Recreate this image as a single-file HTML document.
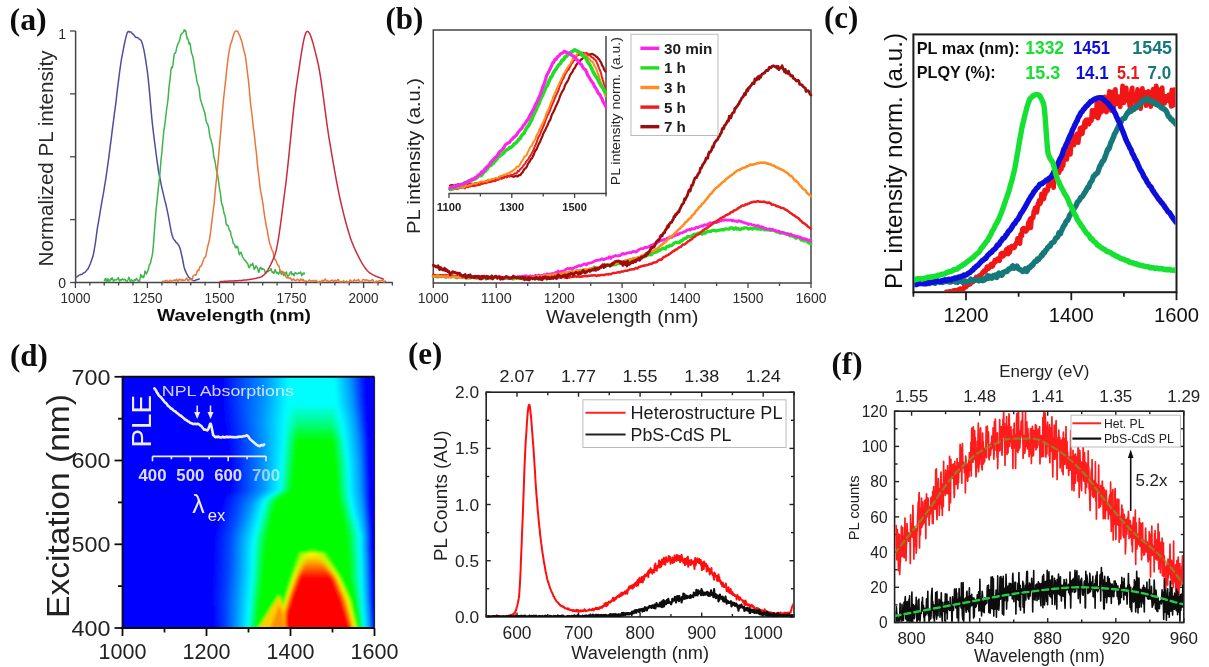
<!DOCTYPE html><html><head><meta charset="utf-8"><style>html,body{margin:0;padding:0;background:#fff;overflow:hidden}svg{display:block}</style></head><body><svg width="1209" height="667" viewBox="0 0 1209 667"><defs><clipPath id="clipc"><rect x="914.4" y="35.4" width="261.1" height="255.8"/></clipPath><clipPath id="clipd"><rect x="122.5" y="376.8" width="252" height="251.2"/></clipPath><filter id="blurd" x="-5%" y="-5%" width="110%" height="110%"><feGaussianBlur stdDeviation="1.6"/></filter><linearGradient id="gd0" gradientUnits="objectBoundingBox" x1="0" y1="0" x2="1" y2="0"><stop offset="0.3996" stop-color="#0000ff"/><stop offset="0.4678" stop-color="#0046ff"/><stop offset="0.5663" stop-color="#0096ff"/><stop offset="0.6572" stop-color="#00ffff"/><stop offset="0.6648" stop-color="#00ffff"/><stop offset="0.7405" stop-color="#00ffff"/><stop offset="0.7405" stop-color="#00ffff"/><stop offset="0.7405" stop-color="#00ffff"/><stop offset="0.7405" stop-color="#00ffff"/><stop offset="0.7405" stop-color="#00ffff"/><stop offset="0.7405" stop-color="#00ffff"/><stop offset="0.7405" stop-color="#00ffff"/><stop offset="0.7405" stop-color="#00ffff"/><stop offset="0.8125" stop-color="#00ffff"/><stop offset="0.8239" stop-color="#00ffff"/><stop offset="0.8845" stop-color="#0096ff"/><stop offset="0.9148" stop-color="#0046ff"/><stop offset="0.9413" stop-color="#0000ff"/></linearGradient><linearGradient id="gd1" gradientUnits="objectBoundingBox" x1="0" y1="0" x2="1" y2="0"><stop offset="0.3996" stop-color="#0000ff"/><stop offset="0.4678" stop-color="#0046ff"/><stop offset="0.5663" stop-color="#0096ff"/><stop offset="0.6572" stop-color="#00ffff"/><stop offset="0.6648" stop-color="#00ffff"/><stop offset="0.7405" stop-color="#00ffff"/><stop offset="0.7405" stop-color="#00ffff"/><stop offset="0.7405" stop-color="#00ffff"/><stop offset="0.7405" stop-color="#00ffff"/><stop offset="0.7405" stop-color="#00ffff"/><stop offset="0.7405" stop-color="#00ffff"/><stop offset="0.7405" stop-color="#00ffff"/><stop offset="0.7405" stop-color="#00ffff"/><stop offset="0.8125" stop-color="#00ffff"/><stop offset="0.8239" stop-color="#00ffff"/><stop offset="0.8845" stop-color="#0096ff"/><stop offset="0.9148" stop-color="#0046ff"/><stop offset="0.9413" stop-color="#0000ff"/></linearGradient><linearGradient id="gd2" gradientUnits="objectBoundingBox" x1="0" y1="0" x2="1" y2="0"><stop offset="0.3996" stop-color="#0000ff"/><stop offset="0.4678" stop-color="#0046ff"/><stop offset="0.5657" stop-color="#0096ff"/><stop offset="0.6563" stop-color="#00ffff"/><stop offset="0.6648" stop-color="#00ffff"/><stop offset="0.7408" stop-color="#00ffff"/><stop offset="0.7408" stop-color="#00ffff"/><stop offset="0.7408" stop-color="#00ffff"/><stop offset="0.7408" stop-color="#00ffff"/><stop offset="0.7408" stop-color="#00ffff"/><stop offset="0.7408" stop-color="#00ffff"/><stop offset="0.7408" stop-color="#00ffff"/><stop offset="0.7408" stop-color="#00ffff"/><stop offset="0.8134" stop-color="#00ffff"/><stop offset="0.8248" stop-color="#00ffff"/><stop offset="0.8854" stop-color="#0096ff"/><stop offset="0.9154" stop-color="#0046ff"/><stop offset="0.9416" stop-color="#0000ff"/></linearGradient><linearGradient id="gd3" gradientUnits="objectBoundingBox" x1="0" y1="0" x2="1" y2="0"><stop offset="0.3996" stop-color="#0000ff"/><stop offset="0.4678" stop-color="#0046ff"/><stop offset="0.5650" stop-color="#0096ff"/><stop offset="0.6552" stop-color="#00ffff"/><stop offset="0.6648" stop-color="#00ffff"/><stop offset="0.7412" stop-color="#00ffff"/><stop offset="0.7412" stop-color="#00ffff"/><stop offset="0.7412" stop-color="#00ffff"/><stop offset="0.7412" stop-color="#00ffff"/><stop offset="0.7412" stop-color="#00ffff"/><stop offset="0.7412" stop-color="#00ffff"/><stop offset="0.7412" stop-color="#00ffff"/><stop offset="0.7412" stop-color="#00ffff"/><stop offset="0.8145" stop-color="#00ffff"/><stop offset="0.8258" stop-color="#00ffff"/><stop offset="0.8865" stop-color="#0096ff"/><stop offset="0.9161" stop-color="#0046ff"/><stop offset="0.9419" stop-color="#0000ff"/></linearGradient><linearGradient id="gd4" gradientUnits="objectBoundingBox" x1="0" y1="0" x2="1" y2="0"><stop offset="0.3996" stop-color="#0000ff"/><stop offset="0.4678" stop-color="#0046ff"/><stop offset="0.5643" stop-color="#0096ff"/><stop offset="0.6542" stop-color="#00ffff"/><stop offset="0.6648" stop-color="#00ffff"/><stop offset="0.7415" stop-color="#00ffff"/><stop offset="0.7415" stop-color="#00ffff"/><stop offset="0.7415" stop-color="#00ffff"/><stop offset="0.7415" stop-color="#00ffff"/><stop offset="0.7415" stop-color="#00ffff"/><stop offset="0.7415" stop-color="#00ffff"/><stop offset="0.7415" stop-color="#00ffff"/><stop offset="0.7415" stop-color="#00ffff"/><stop offset="0.8155" stop-color="#00ffff"/><stop offset="0.8269" stop-color="#00ffff"/><stop offset="0.8875" stop-color="#0096ff"/><stop offset="0.9168" stop-color="#0046ff"/><stop offset="0.9423" stop-color="#0000ff"/></linearGradient><linearGradient id="gd5" gradientUnits="objectBoundingBox" x1="0" y1="0" x2="1" y2="0"><stop offset="0.3996" stop-color="#0000ff"/><stop offset="0.4678" stop-color="#0046ff"/><stop offset="0.5636" stop-color="#0096ff"/><stop offset="0.6531" stop-color="#00ffff"/><stop offset="0.6648" stop-color="#00ffff"/><stop offset="0.7419" stop-color="#00ffff"/><stop offset="0.7419" stop-color="#00ffff"/><stop offset="0.7419" stop-color="#00ffff"/><stop offset="0.7419" stop-color="#00ffff"/><stop offset="0.7419" stop-color="#00ffff"/><stop offset="0.7419" stop-color="#00ffff"/><stop offset="0.7419" stop-color="#00ffff"/><stop offset="0.7419" stop-color="#00ffff"/><stop offset="0.8166" stop-color="#00ffff"/><stop offset="0.8279" stop-color="#00ffff"/><stop offset="0.8885" stop-color="#0096ff"/><stop offset="0.9175" stop-color="#0046ff"/><stop offset="0.9426" stop-color="#0000ff"/></linearGradient><linearGradient id="gd6" gradientUnits="objectBoundingBox" x1="0" y1="0" x2="1" y2="0"><stop offset="0.3996" stop-color="#0000ff"/><stop offset="0.4678" stop-color="#0046ff"/><stop offset="0.5629" stop-color="#0096ff"/><stop offset="0.6521" stop-color="#00ffff"/><stop offset="0.6648" stop-color="#00ffff"/><stop offset="0.7422" stop-color="#00ffff"/><stop offset="0.7422" stop-color="#00ffff"/><stop offset="0.7422" stop-color="#00ffff"/><stop offset="0.7422" stop-color="#00ffff"/><stop offset="0.7422" stop-color="#00ffff"/><stop offset="0.7422" stop-color="#00ffff"/><stop offset="0.7422" stop-color="#00ffff"/><stop offset="0.7422" stop-color="#00ffff"/><stop offset="0.8176" stop-color="#00ffff"/><stop offset="0.8290" stop-color="#00ffff"/><stop offset="0.8896" stop-color="#0096ff"/><stop offset="0.9182" stop-color="#0046ff"/><stop offset="0.9430" stop-color="#0000ff"/></linearGradient><linearGradient id="gd7" gradientUnits="objectBoundingBox" x1="0" y1="0" x2="1" y2="0"><stop offset="0.3996" stop-color="#0000ff"/><stop offset="0.4678" stop-color="#0046ff"/><stop offset="0.5622" stop-color="#0096ff"/><stop offset="0.6510" stop-color="#00ffff"/><stop offset="0.6648" stop-color="#00ffff"/><stop offset="0.7426" stop-color="#00ffff"/><stop offset="0.7426" stop-color="#00ffff"/><stop offset="0.7426" stop-color="#00ffff"/><stop offset="0.7426" stop-color="#00ffff"/><stop offset="0.7426" stop-color="#00ffff"/><stop offset="0.7426" stop-color="#00ffff"/><stop offset="0.7426" stop-color="#00ffff"/><stop offset="0.7426" stop-color="#00ffff"/><stop offset="0.8187" stop-color="#00ffff"/><stop offset="0.8300" stop-color="#00ffff"/><stop offset="0.8906" stop-color="#0096ff"/><stop offset="0.9189" stop-color="#0046ff"/><stop offset="0.9433" stop-color="#0000ff"/></linearGradient><linearGradient id="gd8" gradientUnits="objectBoundingBox" x1="0" y1="0" x2="1" y2="0"><stop offset="0.3996" stop-color="#0000ff"/><stop offset="0.4678" stop-color="#0046ff"/><stop offset="0.5615" stop-color="#0096ff"/><stop offset="0.6500" stop-color="#00ffff"/><stop offset="0.6648" stop-color="#00ffff"/><stop offset="0.7429" stop-color="#00ffff"/><stop offset="0.7429" stop-color="#00ffff"/><stop offset="0.7429" stop-color="#00ffff"/><stop offset="0.7429" stop-color="#00ffff"/><stop offset="0.7429" stop-color="#00ffff"/><stop offset="0.7429" stop-color="#00ffff"/><stop offset="0.7429" stop-color="#00ffff"/><stop offset="0.7429" stop-color="#00ffff"/><stop offset="0.8197" stop-color="#00ffff"/><stop offset="0.8311" stop-color="#00ffff"/><stop offset="0.8917" stop-color="#0096ff"/><stop offset="0.9196" stop-color="#0046ff"/><stop offset="0.9437" stop-color="#0000ff"/></linearGradient><linearGradient id="gd9" gradientUnits="objectBoundingBox" x1="0" y1="0" x2="1" y2="0"><stop offset="0.3996" stop-color="#0000ff"/><stop offset="0.4678" stop-color="#0046ff"/><stop offset="0.5608" stop-color="#0096ff"/><stop offset="0.6489" stop-color="#00ffff"/><stop offset="0.6648" stop-color="#00ffff"/><stop offset="0.7433" stop-color="#00ffff"/><stop offset="0.7433" stop-color="#00ffff"/><stop offset="0.7433" stop-color="#00ffff"/><stop offset="0.7433" stop-color="#00ffff"/><stop offset="0.7433" stop-color="#00ffff"/><stop offset="0.7433" stop-color="#00ffff"/><stop offset="0.7433" stop-color="#00ffff"/><stop offset="0.7433" stop-color="#00ffff"/><stop offset="0.8208" stop-color="#00ffff"/><stop offset="0.8321" stop-color="#00ffff"/><stop offset="0.8927" stop-color="#0096ff"/><stop offset="0.9203" stop-color="#0046ff"/><stop offset="0.9440" stop-color="#0000ff"/></linearGradient><linearGradient id="gd10" gradientUnits="objectBoundingBox" x1="0" y1="0" x2="1" y2="0"><stop offset="0.3996" stop-color="#0000ff"/><stop offset="0.4678" stop-color="#0046ff"/><stop offset="0.5601" stop-color="#0096ff"/><stop offset="0.6479" stop-color="#00ffff"/><stop offset="0.6648" stop-color="#00ffff"/><stop offset="0.7436" stop-color="#00ffff"/><stop offset="0.7436" stop-color="#00ffff"/><stop offset="0.7436" stop-color="#00ffff"/><stop offset="0.7436" stop-color="#00ffff"/><stop offset="0.7436" stop-color="#00ffff"/><stop offset="0.7436" stop-color="#00ffff"/><stop offset="0.7436" stop-color="#00ffff"/><stop offset="0.7436" stop-color="#00ffff"/><stop offset="0.8218" stop-color="#00ffff"/><stop offset="0.8332" stop-color="#00ffff"/><stop offset="0.8938" stop-color="#0096ff"/><stop offset="0.9210" stop-color="#0046ff"/><stop offset="0.9444" stop-color="#0000ff"/></linearGradient><linearGradient id="gd11" gradientUnits="objectBoundingBox" x1="0" y1="0" x2="1" y2="0"><stop offset="0.3996" stop-color="#0000ff"/><stop offset="0.4678" stop-color="#0046ff"/><stop offset="0.5594" stop-color="#0096ff"/><stop offset="0.6469" stop-color="#00ffff"/><stop offset="0.6648" stop-color="#00ffff"/><stop offset="0.7440" stop-color="#00ffff"/><stop offset="0.7440" stop-color="#00ffff"/><stop offset="0.7440" stop-color="#00ffff"/><stop offset="0.7440" stop-color="#00ffff"/><stop offset="0.7440" stop-color="#00ffff"/><stop offset="0.7440" stop-color="#00ffff"/><stop offset="0.7440" stop-color="#00ffff"/><stop offset="0.7440" stop-color="#00ffff"/><stop offset="0.8228" stop-color="#00ffff"/><stop offset="0.8342" stop-color="#00ffff"/><stop offset="0.8948" stop-color="#0096ff"/><stop offset="0.9217" stop-color="#0046ff"/><stop offset="0.9447" stop-color="#0000ff"/></linearGradient><linearGradient id="gd12" gradientUnits="objectBoundingBox" x1="0" y1="0" x2="1" y2="0"><stop offset="0.3996" stop-color="#0000ff"/><stop offset="0.4678" stop-color="#0046ff"/><stop offset="0.5587" stop-color="#0096ff"/><stop offset="0.6458" stop-color="#00ffff"/><stop offset="0.6648" stop-color="#00ffff"/><stop offset="0.7443" stop-color="#00ffff"/><stop offset="0.7443" stop-color="#00ffff"/><stop offset="0.7443" stop-color="#00ffff"/><stop offset="0.7443" stop-color="#00ffff"/><stop offset="0.7443" stop-color="#00ffff"/><stop offset="0.7443" stop-color="#00ffff"/><stop offset="0.7443" stop-color="#00ffff"/><stop offset="0.7443" stop-color="#00ffff"/><stop offset="0.8238" stop-color="#00ffff"/><stop offset="0.8353" stop-color="#00ffff"/><stop offset="0.8959" stop-color="#0096ff"/><stop offset="0.9224" stop-color="#0046ff"/><stop offset="0.9451" stop-color="#0000ff"/></linearGradient><linearGradient id="gd13" gradientUnits="objectBoundingBox" x1="0" y1="0" x2="1" y2="0"><stop offset="0.4007" stop-color="#0000ff"/><stop offset="0.4689" stop-color="#0046ff"/><stop offset="0.5576" stop-color="#0096ff"/><stop offset="0.6448" stop-color="#00ffff"/><stop offset="0.6680" stop-color="#00ffef"/><stop offset="0.7443" stop-color="#00ffef"/><stop offset="0.7443" stop-color="#00ffef"/><stop offset="0.7443" stop-color="#00ffef"/><stop offset="0.7443" stop-color="#00ffef"/><stop offset="0.7443" stop-color="#00ffef"/><stop offset="0.7443" stop-color="#00ffef"/><stop offset="0.7443" stop-color="#00ffef"/><stop offset="0.7443" stop-color="#00ffef"/><stop offset="0.8223" stop-color="#00ffef"/><stop offset="0.8379" stop-color="#00ffff"/><stop offset="0.8974" stop-color="#0096ff"/><stop offset="0.9234" stop-color="#0046ff"/><stop offset="0.9456" stop-color="#0000ff"/></linearGradient><linearGradient id="gd14" gradientUnits="objectBoundingBox" x1="0" y1="0" x2="1" y2="0"><stop offset="0.4017" stop-color="#0000ff"/><stop offset="0.4699" stop-color="#0046ff"/><stop offset="0.5566" stop-color="#0096ff"/><stop offset="0.6437" stop-color="#00ffff"/><stop offset="0.6711" stop-color="#00ffdf"/><stop offset="0.7443" stop-color="#00ffdf"/><stop offset="0.7443" stop-color="#00ffdf"/><stop offset="0.7443" stop-color="#00ffdf"/><stop offset="0.7443" stop-color="#00ffdf"/><stop offset="0.7443" stop-color="#00ffdf"/><stop offset="0.7443" stop-color="#00ffdf"/><stop offset="0.7443" stop-color="#00ffdf"/><stop offset="0.7443" stop-color="#00ffdf"/><stop offset="0.8207" stop-color="#00ffdf"/><stop offset="0.8405" stop-color="#00ffff"/><stop offset="0.8990" stop-color="#0096ff"/><stop offset="0.9245" stop-color="#0046ff"/><stop offset="0.9461" stop-color="#0000ff"/></linearGradient><linearGradient id="gd15" gradientUnits="objectBoundingBox" x1="0" y1="0" x2="1" y2="0"><stop offset="0.4028" stop-color="#0000ff"/><stop offset="0.4710" stop-color="#0046ff"/><stop offset="0.5555" stop-color="#0096ff"/><stop offset="0.6427" stop-color="#00ffff"/><stop offset="0.6743" stop-color="#00ffcf"/><stop offset="0.7443" stop-color="#00ffcf"/><stop offset="0.7443" stop-color="#00ffcf"/><stop offset="0.7443" stop-color="#00ffcf"/><stop offset="0.7443" stop-color="#00ffcf"/><stop offset="0.7443" stop-color="#00ffcf"/><stop offset="0.7443" stop-color="#00ffcf"/><stop offset="0.7443" stop-color="#00ffcf"/><stop offset="0.7443" stop-color="#00ffcf"/><stop offset="0.8191" stop-color="#00ffcf"/><stop offset="0.8432" stop-color="#00ffff"/><stop offset="0.9006" stop-color="#0096ff"/><stop offset="0.9255" stop-color="#0046ff"/><stop offset="0.9467" stop-color="#0000ff"/></linearGradient><linearGradient id="gd16" gradientUnits="objectBoundingBox" x1="0" y1="0" x2="1" y2="0"><stop offset="0.4039" stop-color="#0000ff"/><stop offset="0.4720" stop-color="#0046ff"/><stop offset="0.5545" stop-color="#0096ff"/><stop offset="0.6416" stop-color="#00ffff"/><stop offset="0.6775" stop-color="#00ffbf"/><stop offset="0.7443" stop-color="#00ffbf"/><stop offset="0.7443" stop-color="#00ffbf"/><stop offset="0.7443" stop-color="#00ffbf"/><stop offset="0.7443" stop-color="#00ffbf"/><stop offset="0.7443" stop-color="#00ffbf"/><stop offset="0.7443" stop-color="#00ffbf"/><stop offset="0.7443" stop-color="#00ffbf"/><stop offset="0.7443" stop-color="#00ffbf"/><stop offset="0.8175" stop-color="#00ffbf"/><stop offset="0.8458" stop-color="#00ffff"/><stop offset="0.9022" stop-color="#0096ff"/><stop offset="0.9266" stop-color="#0046ff"/><stop offset="0.9472" stop-color="#0000ff"/></linearGradient><linearGradient id="gd17" gradientUnits="objectBoundingBox" x1="0" y1="0" x2="1" y2="0"><stop offset="0.4049" stop-color="#0000ff"/><stop offset="0.4731" stop-color="#0046ff"/><stop offset="0.5534" stop-color="#0096ff"/><stop offset="0.6406" stop-color="#00ffff"/><stop offset="0.6806" stop-color="#00ffaf"/><stop offset="0.7443" stop-color="#00ffaf"/><stop offset="0.7443" stop-color="#00ffaf"/><stop offset="0.7443" stop-color="#00ffaf"/><stop offset="0.7443" stop-color="#00ffaf"/><stop offset="0.7443" stop-color="#00ffaf"/><stop offset="0.7443" stop-color="#00ffaf"/><stop offset="0.7443" stop-color="#00ffaf"/><stop offset="0.7443" stop-color="#00ffaf"/><stop offset="0.8159" stop-color="#00ffaf"/><stop offset="0.8484" stop-color="#00ffff"/><stop offset="0.9038" stop-color="#0096ff"/><stop offset="0.9276" stop-color="#0046ff"/><stop offset="0.9477" stop-color="#0000ff"/></linearGradient><linearGradient id="gd18" gradientUnits="objectBoundingBox" x1="0" y1="0" x2="1" y2="0"><stop offset="0.4060" stop-color="#0000ff"/><stop offset="0.4741" stop-color="#0046ff"/><stop offset="0.5524" stop-color="#0096ff"/><stop offset="0.6395" stop-color="#00ffff"/><stop offset="0.6838" stop-color="#00ff9f"/><stop offset="0.7443" stop-color="#00ff9f"/><stop offset="0.7443" stop-color="#00ff9f"/><stop offset="0.7443" stop-color="#00ff9f"/><stop offset="0.7443" stop-color="#00ff9f"/><stop offset="0.7443" stop-color="#00ff9f"/><stop offset="0.7443" stop-color="#00ff9f"/><stop offset="0.7443" stop-color="#00ff9f"/><stop offset="0.7443" stop-color="#00ff9f"/><stop offset="0.8144" stop-color="#00ff9f"/><stop offset="0.8511" stop-color="#00ffff"/><stop offset="0.9053" stop-color="#0096ff"/><stop offset="0.9287" stop-color="#0046ff"/><stop offset="0.9482" stop-color="#0000ff"/></linearGradient><linearGradient id="gd19" gradientUnits="objectBoundingBox" x1="0" y1="0" x2="1" y2="0"><stop offset="0.4070" stop-color="#0000ff"/><stop offset="0.4752" stop-color="#0046ff"/><stop offset="0.5513" stop-color="#0096ff"/><stop offset="0.6384" stop-color="#00ffff"/><stop offset="0.6869" stop-color="#00ff8f"/><stop offset="0.7443" stop-color="#00ff8f"/><stop offset="0.7443" stop-color="#00ff8f"/><stop offset="0.7443" stop-color="#00ff8f"/><stop offset="0.7443" stop-color="#00ff8f"/><stop offset="0.7443" stop-color="#00ff8f"/><stop offset="0.7443" stop-color="#00ff8f"/><stop offset="0.7443" stop-color="#00ff8f"/><stop offset="0.7443" stop-color="#00ff8f"/><stop offset="0.8128" stop-color="#00ff8f"/><stop offset="0.8537" stop-color="#00ffff"/><stop offset="0.9069" stop-color="#0096ff"/><stop offset="0.9297" stop-color="#0046ff"/><stop offset="0.9488" stop-color="#0000ff"/></linearGradient><linearGradient id="gd20" gradientUnits="objectBoundingBox" x1="0" y1="0" x2="1" y2="0"><stop offset="0.4085" stop-color="#0000ff"/><stop offset="0.4767" stop-color="#0046ff"/><stop offset="0.5520" stop-color="#0096ff"/><stop offset="0.6378" stop-color="#00ffff"/><stop offset="0.6871" stop-color="#00ff7c"/><stop offset="0.7443" stop-color="#00ff7c"/><stop offset="0.7443" stop-color="#00ff7c"/><stop offset="0.7443" stop-color="#00ff7c"/><stop offset="0.7443" stop-color="#00ff7c"/><stop offset="0.7443" stop-color="#00ff7c"/><stop offset="0.7443" stop-color="#00ff7c"/><stop offset="0.7443" stop-color="#00ff7c"/><stop offset="0.7443" stop-color="#00ff7c"/><stop offset="0.8134" stop-color="#00ff7c"/><stop offset="0.8555" stop-color="#00ffff"/><stop offset="0.9081" stop-color="#0096ff"/><stop offset="0.9308" stop-color="#0046ff"/><stop offset="0.9493" stop-color="#0000ff"/></linearGradient><linearGradient id="gd21" gradientUnits="objectBoundingBox" x1="0" y1="0" x2="1" y2="0"><stop offset="0.4101" stop-color="#0000ff"/><stop offset="0.4783" stop-color="#0046ff"/><stop offset="0.5531" stop-color="#0096ff"/><stop offset="0.6373" stop-color="#00ffff"/><stop offset="0.6865" stop-color="#00ff69"/><stop offset="0.7443" stop-color="#00ff69"/><stop offset="0.7443" stop-color="#00ff69"/><stop offset="0.7443" stop-color="#00ff69"/><stop offset="0.7443" stop-color="#00ff69"/><stop offset="0.7443" stop-color="#00ff69"/><stop offset="0.7443" stop-color="#00ff69"/><stop offset="0.7443" stop-color="#00ff69"/><stop offset="0.7443" stop-color="#00ff69"/><stop offset="0.8144" stop-color="#00ff69"/><stop offset="0.8570" stop-color="#00ffff"/><stop offset="0.9091" stop-color="#0096ff"/><stop offset="0.9318" stop-color="#0046ff"/><stop offset="0.9498" stop-color="#0000ff"/></linearGradient><linearGradient id="gd22" gradientUnits="objectBoundingBox" x1="0" y1="0" x2="1" y2="0"><stop offset="0.4116" stop-color="#0000ff"/><stop offset="0.4798" stop-color="#0046ff"/><stop offset="0.5541" stop-color="#0096ff"/><stop offset="0.6368" stop-color="#00ffff"/><stop offset="0.6860" stop-color="#00ff55"/><stop offset="0.7443" stop-color="#00ff55"/><stop offset="0.7443" stop-color="#00ff55"/><stop offset="0.7443" stop-color="#00ff55"/><stop offset="0.7443" stop-color="#00ff55"/><stop offset="0.7443" stop-color="#00ff55"/><stop offset="0.7443" stop-color="#00ff55"/><stop offset="0.7443" stop-color="#00ff55"/><stop offset="0.7443" stop-color="#00ff55"/><stop offset="0.8155" stop-color="#00ff55"/><stop offset="0.8586" stop-color="#00ffff"/><stop offset="0.9102" stop-color="#0096ff"/><stop offset="0.9329" stop-color="#0046ff"/><stop offset="0.9503" stop-color="#0000ff"/></linearGradient><linearGradient id="gd23" gradientUnits="objectBoundingBox" x1="0" y1="0" x2="1" y2="0"><stop offset="0.4132" stop-color="#0000ff"/><stop offset="0.4814" stop-color="#0046ff"/><stop offset="0.5552" stop-color="#0096ff"/><stop offset="0.6362" stop-color="#00ffff"/><stop offset="0.6855" stop-color="#00ff42"/><stop offset="0.7443" stop-color="#00ff42"/><stop offset="0.7443" stop-color="#00ff42"/><stop offset="0.7443" stop-color="#00ff42"/><stop offset="0.7443" stop-color="#00ff42"/><stop offset="0.7443" stop-color="#00ff42"/><stop offset="0.7443" stop-color="#00ff42"/><stop offset="0.7443" stop-color="#00ff42"/><stop offset="0.7443" stop-color="#00ff42"/><stop offset="0.8165" stop-color="#00ff42"/><stop offset="0.8602" stop-color="#00ffff"/><stop offset="0.9112" stop-color="#0096ff"/><stop offset="0.9339" stop-color="#0046ff"/><stop offset="0.9509" stop-color="#0000ff"/></linearGradient><linearGradient id="gd24" gradientUnits="objectBoundingBox" x1="0" y1="0" x2="1" y2="0"><stop offset="0.4148" stop-color="#0000ff"/><stop offset="0.4830" stop-color="#0046ff"/><stop offset="0.5562" stop-color="#0096ff"/><stop offset="0.6357" stop-color="#00ffff"/><stop offset="0.6850" stop-color="#00ff2e"/><stop offset="0.7443" stop-color="#00ff2e"/><stop offset="0.7443" stop-color="#00ff2e"/><stop offset="0.7443" stop-color="#00ff2e"/><stop offset="0.7443" stop-color="#00ff2e"/><stop offset="0.7443" stop-color="#00ff2e"/><stop offset="0.7443" stop-color="#00ff2e"/><stop offset="0.7443" stop-color="#00ff2e"/><stop offset="0.7443" stop-color="#00ff2e"/><stop offset="0.8176" stop-color="#00ff2e"/><stop offset="0.8618" stop-color="#00ffff"/><stop offset="0.9123" stop-color="#0096ff"/><stop offset="0.9350" stop-color="#0046ff"/><stop offset="0.9514" stop-color="#0000ff"/></linearGradient><linearGradient id="gd25" gradientUnits="objectBoundingBox" x1="0" y1="0" x2="1" y2="0"><stop offset="0.4164" stop-color="#0000ff"/><stop offset="0.4846" stop-color="#0046ff"/><stop offset="0.5573" stop-color="#0096ff"/><stop offset="0.6352" stop-color="#00ffff"/><stop offset="0.6844" stop-color="#00ff1b"/><stop offset="0.7443" stop-color="#00ff1b"/><stop offset="0.7443" stop-color="#00ff1b"/><stop offset="0.7443" stop-color="#00ff1b"/><stop offset="0.7443" stop-color="#00ff1b"/><stop offset="0.7443" stop-color="#00ff1b"/><stop offset="0.7443" stop-color="#00ff1b"/><stop offset="0.7443" stop-color="#00ff1b"/><stop offset="0.7443" stop-color="#00ff1b"/><stop offset="0.8186" stop-color="#00ff1b"/><stop offset="0.8634" stop-color="#00ffff"/><stop offset="0.9133" stop-color="#0096ff"/><stop offset="0.9360" stop-color="#0046ff"/><stop offset="0.9519" stop-color="#0000ff"/></linearGradient><linearGradient id="gd26" gradientUnits="objectBoundingBox" x1="0" y1="0" x2="1" y2="0"><stop offset="0.4180" stop-color="#0000ff"/><stop offset="0.4861" stop-color="#0046ff"/><stop offset="0.5583" stop-color="#0096ff"/><stop offset="0.6347" stop-color="#00ffff"/><stop offset="0.6839" stop-color="#00ff07"/><stop offset="0.7443" stop-color="#00ff07"/><stop offset="0.7443" stop-color="#00ff07"/><stop offset="0.7443" stop-color="#00ff07"/><stop offset="0.7443" stop-color="#00ff07"/><stop offset="0.7443" stop-color="#00ff07"/><stop offset="0.7443" stop-color="#00ff07"/><stop offset="0.7443" stop-color="#00ff07"/><stop offset="0.7443" stop-color="#00ff07"/><stop offset="0.8197" stop-color="#00ff07"/><stop offset="0.8649" stop-color="#00ffff"/><stop offset="0.9144" stop-color="#0096ff"/><stop offset="0.9371" stop-color="#0046ff"/><stop offset="0.9525" stop-color="#0000ff"/></linearGradient><linearGradient id="gd27" gradientUnits="objectBoundingBox" x1="0" y1="0" x2="1" y2="0"><stop offset="0.4195" stop-color="#0000ff"/><stop offset="0.4870" stop-color="#0046ff"/><stop offset="0.5587" stop-color="#0096ff"/><stop offset="0.6340" stop-color="#00ffff"/><stop offset="0.6830" stop-color="#00ff00"/><stop offset="0.7441" stop-color="#00ff00"/><stop offset="0.7441" stop-color="#00ff00"/><stop offset="0.7441" stop-color="#00ff00"/><stop offset="0.7441" stop-color="#00ff00"/><stop offset="0.7441" stop-color="#00ff00"/><stop offset="0.7441" stop-color="#00ff00"/><stop offset="0.7441" stop-color="#00ff00"/><stop offset="0.7441" stop-color="#00ff00"/><stop offset="0.8208" stop-color="#00ff00"/><stop offset="0.8663" stop-color="#00ffff"/><stop offset="0.9153" stop-color="#0096ff"/><stop offset="0.9377" stop-color="#0046ff"/><stop offset="0.9527" stop-color="#0000ff"/></linearGradient><linearGradient id="gd28" gradientUnits="objectBoundingBox" x1="0" y1="0" x2="1" y2="0"><stop offset="0.4211" stop-color="#0000ff"/><stop offset="0.4874" stop-color="#0046ff"/><stop offset="0.5587" stop-color="#0096ff"/><stop offset="0.6332" stop-color="#00ffff"/><stop offset="0.6818" stop-color="#00ff00"/><stop offset="0.7437" stop-color="#00ff00"/><stop offset="0.7437" stop-color="#00ff00"/><stop offset="0.7437" stop-color="#00ff00"/><stop offset="0.7437" stop-color="#00ff00"/><stop offset="0.7437" stop-color="#00ff00"/><stop offset="0.7437" stop-color="#00ff00"/><stop offset="0.7437" stop-color="#00ff00"/><stop offset="0.7437" stop-color="#00ff00"/><stop offset="0.8220" stop-color="#00ff00"/><stop offset="0.8674" stop-color="#00ffff"/><stop offset="0.9161" stop-color="#0096ff"/><stop offset="0.9381" stop-color="#0046ff"/><stop offset="0.9527" stop-color="#0000ff"/></linearGradient><linearGradient id="gd29" gradientUnits="objectBoundingBox" x1="0" y1="0" x2="1" y2="0"><stop offset="0.4227" stop-color="#0000ff"/><stop offset="0.4878" stop-color="#0046ff"/><stop offset="0.5587" stop-color="#0096ff"/><stop offset="0.6324" stop-color="#00ffff"/><stop offset="0.6806" stop-color="#00ff00"/><stop offset="0.7433" stop-color="#00ff00"/><stop offset="0.7433" stop-color="#00ff00"/><stop offset="0.7433" stop-color="#00ff00"/><stop offset="0.7433" stop-color="#00ff00"/><stop offset="0.7433" stop-color="#00ff00"/><stop offset="0.7433" stop-color="#00ff00"/><stop offset="0.7433" stop-color="#00ff00"/><stop offset="0.7433" stop-color="#00ff00"/><stop offset="0.8232" stop-color="#00ff00"/><stop offset="0.8686" stop-color="#00ffff"/><stop offset="0.9168" stop-color="#0096ff"/><stop offset="0.9385" stop-color="#0046ff"/><stop offset="0.9527" stop-color="#0000ff"/></linearGradient><linearGradient id="gd30" gradientUnits="objectBoundingBox" x1="0" y1="0" x2="1" y2="0"><stop offset="0.4243" stop-color="#0000ff"/><stop offset="0.4882" stop-color="#0046ff"/><stop offset="0.5587" stop-color="#0096ff"/><stop offset="0.6316" stop-color="#00ffff"/><stop offset="0.6794" stop-color="#00ff00"/><stop offset="0.7429" stop-color="#00ff00"/><stop offset="0.7429" stop-color="#00ff00"/><stop offset="0.7429" stop-color="#00ff00"/><stop offset="0.7429" stop-color="#00ff00"/><stop offset="0.7429" stop-color="#00ff00"/><stop offset="0.7429" stop-color="#00ff00"/><stop offset="0.7429" stop-color="#00ff00"/><stop offset="0.7429" stop-color="#00ff00"/><stop offset="0.8244" stop-color="#00ff00"/><stop offset="0.8698" stop-color="#00ffff"/><stop offset="0.9176" stop-color="#0096ff"/><stop offset="0.9389" stop-color="#0046ff"/><stop offset="0.9527" stop-color="#0000ff"/></linearGradient><linearGradient id="gd31" gradientUnits="objectBoundingBox" x1="0" y1="0" x2="1" y2="0"><stop offset="0.4259" stop-color="#0000ff"/><stop offset="0.4886" stop-color="#0046ff"/><stop offset="0.5587" stop-color="#0096ff"/><stop offset="0.6308" stop-color="#00ffff"/><stop offset="0.6782" stop-color="#00ff00"/><stop offset="0.7425" stop-color="#00ff00"/><stop offset="0.7425" stop-color="#00ff00"/><stop offset="0.7425" stop-color="#00ff00"/><stop offset="0.7425" stop-color="#00ff00"/><stop offset="0.7425" stop-color="#00ff00"/><stop offset="0.7425" stop-color="#00ff00"/><stop offset="0.7425" stop-color="#00ff00"/><stop offset="0.7425" stop-color="#00ff00"/><stop offset="0.8255" stop-color="#00ff00"/><stop offset="0.8710" stop-color="#00ffff"/><stop offset="0.9184" stop-color="#0096ff"/><stop offset="0.9393" stop-color="#0046ff"/><stop offset="0.9527" stop-color="#0000ff"/></linearGradient><linearGradient id="gd32" gradientUnits="objectBoundingBox" x1="0" y1="0" x2="1" y2="0"><stop offset="0.4274" stop-color="#0000ff"/><stop offset="0.4890" stop-color="#0046ff"/><stop offset="0.5587" stop-color="#0096ff"/><stop offset="0.6300" stop-color="#00ffff"/><stop offset="0.6771" stop-color="#00ff00"/><stop offset="0.7421" stop-color="#00ff00"/><stop offset="0.7421" stop-color="#00ff00"/><stop offset="0.7421" stop-color="#00ff00"/><stop offset="0.7421" stop-color="#00ff00"/><stop offset="0.7421" stop-color="#00ff00"/><stop offset="0.7421" stop-color="#00ff00"/><stop offset="0.7421" stop-color="#00ff00"/><stop offset="0.7421" stop-color="#00ff00"/><stop offset="0.8267" stop-color="#00ff00"/><stop offset="0.8722" stop-color="#00ffff"/><stop offset="0.9192" stop-color="#0096ff"/><stop offset="0.9397" stop-color="#0046ff"/><stop offset="0.9527" stop-color="#0000ff"/></linearGradient><linearGradient id="gd33" gradientUnits="objectBoundingBox" x1="0" y1="0" x2="1" y2="0"><stop offset="0.4290" stop-color="#0000ff"/><stop offset="0.4894" stop-color="#0046ff"/><stop offset="0.5587" stop-color="#0096ff"/><stop offset="0.6292" stop-color="#00ffff"/><stop offset="0.6759" stop-color="#00ff00"/><stop offset="0.7417" stop-color="#00ff00"/><stop offset="0.7417" stop-color="#00ff00"/><stop offset="0.7417" stop-color="#00ff00"/><stop offset="0.7417" stop-color="#00ff00"/><stop offset="0.7417" stop-color="#00ff00"/><stop offset="0.7417" stop-color="#00ff00"/><stop offset="0.7417" stop-color="#00ff00"/><stop offset="0.7417" stop-color="#00ff00"/><stop offset="0.8279" stop-color="#00ff00"/><stop offset="0.8734" stop-color="#00ffff"/><stop offset="0.9200" stop-color="#0096ff"/><stop offset="0.9401" stop-color="#0046ff"/><stop offset="0.9527" stop-color="#0000ff"/></linearGradient><linearGradient id="gd34" gradientUnits="objectBoundingBox" x1="0" y1="0" x2="1" y2="0"><stop offset="0.4306" stop-color="#0000ff"/><stop offset="0.4897" stop-color="#0046ff"/><stop offset="0.5587" stop-color="#0096ff"/><stop offset="0.6285" stop-color="#00ffff"/><stop offset="0.6747" stop-color="#00ff00"/><stop offset="0.7413" stop-color="#00ff00"/><stop offset="0.7413" stop-color="#00ff00"/><stop offset="0.7413" stop-color="#00ff00"/><stop offset="0.7413" stop-color="#00ff00"/><stop offset="0.7413" stop-color="#00ff00"/><stop offset="0.7413" stop-color="#00ff00"/><stop offset="0.7413" stop-color="#00ff00"/><stop offset="0.7413" stop-color="#00ff00"/><stop offset="0.8291" stop-color="#00ff00"/><stop offset="0.8746" stop-color="#00ffff"/><stop offset="0.9208" stop-color="#0096ff"/><stop offset="0.9405" stop-color="#0046ff"/><stop offset="0.9527" stop-color="#0000ff"/></linearGradient><linearGradient id="gd35" gradientUnits="objectBoundingBox" x1="0" y1="0" x2="1" y2="0"><stop offset="0.4322" stop-color="#0000ff"/><stop offset="0.4901" stop-color="#0046ff"/><stop offset="0.5587" stop-color="#0096ff"/><stop offset="0.6277" stop-color="#00ffff"/><stop offset="0.6735" stop-color="#00ff00"/><stop offset="0.7409" stop-color="#00ff00"/><stop offset="0.7409" stop-color="#00ff00"/><stop offset="0.7409" stop-color="#00ff00"/><stop offset="0.7409" stop-color="#00ff00"/><stop offset="0.7409" stop-color="#00ff00"/><stop offset="0.7409" stop-color="#00ff00"/><stop offset="0.7409" stop-color="#00ff00"/><stop offset="0.7409" stop-color="#00ff00"/><stop offset="0.8303" stop-color="#00ff00"/><stop offset="0.8757" stop-color="#00ffff"/><stop offset="0.9216" stop-color="#0096ff"/><stop offset="0.9409" stop-color="#0046ff"/><stop offset="0.9527" stop-color="#0000ff"/></linearGradient><linearGradient id="gd36" gradientUnits="objectBoundingBox" x1="0" y1="0" x2="1" y2="0"><stop offset="0.4337" stop-color="#0000ff"/><stop offset="0.4905" stop-color="#0046ff"/><stop offset="0.5587" stop-color="#0096ff"/><stop offset="0.6269" stop-color="#00ffff"/><stop offset="0.6723" stop-color="#00ff00"/><stop offset="0.7405" stop-color="#00ff00"/><stop offset="0.7405" stop-color="#00ff00"/><stop offset="0.7405" stop-color="#00ff00"/><stop offset="0.7405" stop-color="#00ff00"/><stop offset="0.7405" stop-color="#00ff00"/><stop offset="0.7405" stop-color="#00ff00"/><stop offset="0.7405" stop-color="#00ff00"/><stop offset="0.7405" stop-color="#00ff00"/><stop offset="0.8315" stop-color="#00ff00"/><stop offset="0.8769" stop-color="#00ffff"/><stop offset="0.9224" stop-color="#0096ff"/><stop offset="0.9413" stop-color="#0046ff"/><stop offset="0.9527" stop-color="#0000ff"/></linearGradient><linearGradient id="gd37" gradientUnits="objectBoundingBox" x1="0" y1="0" x2="1" y2="0"><stop offset="0.4333" stop-color="#0000ff"/><stop offset="0.4905" stop-color="#0046ff"/><stop offset="0.5583" stop-color="#0096ff"/><stop offset="0.6262" stop-color="#00ffff"/><stop offset="0.6712" stop-color="#00ff00"/><stop offset="0.7405" stop-color="#00ff00"/><stop offset="0.7405" stop-color="#00ff00"/><stop offset="0.7405" stop-color="#00ff00"/><stop offset="0.7405" stop-color="#00ff00"/><stop offset="0.7405" stop-color="#00ff00"/><stop offset="0.7405" stop-color="#00ff00"/><stop offset="0.7405" stop-color="#00ff00"/><stop offset="0.7405" stop-color="#00ff00"/><stop offset="0.8322" stop-color="#00ff00"/><stop offset="0.8773" stop-color="#00ffff"/><stop offset="0.9227" stop-color="#0096ff"/><stop offset="0.9417" stop-color="#0046ff"/><stop offset="0.9530" stop-color="#0000ff"/></linearGradient><linearGradient id="gd38" gradientUnits="objectBoundingBox" x1="0" y1="0" x2="1" y2="0"><stop offset="0.4330" stop-color="#0000ff"/><stop offset="0.4905" stop-color="#0046ff"/><stop offset="0.5580" stop-color="#0096ff"/><stop offset="0.6254" stop-color="#00ffff"/><stop offset="0.6701" stop-color="#00ff00"/><stop offset="0.7405" stop-color="#00ff00"/><stop offset="0.7405" stop-color="#00ff00"/><stop offset="0.7405" stop-color="#00ff00"/><stop offset="0.7405" stop-color="#00ff00"/><stop offset="0.7405" stop-color="#00ff00"/><stop offset="0.7405" stop-color="#00ff00"/><stop offset="0.7405" stop-color="#00ff00"/><stop offset="0.7405" stop-color="#00ff00"/><stop offset="0.8329" stop-color="#00ff00"/><stop offset="0.8776" stop-color="#00ffff"/><stop offset="0.9231" stop-color="#0096ff"/><stop offset="0.9420" stop-color="#0046ff"/><stop offset="0.9534" stop-color="#0000ff"/></linearGradient><linearGradient id="gd39" gradientUnits="objectBoundingBox" x1="0" y1="0" x2="1" y2="0"><stop offset="0.4326" stop-color="#0000ff"/><stop offset="0.4905" stop-color="#0046ff"/><stop offset="0.5576" stop-color="#0096ff"/><stop offset="0.6247" stop-color="#00ffff"/><stop offset="0.6690" stop-color="#00ff00"/><stop offset="0.7405" stop-color="#00ff00"/><stop offset="0.7405" stop-color="#00ff00"/><stop offset="0.7405" stop-color="#00ff00"/><stop offset="0.7405" stop-color="#00ff00"/><stop offset="0.7405" stop-color="#00ff00"/><stop offset="0.7405" stop-color="#00ff00"/><stop offset="0.7405" stop-color="#00ff00"/><stop offset="0.7405" stop-color="#00ff00"/><stop offset="0.8336" stop-color="#00ff00"/><stop offset="0.8780" stop-color="#00ffff"/><stop offset="0.9234" stop-color="#0096ff"/><stop offset="0.9424" stop-color="#0046ff"/><stop offset="0.9538" stop-color="#0000ff"/></linearGradient><linearGradient id="gd40" gradientUnits="objectBoundingBox" x1="0" y1="0" x2="1" y2="0"><stop offset="0.4322" stop-color="#0000ff"/><stop offset="0.4905" stop-color="#0046ff"/><stop offset="0.5572" stop-color="#0096ff"/><stop offset="0.6240" stop-color="#00ffff"/><stop offset="0.6680" stop-color="#00ff00"/><stop offset="0.7405" stop-color="#00ff00"/><stop offset="0.7405" stop-color="#00ff00"/><stop offset="0.7405" stop-color="#00ff00"/><stop offset="0.7405" stop-color="#00ff00"/><stop offset="0.7405" stop-color="#00ff00"/><stop offset="0.7405" stop-color="#00ff00"/><stop offset="0.7405" stop-color="#00ff00"/><stop offset="0.7405" stop-color="#00ff00"/><stop offset="0.8344" stop-color="#00ff00"/><stop offset="0.8784" stop-color="#00ffff"/><stop offset="0.9238" stop-color="#0096ff"/><stop offset="0.9428" stop-color="#0046ff"/><stop offset="0.9541" stop-color="#0000ff"/></linearGradient><linearGradient id="gd41" gradientUnits="objectBoundingBox" x1="0" y1="0" x2="1" y2="0"><stop offset="0.4319" stop-color="#0000ff"/><stop offset="0.4905" stop-color="#0046ff"/><stop offset="0.5569" stop-color="#0096ff"/><stop offset="0.6232" stop-color="#00ffff"/><stop offset="0.6669" stop-color="#00ff00"/><stop offset="0.7405" stop-color="#00ff00"/><stop offset="0.7405" stop-color="#00ff00"/><stop offset="0.7405" stop-color="#00ff00"/><stop offset="0.7405" stop-color="#00ff00"/><stop offset="0.7405" stop-color="#00ff00"/><stop offset="0.7405" stop-color="#00ff00"/><stop offset="0.7405" stop-color="#00ff00"/><stop offset="0.7405" stop-color="#00ff00"/><stop offset="0.8351" stop-color="#00ff00"/><stop offset="0.8787" stop-color="#00ffff"/><stop offset="0.9242" stop-color="#0096ff"/><stop offset="0.9431" stop-color="#0046ff"/><stop offset="0.9545" stop-color="#0000ff"/></linearGradient><linearGradient id="gd42" gradientUnits="objectBoundingBox" x1="0" y1="0" x2="1" y2="0"><stop offset="0.4315" stop-color="#0000ff"/><stop offset="0.4905" stop-color="#0046ff"/><stop offset="0.5565" stop-color="#0096ff"/><stop offset="0.6225" stop-color="#00ffff"/><stop offset="0.6658" stop-color="#00ff00"/><stop offset="0.7405" stop-color="#00ff00"/><stop offset="0.7405" stop-color="#00ff00"/><stop offset="0.7405" stop-color="#00ff00"/><stop offset="0.7405" stop-color="#00ff00"/><stop offset="0.7405" stop-color="#00ff00"/><stop offset="0.7405" stop-color="#00ff00"/><stop offset="0.7405" stop-color="#00ff00"/><stop offset="0.7405" stop-color="#00ff00"/><stop offset="0.8358" stop-color="#00ff00"/><stop offset="0.8791" stop-color="#00ffff"/><stop offset="0.9245" stop-color="#0096ff"/><stop offset="0.9435" stop-color="#0046ff"/><stop offset="0.9548" stop-color="#0000ff"/></linearGradient><linearGradient id="gd43" gradientUnits="objectBoundingBox" x1="0" y1="0" x2="1" y2="0"><stop offset="0.4312" stop-color="#0000ff"/><stop offset="0.4905" stop-color="#0046ff"/><stop offset="0.5562" stop-color="#0096ff"/><stop offset="0.6218" stop-color="#00ffff"/><stop offset="0.6647" stop-color="#00ff00"/><stop offset="0.7405" stop-color="#00ff00"/><stop offset="0.7405" stop-color="#00ff00"/><stop offset="0.7405" stop-color="#00ff00"/><stop offset="0.7405" stop-color="#00ff00"/><stop offset="0.7405" stop-color="#00ff00"/><stop offset="0.7405" stop-color="#00ff00"/><stop offset="0.7405" stop-color="#00ff00"/><stop offset="0.7405" stop-color="#00ff00"/><stop offset="0.8366" stop-color="#00ff00"/><stop offset="0.8795" stop-color="#00ffff"/><stop offset="0.9249" stop-color="#0096ff"/><stop offset="0.9438" stop-color="#0046ff"/><stop offset="0.9552" stop-color="#0000ff"/></linearGradient><linearGradient id="gd44" gradientUnits="objectBoundingBox" x1="0" y1="0" x2="1" y2="0"><stop offset="0.4308" stop-color="#0000ff"/><stop offset="0.4905" stop-color="#0046ff"/><stop offset="0.5558" stop-color="#0096ff"/><stop offset="0.6211" stop-color="#00ffff"/><stop offset="0.6636" stop-color="#00ff00"/><stop offset="0.7405" stop-color="#00ff00"/><stop offset="0.7405" stop-color="#00ff00"/><stop offset="0.7405" stop-color="#00ff00"/><stop offset="0.7405" stop-color="#00ff00"/><stop offset="0.7405" stop-color="#00ff00"/><stop offset="0.7405" stop-color="#00ff00"/><stop offset="0.7405" stop-color="#00ff00"/><stop offset="0.7405" stop-color="#00ff00"/><stop offset="0.8373" stop-color="#00ff00"/><stop offset="0.8798" stop-color="#00ffff"/><stop offset="0.9253" stop-color="#0096ff"/><stop offset="0.9442" stop-color="#0046ff"/><stop offset="0.9556" stop-color="#0000ff"/></linearGradient><linearGradient id="gd45" gradientUnits="objectBoundingBox" x1="0" y1="0" x2="1" y2="0"><stop offset="0.4304" stop-color="#0000ff"/><stop offset="0.4905" stop-color="#0046ff"/><stop offset="0.5554" stop-color="#0096ff"/><stop offset="0.6203" stop-color="#00ffff"/><stop offset="0.6625" stop-color="#00ff00"/><stop offset="0.7405" stop-color="#00ff00"/><stop offset="0.7405" stop-color="#00ff00"/><stop offset="0.7405" stop-color="#00ff00"/><stop offset="0.7405" stop-color="#00ff00"/><stop offset="0.7405" stop-color="#00ff00"/><stop offset="0.7405" stop-color="#00ff00"/><stop offset="0.7405" stop-color="#00ff00"/><stop offset="0.7405" stop-color="#00ff00"/><stop offset="0.8380" stop-color="#00ff00"/><stop offset="0.8802" stop-color="#00ffff"/><stop offset="0.9256" stop-color="#0096ff"/><stop offset="0.9446" stop-color="#0046ff"/><stop offset="0.9559" stop-color="#0000ff"/></linearGradient><linearGradient id="gd46" gradientUnits="objectBoundingBox" x1="0" y1="0" x2="1" y2="0"><stop offset="0.4301" stop-color="#0000ff"/><stop offset="0.4905" stop-color="#0046ff"/><stop offset="0.5551" stop-color="#0096ff"/><stop offset="0.6196" stop-color="#00ffff"/><stop offset="0.6614" stop-color="#00ff00"/><stop offset="0.7405" stop-color="#00ff00"/><stop offset="0.7405" stop-color="#00ff00"/><stop offset="0.7405" stop-color="#00ff00"/><stop offset="0.7405" stop-color="#00ff00"/><stop offset="0.7405" stop-color="#00ff00"/><stop offset="0.7405" stop-color="#00ff00"/><stop offset="0.7405" stop-color="#00ff00"/><stop offset="0.7405" stop-color="#00ff00"/><stop offset="0.8387" stop-color="#00ff00"/><stop offset="0.8805" stop-color="#00ffff"/><stop offset="0.9260" stop-color="#0096ff"/><stop offset="0.9449" stop-color="#0046ff"/><stop offset="0.9563" stop-color="#0000ff"/></linearGradient><linearGradient id="gd47" gradientUnits="objectBoundingBox" x1="0" y1="0" x2="1" y2="0"><stop offset="0.4253" stop-color="#0000ff"/><stop offset="0.4859" stop-color="#0046ff"/><stop offset="0.5495" stop-color="#0096ff"/><stop offset="0.6100" stop-color="#00ffff"/><stop offset="0.6517" stop-color="#00ff00"/><stop offset="0.7405" stop-color="#00ff00"/><stop offset="0.7405" stop-color="#00ff00"/><stop offset="0.7405" stop-color="#00ff00"/><stop offset="0.7405" stop-color="#00ff00"/><stop offset="0.7405" stop-color="#00ff00"/><stop offset="0.7405" stop-color="#00ff00"/><stop offset="0.7405" stop-color="#00ff00"/><stop offset="0.7405" stop-color="#00ff00"/><stop offset="0.8398" stop-color="#00ff00"/><stop offset="0.8815" stop-color="#00ffff"/><stop offset="0.9269" stop-color="#0096ff"/><stop offset="0.9451" stop-color="#0046ff"/><stop offset="0.9564" stop-color="#0000ff"/></linearGradient><linearGradient id="gd48" gradientUnits="objectBoundingBox" x1="0" y1="0" x2="1" y2="0"><stop offset="0.4178" stop-color="#0000ff"/><stop offset="0.4784" stop-color="#0046ff"/><stop offset="0.5408" stop-color="#0096ff"/><stop offset="0.5951" stop-color="#00ffff"/><stop offset="0.6368" stop-color="#00ff00"/><stop offset="0.7405" stop-color="#00ff00"/><stop offset="0.7405" stop-color="#00ff00"/><stop offset="0.7405" stop-color="#00ff00"/><stop offset="0.7405" stop-color="#00ff00"/><stop offset="0.7405" stop-color="#00ff00"/><stop offset="0.7405" stop-color="#00ff00"/><stop offset="0.7405" stop-color="#00ff00"/><stop offset="0.7405" stop-color="#00ff00"/><stop offset="0.8410" stop-color="#00ff00"/><stop offset="0.8827" stop-color="#00ffff"/><stop offset="0.9282" stop-color="#0096ff"/><stop offset="0.9451" stop-color="#0046ff"/><stop offset="0.9564" stop-color="#0000ff"/></linearGradient><linearGradient id="gd49" gradientUnits="objectBoundingBox" x1="0" y1="0" x2="1" y2="0"><stop offset="0.4103" stop-color="#0000ff"/><stop offset="0.4709" stop-color="#0046ff"/><stop offset="0.5321" stop-color="#0096ff"/><stop offset="0.5801" stop-color="#00ffff"/><stop offset="0.6218" stop-color="#00ff00"/><stop offset="0.7405" stop-color="#00ff00"/><stop offset="0.7405" stop-color="#00ff00"/><stop offset="0.7405" stop-color="#00ff00"/><stop offset="0.7405" stop-color="#00ff00"/><stop offset="0.7405" stop-color="#00ff00"/><stop offset="0.7405" stop-color="#00ff00"/><stop offset="0.7405" stop-color="#00ff00"/><stop offset="0.7405" stop-color="#00ff00"/><stop offset="0.8423" stop-color="#00ff00"/><stop offset="0.8839" stop-color="#00ffff"/><stop offset="0.9294" stop-color="#0096ff"/><stop offset="0.9451" stop-color="#0046ff"/><stop offset="0.9564" stop-color="#0000ff"/></linearGradient><linearGradient id="gd50" gradientUnits="objectBoundingBox" x1="0" y1="0" x2="1" y2="0"><stop offset="0.4052" stop-color="#0000ff"/><stop offset="0.4658" stop-color="#0046ff"/><stop offset="0.5243" stop-color="#0096ff"/><stop offset="0.5698" stop-color="#00ffff"/><stop offset="0.6115" stop-color="#00ff00"/><stop offset="0.7405" stop-color="#00ff00"/><stop offset="0.7405" stop-color="#00ff00"/><stop offset="0.7405" stop-color="#00ff00"/><stop offset="0.7405" stop-color="#00ff00"/><stop offset="0.7405" stop-color="#00ff00"/><stop offset="0.7405" stop-color="#00ff00"/><stop offset="0.7405" stop-color="#00ff00"/><stop offset="0.7405" stop-color="#00ff00"/><stop offset="0.8438" stop-color="#00ff00"/><stop offset="0.8855" stop-color="#00ffff"/><stop offset="0.9304" stop-color="#0096ff"/><stop offset="0.9456" stop-color="#0046ff"/><stop offset="0.9569" stop-color="#0000ff"/></linearGradient><linearGradient id="gd51" gradientUnits="objectBoundingBox" x1="0" y1="0" x2="1" y2="0"><stop offset="0.4017" stop-color="#0000ff"/><stop offset="0.4623" stop-color="#0046ff"/><stop offset="0.5173" stop-color="#0096ff"/><stop offset="0.5628" stop-color="#00ffff"/><stop offset="0.6044" stop-color="#00ff00"/><stop offset="0.7405" stop-color="#00ff00"/><stop offset="0.7405" stop-color="#00ff00"/><stop offset="0.7405" stop-color="#00ff00"/><stop offset="0.7405" stop-color="#00ff00"/><stop offset="0.7405" stop-color="#00ff00"/><stop offset="0.7405" stop-color="#00ff00"/><stop offset="0.7405" stop-color="#00ff00"/><stop offset="0.7405" stop-color="#00ff00"/><stop offset="0.8456" stop-color="#00ff00"/><stop offset="0.8872" stop-color="#00ffff"/><stop offset="0.9313" stop-color="#0096ff"/><stop offset="0.9465" stop-color="#0046ff"/><stop offset="0.9578" stop-color="#0000ff"/></linearGradient><linearGradient id="gd52" gradientUnits="objectBoundingBox" x1="0" y1="0" x2="1" y2="0"><stop offset="0.3987" stop-color="#0000ff"/><stop offset="0.4593" stop-color="#0046ff"/><stop offset="0.5119" stop-color="#0096ff"/><stop offset="0.5576" stop-color="#00ffff"/><stop offset="0.5994" stop-color="#00ff00"/><stop offset="0.7405" stop-color="#00ff00"/><stop offset="0.7405" stop-color="#00ff00"/><stop offset="0.7405" stop-color="#00ff00"/><stop offset="0.7405" stop-color="#00ff00"/><stop offset="0.7405" stop-color="#00ff00"/><stop offset="0.7405" stop-color="#00ff00"/><stop offset="0.7405" stop-color="#00ff00"/><stop offset="0.7405" stop-color="#00ff00"/><stop offset="0.8474" stop-color="#00ff00"/><stop offset="0.8893" stop-color="#00ffff"/><stop offset="0.9322" stop-color="#0096ff"/><stop offset="0.9473" stop-color="#0046ff"/><stop offset="0.9585" stop-color="#0000ff"/></linearGradient><linearGradient id="gd53" gradientUnits="objectBoundingBox" x1="0" y1="0" x2="1" y2="0"><stop offset="0.3964" stop-color="#0000ff"/><stop offset="0.4570" stop-color="#0046ff"/><stop offset="0.5088" stop-color="#0096ff"/><stop offset="0.5550" stop-color="#00ffff"/><stop offset="0.5971" stop-color="#00ff00"/><stop offset="0.7405" stop-color="#00ff00"/><stop offset="0.7405" stop-color="#00ff00"/><stop offset="0.7405" stop-color="#00ff00"/><stop offset="0.7405" stop-color="#00ff00"/><stop offset="0.7405" stop-color="#00ff00"/><stop offset="0.7405" stop-color="#00ff00"/><stop offset="0.7405" stop-color="#00ff00"/><stop offset="0.7405" stop-color="#00ff00"/><stop offset="0.8494" stop-color="#00ff00"/><stop offset="0.8919" stop-color="#00ffff"/><stop offset="0.9332" stop-color="#0096ff"/><stop offset="0.9480" stop-color="#0046ff"/><stop offset="0.9589" stop-color="#0000ff"/></linearGradient><linearGradient id="gd54" gradientUnits="objectBoundingBox" x1="0" y1="0" x2="1" y2="0"><stop offset="0.3941" stop-color="#0000ff"/><stop offset="0.4547" stop-color="#0046ff"/><stop offset="0.5056" stop-color="#0096ff"/><stop offset="0.5525" stop-color="#00ffff"/><stop offset="0.5948" stop-color="#00ff00"/><stop offset="0.7405" stop-color="#00ff00"/><stop offset="0.7405" stop-color="#00ff00"/><stop offset="0.7405" stop-color="#00ff00"/><stop offset="0.7405" stop-color="#00ff00"/><stop offset="0.7405" stop-color="#00ff00"/><stop offset="0.7405" stop-color="#00ff00"/><stop offset="0.7405" stop-color="#00ff00"/><stop offset="0.7405" stop-color="#00ff00"/><stop offset="0.8515" stop-color="#00ff00"/><stop offset="0.8945" stop-color="#00ffff"/><stop offset="0.9342" stop-color="#0096ff"/><stop offset="0.9487" stop-color="#0046ff"/><stop offset="0.9594" stop-color="#0000ff"/></linearGradient><linearGradient id="gd55" gradientUnits="objectBoundingBox" x1="0" y1="0" x2="1" y2="0"><stop offset="0.3918" stop-color="#0000ff"/><stop offset="0.4524" stop-color="#0046ff"/><stop offset="0.5025" stop-color="#0096ff"/><stop offset="0.5499" stop-color="#00ffff"/><stop offset="0.5925" stop-color="#00ff00"/><stop offset="0.7405" stop-color="#00ff00"/><stop offset="0.7405" stop-color="#00ff00"/><stop offset="0.7405" stop-color="#00ff00"/><stop offset="0.7405" stop-color="#00ff00"/><stop offset="0.7405" stop-color="#00ff00"/><stop offset="0.7405" stop-color="#00ff00"/><stop offset="0.7405" stop-color="#00ff00"/><stop offset="0.7405" stop-color="#00ff00"/><stop offset="0.8535" stop-color="#00ff00"/><stop offset="0.8971" stop-color="#00ffff"/><stop offset="0.9353" stop-color="#0096ff"/><stop offset="0.9494" stop-color="#0046ff"/><stop offset="0.9598" stop-color="#0000ff"/></linearGradient><linearGradient id="gd56" gradientUnits="objectBoundingBox" x1="0" y1="0" x2="1" y2="0"><stop offset="0.3895" stop-color="#0000ff"/><stop offset="0.4501" stop-color="#0046ff"/><stop offset="0.4993" stop-color="#0096ff"/><stop offset="0.5473" stop-color="#00ffff"/><stop offset="0.5902" stop-color="#00ff00"/><stop offset="0.7405" stop-color="#00ff00"/><stop offset="0.7405" stop-color="#00ff00"/><stop offset="0.7405" stop-color="#00ff00"/><stop offset="0.7405" stop-color="#00ff00"/><stop offset="0.7405" stop-color="#00ff00"/><stop offset="0.7405" stop-color="#00ff00"/><stop offset="0.7405" stop-color="#00ff00"/><stop offset="0.7405" stop-color="#00ff00"/><stop offset="0.8555" stop-color="#00ff00"/><stop offset="0.8997" stop-color="#00ffff"/><stop offset="0.9363" stop-color="#0096ff"/><stop offset="0.9501" stop-color="#0046ff"/><stop offset="0.9602" stop-color="#0000ff"/></linearGradient><linearGradient id="gd57" gradientUnits="objectBoundingBox" x1="0" y1="0" x2="1" y2="0"><stop offset="0.3872" stop-color="#0000ff"/><stop offset="0.4478" stop-color="#0046ff"/><stop offset="0.4961" stop-color="#0096ff"/><stop offset="0.5447" stop-color="#00ffff"/><stop offset="0.5879" stop-color="#00ff00"/><stop offset="0.7405" stop-color="#00ff00"/><stop offset="0.7405" stop-color="#00ff00"/><stop offset="0.7405" stop-color="#00ff00"/><stop offset="0.7405" stop-color="#00ff00"/><stop offset="0.7405" stop-color="#00ff00"/><stop offset="0.7405" stop-color="#00ff00"/><stop offset="0.7405" stop-color="#00ff00"/><stop offset="0.7405" stop-color="#00ff00"/><stop offset="0.8575" stop-color="#00ff00"/><stop offset="0.9023" stop-color="#00ffff"/><stop offset="0.9373" stop-color="#0096ff"/><stop offset="0.9509" stop-color="#0046ff"/><stop offset="0.9607" stop-color="#0000ff"/></linearGradient><linearGradient id="gd58" gradientUnits="objectBoundingBox" x1="0" y1="0" x2="1" y2="0"><stop offset="0.3849" stop-color="#0000ff"/><stop offset="0.4455" stop-color="#0046ff"/><stop offset="0.4930" stop-color="#0096ff"/><stop offset="0.5421" stop-color="#00ffff"/><stop offset="0.5856" stop-color="#00ff00"/><stop offset="0.7405" stop-color="#00ff00"/><stop offset="0.7405" stop-color="#00ff00"/><stop offset="0.7405" stop-color="#00ff00"/><stop offset="0.7405" stop-color="#00ff00"/><stop offset="0.7405" stop-color="#00ff00"/><stop offset="0.7405" stop-color="#00ff00"/><stop offset="0.7405" stop-color="#00ff00"/><stop offset="0.7405" stop-color="#00ff00"/><stop offset="0.8595" stop-color="#00ff00"/><stop offset="0.9048" stop-color="#00ffff"/><stop offset="0.9383" stop-color="#0096ff"/><stop offset="0.9516" stop-color="#0046ff"/><stop offset="0.9611" stop-color="#0000ff"/></linearGradient><linearGradient id="gd59" gradientUnits="objectBoundingBox" x1="0" y1="0" x2="1" y2="0"><stop offset="0.3826" stop-color="#0000ff"/><stop offset="0.4432" stop-color="#0046ff"/><stop offset="0.4898" stop-color="#0096ff"/><stop offset="0.5395" stop-color="#00ffff"/><stop offset="0.5833" stop-color="#00ff00"/><stop offset="0.7405" stop-color="#00ff00"/><stop offset="0.7405" stop-color="#00ff00"/><stop offset="0.7405" stop-color="#00ff00"/><stop offset="0.7405" stop-color="#00ff00"/><stop offset="0.7405" stop-color="#00ff00"/><stop offset="0.7405" stop-color="#00ff00"/><stop offset="0.7405" stop-color="#00ff00"/><stop offset="0.7405" stop-color="#00ff00"/><stop offset="0.8615" stop-color="#00ff00"/><stop offset="0.9074" stop-color="#00ffff"/><stop offset="0.9393" stop-color="#0096ff"/><stop offset="0.9523" stop-color="#0046ff"/><stop offset="0.9615" stop-color="#0000ff"/></linearGradient><linearGradient id="gd60" gradientUnits="objectBoundingBox" x1="0" y1="0" x2="1" y2="0"><stop offset="0.3803" stop-color="#0000ff"/><stop offset="0.4409" stop-color="#0046ff"/><stop offset="0.4867" stop-color="#0096ff"/><stop offset="0.5370" stop-color="#00ffff"/><stop offset="0.5810" stop-color="#00ff00"/><stop offset="0.7405" stop-color="#00ff00"/><stop offset="0.7405" stop-color="#00ff00"/><stop offset="0.7405" stop-color="#00ff00"/><stop offset="0.7405" stop-color="#00ff00"/><stop offset="0.7405" stop-color="#00ff00"/><stop offset="0.7405" stop-color="#00ff00"/><stop offset="0.7405" stop-color="#00ff00"/><stop offset="0.7405" stop-color="#00ff00"/><stop offset="0.8635" stop-color="#00ff00"/><stop offset="0.9100" stop-color="#00ffff"/><stop offset="0.9403" stop-color="#0096ff"/><stop offset="0.9530" stop-color="#0046ff"/><stop offset="0.9620" stop-color="#0000ff"/></linearGradient><linearGradient id="gd61" gradientUnits="objectBoundingBox" x1="0" y1="0" x2="1" y2="0"><stop offset="0.3780" stop-color="#0000ff"/><stop offset="0.4386" stop-color="#0046ff"/><stop offset="0.4835" stop-color="#0096ff"/><stop offset="0.5344" stop-color="#00ffff"/><stop offset="0.5788" stop-color="#00ff00"/><stop offset="0.7405" stop-color="#00ff00"/><stop offset="0.7405" stop-color="#00ff00"/><stop offset="0.7405" stop-color="#00ff00"/><stop offset="0.7405" stop-color="#00ff00"/><stop offset="0.7405" stop-color="#00ff00"/><stop offset="0.7405" stop-color="#00ff00"/><stop offset="0.7405" stop-color="#00ff00"/><stop offset="0.7405" stop-color="#00ff00"/><stop offset="0.8655" stop-color="#00ff00"/><stop offset="0.9126" stop-color="#00ffff"/><stop offset="0.9413" stop-color="#0096ff"/><stop offset="0.9537" stop-color="#0046ff"/><stop offset="0.9624" stop-color="#0000ff"/></linearGradient><linearGradient id="gd62" gradientUnits="objectBoundingBox" x1="0" y1="0" x2="1" y2="0"><stop offset="0.3757" stop-color="#0000ff"/><stop offset="0.4363" stop-color="#0046ff"/><stop offset="0.4804" stop-color="#0096ff"/><stop offset="0.5318" stop-color="#00ffff"/><stop offset="0.5765" stop-color="#00ff00"/><stop offset="0.7405" stop-color="#00ff00"/><stop offset="0.7405" stop-color="#00ff00"/><stop offset="0.7405" stop-color="#00ff00"/><stop offset="0.7405" stop-color="#00ff00"/><stop offset="0.7405" stop-color="#00ff00"/><stop offset="0.7405" stop-color="#00ff00"/><stop offset="0.7405" stop-color="#00ff00"/><stop offset="0.7405" stop-color="#00ff00"/><stop offset="0.8675" stop-color="#00ff00"/><stop offset="0.9152" stop-color="#00ffff"/><stop offset="0.9423" stop-color="#0096ff"/><stop offset="0.9544" stop-color="#0046ff"/><stop offset="0.9628" stop-color="#0000ff"/></linearGradient><linearGradient id="gd63" gradientUnits="objectBoundingBox" x1="0" y1="0" x2="1" y2="0"><stop offset="0.3734" stop-color="#0000ff"/><stop offset="0.4340" stop-color="#0046ff"/><stop offset="0.4772" stop-color="#0096ff"/><stop offset="0.5292" stop-color="#00ffff"/><stop offset="0.5742" stop-color="#00ff00"/><stop offset="0.7405" stop-color="#00ff00"/><stop offset="0.7405" stop-color="#00ff00"/><stop offset="0.7405" stop-color="#00ff00"/><stop offset="0.7405" stop-color="#00ff00"/><stop offset="0.7405" stop-color="#00ff00"/><stop offset="0.7405" stop-color="#00ff00"/><stop offset="0.7405" stop-color="#00ff00"/><stop offset="0.7405" stop-color="#00ff00"/><stop offset="0.8695" stop-color="#00ff00"/><stop offset="0.9178" stop-color="#00ffff"/><stop offset="0.9433" stop-color="#0096ff"/><stop offset="0.9552" stop-color="#0046ff"/><stop offset="0.9632" stop-color="#0000ff"/></linearGradient><linearGradient id="gd64" gradientUnits="objectBoundingBox" x1="0" y1="0" x2="1" y2="0"><stop offset="0.3711" stop-color="#0000ff"/><stop offset="0.4317" stop-color="#0046ff"/><stop offset="0.4741" stop-color="#0096ff"/><stop offset="0.5266" stop-color="#00ffff"/><stop offset="0.5719" stop-color="#00ff00"/><stop offset="0.7405" stop-color="#00ff00"/><stop offset="0.7405" stop-color="#00ff00"/><stop offset="0.7405" stop-color="#00ff00"/><stop offset="0.7405" stop-color="#00ff00"/><stop offset="0.7405" stop-color="#00ff00"/><stop offset="0.7405" stop-color="#00ff00"/><stop offset="0.7405" stop-color="#00ff00"/><stop offset="0.7405" stop-color="#00ff00"/><stop offset="0.8715" stop-color="#00ff00"/><stop offset="0.9203" stop-color="#00ffff"/><stop offset="0.9443" stop-color="#0096ff"/><stop offset="0.9559" stop-color="#0046ff"/><stop offset="0.9637" stop-color="#0000ff"/></linearGradient><linearGradient id="gd65" gradientUnits="objectBoundingBox" x1="0" y1="0" x2="1" y2="0"><stop offset="0.3692" stop-color="#0000ff"/><stop offset="0.4298" stop-color="#0046ff"/><stop offset="0.4714" stop-color="#0096ff"/><stop offset="0.5243" stop-color="#00ffff"/><stop offset="0.5698" stop-color="#00ff00"/><stop offset="0.7405" stop-color="#00ff00"/><stop offset="0.7405" stop-color="#00ff00"/><stop offset="0.7405" stop-color="#00ff00"/><stop offset="0.7405" stop-color="#00ff00"/><stop offset="0.7405" stop-color="#00ff00"/><stop offset="0.7405" stop-color="#00ff00"/><stop offset="0.7405" stop-color="#00ff00"/><stop offset="0.7405" stop-color="#00ff00"/><stop offset="0.8733" stop-color="#00ff00"/><stop offset="0.9223" stop-color="#00ffff"/><stop offset="0.9451" stop-color="#0096ff"/><stop offset="0.9564" stop-color="#0046ff"/><stop offset="0.9640" stop-color="#0000ff"/></linearGradient><linearGradient id="gd66" gradientUnits="objectBoundingBox" x1="0" y1="0" x2="1" y2="0"><stop offset="0.3685" stop-color="#0000ff"/><stop offset="0.4291" stop-color="#0046ff"/><stop offset="0.4708" stop-color="#0096ff"/><stop offset="0.5230" stop-color="#00ffff"/><stop offset="0.5684" stop-color="#00ff00"/><stop offset="0.7405" stop-color="#00ff00"/><stop offset="0.7405" stop-color="#00ff00"/><stop offset="0.7405" stop-color="#00ff00"/><stop offset="0.7405" stop-color="#00ff00"/><stop offset="0.7405" stop-color="#00ff00"/><stop offset="0.7405" stop-color="#00ff00"/><stop offset="0.7405" stop-color="#00ff00"/><stop offset="0.7405" stop-color="#00ff00"/><stop offset="0.8739" stop-color="#00ff00"/><stop offset="0.9223" stop-color="#00ffff"/><stop offset="0.9451" stop-color="#0096ff"/><stop offset="0.9564" stop-color="#0046ff"/><stop offset="0.9640" stop-color="#0000ff"/></linearGradient><linearGradient id="gd67" gradientUnits="objectBoundingBox" x1="0" y1="0" x2="1" y2="0"><stop offset="0.3678" stop-color="#0000ff"/><stop offset="0.4284" stop-color="#0046ff"/><stop offset="0.4701" stop-color="#0096ff"/><stop offset="0.5216" stop-color="#00ffff"/><stop offset="0.5671" stop-color="#00ff00"/><stop offset="0.7405" stop-color="#00ff00"/><stop offset="0.7405" stop-color="#00ff00"/><stop offset="0.7405" stop-color="#00ff00"/><stop offset="0.7405" stop-color="#00ff00"/><stop offset="0.7405" stop-color="#00ff00"/><stop offset="0.7405" stop-color="#00ff00"/><stop offset="0.7405" stop-color="#00ff00"/><stop offset="0.7405" stop-color="#00ff00"/><stop offset="0.8746" stop-color="#00ff00"/><stop offset="0.9223" stop-color="#00ffff"/><stop offset="0.9451" stop-color="#0096ff"/><stop offset="0.9564" stop-color="#0046ff"/><stop offset="0.9640" stop-color="#0000ff"/></linearGradient><linearGradient id="gd68" gradientUnits="objectBoundingBox" x1="0" y1="0" x2="1" y2="0"><stop offset="0.3671" stop-color="#0000ff"/><stop offset="0.4277" stop-color="#0046ff"/><stop offset="0.4694" stop-color="#0096ff"/><stop offset="0.5203" stop-color="#00ffff"/><stop offset="0.5657" stop-color="#00ff00"/><stop offset="0.7405" stop-color="#00ff00"/><stop offset="0.7405" stop-color="#00ff00"/><stop offset="0.7405" stop-color="#00ff00"/><stop offset="0.7405" stop-color="#00ff00"/><stop offset="0.7405" stop-color="#00ff00"/><stop offset="0.7405" stop-color="#00ff00"/><stop offset="0.7405" stop-color="#00ff00"/><stop offset="0.7405" stop-color="#00ff00"/><stop offset="0.8753" stop-color="#00ff00"/><stop offset="0.9223" stop-color="#00ffff"/><stop offset="0.9451" stop-color="#0096ff"/><stop offset="0.9564" stop-color="#0046ff"/><stop offset="0.9640" stop-color="#0000ff"/></linearGradient><linearGradient id="gd69" gradientUnits="objectBoundingBox" x1="0" y1="0" x2="1" y2="0"><stop offset="0.3665" stop-color="#0000ff"/><stop offset="0.4271" stop-color="#0046ff"/><stop offset="0.4687" stop-color="#0096ff"/><stop offset="0.5189" stop-color="#00ffff"/><stop offset="0.5644" stop-color="#00ff00"/><stop offset="0.7405" stop-color="#00ff00"/><stop offset="0.7405" stop-color="#00ff00"/><stop offset="0.7405" stop-color="#00ff00"/><stop offset="0.7405" stop-color="#00ff00"/><stop offset="0.7405" stop-color="#00ff00"/><stop offset="0.7405" stop-color="#00ff00"/><stop offset="0.7405" stop-color="#00ff00"/><stop offset="0.7405" stop-color="#00ff00"/><stop offset="0.8760" stop-color="#00ff00"/><stop offset="0.9223" stop-color="#00ffff"/><stop offset="0.9451" stop-color="#0096ff"/><stop offset="0.9564" stop-color="#0046ff"/><stop offset="0.9640" stop-color="#0000ff"/></linearGradient><linearGradient id="gd70" gradientUnits="objectBoundingBox" x1="0" y1="0" x2="1" y2="0"><stop offset="0.3658" stop-color="#0000ff"/><stop offset="0.4264" stop-color="#0046ff"/><stop offset="0.4681" stop-color="#0096ff"/><stop offset="0.5176" stop-color="#00ffff"/><stop offset="0.5630" stop-color="#00ff00"/><stop offset="0.7405" stop-color="#00ff00"/><stop offset="0.7405" stop-color="#00ff00"/><stop offset="0.7405" stop-color="#00ff00"/><stop offset="0.7405" stop-color="#00ff00"/><stop offset="0.7405" stop-color="#00ff00"/><stop offset="0.7405" stop-color="#00ff00"/><stop offset="0.7405" stop-color="#00ff00"/><stop offset="0.7405" stop-color="#00ff00"/><stop offset="0.8766" stop-color="#00ff00"/><stop offset="0.9223" stop-color="#00ffff"/><stop offset="0.9451" stop-color="#0096ff"/><stop offset="0.9564" stop-color="#0046ff"/><stop offset="0.9640" stop-color="#0000ff"/></linearGradient><linearGradient id="gd71" gradientUnits="objectBoundingBox" x1="0" y1="0" x2="1" y2="0"><stop offset="0.3655" stop-color="#0000ff"/><stop offset="0.4261" stop-color="#0046ff"/><stop offset="0.4678" stop-color="#0096ff"/><stop offset="0.5170" stop-color="#00ffff"/><stop offset="0.5618" stop-color="#00ff00"/><stop offset="0.7200" stop-color="#00ff00"/><stop offset="0.7259" stop-color="#46ff00"/><stop offset="0.7332" stop-color="#55ff00"/><stop offset="0.7391" stop-color="#63ff00"/><stop offset="0.7420" stop-color="#63ff00"/><stop offset="0.7493" stop-color="#55ff00"/><stop offset="0.7567" stop-color="#46ff00"/><stop offset="0.7625" stop-color="#00ff00"/><stop offset="0.8784" stop-color="#00ff00"/><stop offset="0.9231" stop-color="#00ffff"/><stop offset="0.9458" stop-color="#0096ff"/><stop offset="0.9572" stop-color="#0046ff"/><stop offset="0.9640" stop-color="#0000ff"/></linearGradient><linearGradient id="gd72" gradientUnits="objectBoundingBox" x1="0" y1="0" x2="1" y2="0"><stop offset="0.3655" stop-color="#0000ff"/><stop offset="0.4261" stop-color="#0046ff"/><stop offset="0.4678" stop-color="#0096ff"/><stop offset="0.5170" stop-color="#00ffff"/><stop offset="0.5606" stop-color="#00ff00"/><stop offset="0.6874" stop-color="#00ff00"/><stop offset="0.7026" stop-color="#b4ff00"/><stop offset="0.7215" stop-color="#dcff00"/><stop offset="0.7367" stop-color="#fffe00"/><stop offset="0.7445" stop-color="#fffe00"/><stop offset="0.7634" stop-color="#dcff00"/><stop offset="0.7823" stop-color="#b4ff00"/><stop offset="0.7975" stop-color="#00ff00"/><stop offset="0.8807" stop-color="#00ff00"/><stop offset="0.9242" stop-color="#00ffff"/><stop offset="0.9470" stop-color="#0096ff"/><stop offset="0.9583" stop-color="#0046ff"/><stop offset="0.9640" stop-color="#0000ff"/></linearGradient><linearGradient id="gd73" gradientUnits="objectBoundingBox" x1="0" y1="0" x2="1" y2="0"><stop offset="0.3651" stop-color="#0000ff"/><stop offset="0.4257" stop-color="#0046ff"/><stop offset="0.4674" stop-color="#0096ff"/><stop offset="0.5166" stop-color="#00ffff"/><stop offset="0.5596" stop-color="#00ff00"/><stop offset="0.6843" stop-color="#00ff00"/><stop offset="0.6994" stop-color="#bcff00"/><stop offset="0.7176" stop-color="#e0f300"/><stop offset="0.7323" stop-color="#ffe400"/><stop offset="0.7516" stop-color="#ffe400"/><stop offset="0.7701" stop-color="#e0f300"/><stop offset="0.7882" stop-color="#bcff00"/><stop offset="0.8034" stop-color="#00ff00"/><stop offset="0.8811" stop-color="#00ff00"/><stop offset="0.9244" stop-color="#00ffff"/><stop offset="0.9472" stop-color="#0096ff"/><stop offset="0.9585" stop-color="#0046ff"/><stop offset="0.9644" stop-color="#0000ff"/></linearGradient><linearGradient id="gd74" gradientUnits="objectBoundingBox" x1="0" y1="0" x2="1" y2="0"><stop offset="0.3647" stop-color="#0000ff"/><stop offset="0.4253" stop-color="#0046ff"/><stop offset="0.4670" stop-color="#0096ff"/><stop offset="0.5162" stop-color="#00ffff"/><stop offset="0.5586" stop-color="#00ff00"/><stop offset="0.6811" stop-color="#00ff00"/><stop offset="0.6963" stop-color="#c4ff00"/><stop offset="0.7136" stop-color="#e3e700"/><stop offset="0.7280" stop-color="#ffc900"/><stop offset="0.7587" stop-color="#ffc900"/><stop offset="0.7768" stop-color="#e3e700"/><stop offset="0.7942" stop-color="#c4ff00"/><stop offset="0.8093" stop-color="#00ff00"/><stop offset="0.8815" stop-color="#00ff00"/><stop offset="0.9246" stop-color="#00ffff"/><stop offset="0.9474" stop-color="#0096ff"/><stop offset="0.9587" stop-color="#0046ff"/><stop offset="0.9648" stop-color="#0000ff"/></linearGradient><linearGradient id="gd75" gradientUnits="objectBoundingBox" x1="0" y1="0" x2="1" y2="0"><stop offset="0.3643" stop-color="#0000ff"/><stop offset="0.4249" stop-color="#0046ff"/><stop offset="0.4666" stop-color="#0096ff"/><stop offset="0.5159" stop-color="#00ffff"/><stop offset="0.5576" stop-color="#00ff00"/><stop offset="0.6780" stop-color="#00ff00"/><stop offset="0.6931" stop-color="#ccff00"/><stop offset="0.7097" stop-color="#e7db00"/><stop offset="0.7236" stop-color="#ffaf00"/><stop offset="0.7658" stop-color="#ffaf00"/><stop offset="0.7835" stop-color="#e7db00"/><stop offset="0.8001" stop-color="#ccff00"/><stop offset="0.8152" stop-color="#00ff00"/><stop offset="0.8819" stop-color="#00ff00"/><stop offset="0.9248" stop-color="#00ffff"/><stop offset="0.9476" stop-color="#0096ff"/><stop offset="0.9589" stop-color="#0046ff"/><stop offset="0.9652" stop-color="#0000ff"/></linearGradient><linearGradient id="gd76" gradientUnits="objectBoundingBox" x1="0" y1="0" x2="1" y2="0"><stop offset="0.3639" stop-color="#0000ff"/><stop offset="0.4246" stop-color="#0046ff"/><stop offset="0.4662" stop-color="#0096ff"/><stop offset="0.5155" stop-color="#00ffff"/><stop offset="0.5566" stop-color="#00ff00"/><stop offset="0.6748" stop-color="#00ff00"/><stop offset="0.6900" stop-color="#d3ff00"/><stop offset="0.7057" stop-color="#ebcf00"/><stop offset="0.7193" stop-color="#ff9400"/><stop offset="0.7729" stop-color="#ff9400"/><stop offset="0.7902" stop-color="#ebcf00"/><stop offset="0.8060" stop-color="#d3ff00"/><stop offset="0.8211" stop-color="#00ff00"/><stop offset="0.8823" stop-color="#00ff00"/><stop offset="0.9250" stop-color="#00ffff"/><stop offset="0.9478" stop-color="#0096ff"/><stop offset="0.9591" stop-color="#0046ff"/><stop offset="0.9656" stop-color="#0000ff"/></linearGradient><linearGradient id="gd77" gradientUnits="objectBoundingBox" x1="0" y1="0" x2="1" y2="0"><stop offset="0.3635" stop-color="#0000ff"/><stop offset="0.4242" stop-color="#0046ff"/><stop offset="0.4658" stop-color="#0096ff"/><stop offset="0.5151" stop-color="#00ffff"/><stop offset="0.5557" stop-color="#00ff00"/><stop offset="0.6717" stop-color="#00ff00"/><stop offset="0.6868" stop-color="#dbff00"/><stop offset="0.7018" stop-color="#eec300"/><stop offset="0.7150" stop-color="#ff7a00"/><stop offset="0.7800" stop-color="#ff7a00"/><stop offset="0.7969" stop-color="#eec300"/><stop offset="0.8119" stop-color="#dbff00"/><stop offset="0.8271" stop-color="#00ff00"/><stop offset="0.8827" stop-color="#00ff00"/><stop offset="0.9252" stop-color="#00ffff"/><stop offset="0.9480" stop-color="#0096ff"/><stop offset="0.9593" stop-color="#0046ff"/><stop offset="0.9660" stop-color="#0000ff"/></linearGradient><linearGradient id="gd78" gradientUnits="objectBoundingBox" x1="0" y1="0" x2="1" y2="0"><stop offset="0.3632" stop-color="#0000ff"/><stop offset="0.4238" stop-color="#0046ff"/><stop offset="0.4654" stop-color="#0096ff"/><stop offset="0.5147" stop-color="#00ffff"/><stop offset="0.5547" stop-color="#00ff00"/><stop offset="0.6685" stop-color="#00ff00"/><stop offset="0.6836" stop-color="#e3ff00"/><stop offset="0.6978" stop-color="#f2b700"/><stop offset="0.7106" stop-color="#ff5f00"/><stop offset="0.7871" stop-color="#ff5f00"/><stop offset="0.8036" stop-color="#f2b700"/><stop offset="0.8178" stop-color="#e3ff00"/><stop offset="0.8330" stop-color="#00ff00"/><stop offset="0.8831" stop-color="#00ff00"/><stop offset="0.9254" stop-color="#00ffff"/><stop offset="0.9482" stop-color="#0096ff"/><stop offset="0.9595" stop-color="#0046ff"/><stop offset="0.9664" stop-color="#0000ff"/></linearGradient><linearGradient id="gd79" gradientUnits="objectBoundingBox" x1="0" y1="0" x2="1" y2="0"><stop offset="0.3628" stop-color="#0000ff"/><stop offset="0.4234" stop-color="#0046ff"/><stop offset="0.4650" stop-color="#0096ff"/><stop offset="0.5143" stop-color="#00ffff"/><stop offset="0.5537" stop-color="#00ff00"/><stop offset="0.6653" stop-color="#00ff00"/><stop offset="0.6805" stop-color="#ebff00"/><stop offset="0.6939" stop-color="#f6ab00"/><stop offset="0.7063" stop-color="#ff4500"/><stop offset="0.7942" stop-color="#ff4500"/><stop offset="0.8103" stop-color="#f6ab00"/><stop offset="0.8237" stop-color="#ebff00"/><stop offset="0.8389" stop-color="#00ff00"/><stop offset="0.8835" stop-color="#00ff00"/><stop offset="0.9256" stop-color="#00ffff"/><stop offset="0.9484" stop-color="#0096ff"/><stop offset="0.9597" stop-color="#0046ff"/><stop offset="0.9668" stop-color="#0000ff"/></linearGradient><linearGradient id="gd80" gradientUnits="objectBoundingBox" x1="0" y1="0" x2="1" y2="0"><stop offset="0.3624" stop-color="#0000ff"/><stop offset="0.4230" stop-color="#0046ff"/><stop offset="0.4646" stop-color="#0096ff"/><stop offset="0.5139" stop-color="#00ffff"/><stop offset="0.5527" stop-color="#00ff00"/><stop offset="0.6622" stop-color="#00ff00"/><stop offset="0.6773" stop-color="#f3ff00"/><stop offset="0.6899" stop-color="#f99f00"/><stop offset="0.7019" stop-color="#ff2a00"/><stop offset="0.8013" stop-color="#ff2a00"/><stop offset="0.8171" stop-color="#f99f00"/><stop offset="0.8297" stop-color="#f3ff00"/><stop offset="0.8448" stop-color="#00ff00"/><stop offset="0.8838" stop-color="#00ff00"/><stop offset="0.9258" stop-color="#00ffff"/><stop offset="0.9486" stop-color="#0096ff"/><stop offset="0.9599" stop-color="#0046ff"/><stop offset="0.9672" stop-color="#0000ff"/></linearGradient><linearGradient id="gd81" gradientUnits="objectBoundingBox" x1="0" y1="0" x2="1" y2="0"><stop offset="0.3620" stop-color="#0000ff"/><stop offset="0.4226" stop-color="#0046ff"/><stop offset="0.4642" stop-color="#0096ff"/><stop offset="0.5135" stop-color="#00ffff"/><stop offset="0.5517" stop-color="#00ff00"/><stop offset="0.6590" stop-color="#00ff00"/><stop offset="0.6742" stop-color="#faff00"/><stop offset="0.6860" stop-color="#fd9300"/><stop offset="0.6976" stop-color="#ff0f00"/><stop offset="0.8084" stop-color="#ff0f00"/><stop offset="0.8238" stop-color="#fd9300"/><stop offset="0.8356" stop-color="#faff00"/><stop offset="0.8507" stop-color="#00ff00"/><stop offset="0.8842" stop-color="#00ff00"/><stop offset="0.9260" stop-color="#00ffff"/><stop offset="0.9487" stop-color="#0096ff"/><stop offset="0.9601" stop-color="#0046ff"/><stop offset="0.9676" stop-color="#0000ff"/></linearGradient><linearGradient id="gd82" gradientUnits="objectBoundingBox" x1="0" y1="0" x2="1" y2="0"><stop offset="0.3617" stop-color="#0000ff"/><stop offset="0.4220" stop-color="#0046ff"/><stop offset="0.4637" stop-color="#0096ff"/><stop offset="0.5129" stop-color="#00ffff"/><stop offset="0.5506" stop-color="#00ff00"/><stop offset="0.6560" stop-color="#00ff00"/><stop offset="0.6710" stop-color="#ffff00"/><stop offset="0.6823" stop-color="#ff8c00"/><stop offset="0.6936" stop-color="#ff0000"/><stop offset="0.8141" stop-color="#ff0000"/><stop offset="0.8293" stop-color="#ff8c00"/><stop offset="0.8408" stop-color="#ffff00"/><stop offset="0.8560" stop-color="#00ff00"/><stop offset="0.8854" stop-color="#00ff00"/><stop offset="0.9263" stop-color="#00ffff"/><stop offset="0.9490" stop-color="#0096ff"/><stop offset="0.9603" stop-color="#0046ff"/><stop offset="0.9678" stop-color="#0000ff"/></linearGradient><linearGradient id="gd83" gradientUnits="objectBoundingBox" x1="0" y1="0" x2="1" y2="0"><stop offset="0.3617" stop-color="#0000ff"/><stop offset="0.4211" stop-color="#0046ff"/><stop offset="0.4628" stop-color="#0096ff"/><stop offset="0.5120" stop-color="#00ffff"/><stop offset="0.5493" stop-color="#00ff00"/><stop offset="0.6532" stop-color="#00ff00"/><stop offset="0.6678" stop-color="#ffff00"/><stop offset="0.6788" stop-color="#ff8c00"/><stop offset="0.6902" stop-color="#ff0000"/><stop offset="0.8180" stop-color="#ff0000"/><stop offset="0.8332" stop-color="#ff8c00"/><stop offset="0.8451" stop-color="#ffff00"/><stop offset="0.8603" stop-color="#00ff00"/><stop offset="0.8875" stop-color="#00ff00"/><stop offset="0.9267" stop-color="#00ffff"/><stop offset="0.9495" stop-color="#0096ff"/><stop offset="0.9605" stop-color="#0046ff"/><stop offset="0.9678" stop-color="#0000ff"/></linearGradient><linearGradient id="gd84" gradientUnits="objectBoundingBox" x1="0" y1="0" x2="1" y2="0"><stop offset="0.3617" stop-color="#0000ff"/><stop offset="0.4203" stop-color="#0046ff"/><stop offset="0.4619" stop-color="#0096ff"/><stop offset="0.5112" stop-color="#00ffff"/><stop offset="0.5480" stop-color="#00ff00"/><stop offset="0.6504" stop-color="#00ff00"/><stop offset="0.6645" stop-color="#ffff00"/><stop offset="0.6754" stop-color="#ff8c00"/><stop offset="0.6867" stop-color="#ff0000"/><stop offset="0.8219" stop-color="#ff0000"/><stop offset="0.8370" stop-color="#ff8c00"/><stop offset="0.8494" stop-color="#ffff00"/><stop offset="0.8646" stop-color="#00ff00"/><stop offset="0.8897" stop-color="#00ff00"/><stop offset="0.9272" stop-color="#00ffff"/><stop offset="0.9499" stop-color="#0096ff"/><stop offset="0.9607" stop-color="#0046ff"/><stop offset="0.9678" stop-color="#0000ff"/></linearGradient><linearGradient id="gd85" gradientUnits="objectBoundingBox" x1="0" y1="0" x2="1" y2="0"><stop offset="0.3617" stop-color="#0000ff"/><stop offset="0.4194" stop-color="#0046ff"/><stop offset="0.4611" stop-color="#0096ff"/><stop offset="0.5103" stop-color="#00ffff"/><stop offset="0.5467" stop-color="#00ff00"/><stop offset="0.6476" stop-color="#00ff00"/><stop offset="0.6613" stop-color="#ffff00"/><stop offset="0.6719" stop-color="#ff8c00"/><stop offset="0.6833" stop-color="#ff0000"/><stop offset="0.8257" stop-color="#ff0000"/><stop offset="0.8409" stop-color="#ff8c00"/><stop offset="0.8537" stop-color="#ffff00"/><stop offset="0.8689" stop-color="#00ff00"/><stop offset="0.8918" stop-color="#00ff00"/><stop offset="0.9276" stop-color="#00ffff"/><stop offset="0.9503" stop-color="#0096ff"/><stop offset="0.9610" stop-color="#0046ff"/><stop offset="0.9678" stop-color="#0000ff"/></linearGradient><linearGradient id="gd86" gradientUnits="objectBoundingBox" x1="0" y1="0" x2="1" y2="0"><stop offset="0.3617" stop-color="#0000ff"/><stop offset="0.4185" stop-color="#0046ff"/><stop offset="0.4602" stop-color="#0096ff"/><stop offset="0.5095" stop-color="#00ffff"/><stop offset="0.5454" stop-color="#00ff00"/><stop offset="0.6448" stop-color="#00ff00"/><stop offset="0.6581" stop-color="#ffff00"/><stop offset="0.6685" stop-color="#ff8c00"/><stop offset="0.6799" stop-color="#ff0000"/><stop offset="0.8296" stop-color="#ff0000"/><stop offset="0.8448" stop-color="#ff8c00"/><stop offset="0.8580" stop-color="#ffff00"/><stop offset="0.8732" stop-color="#00ff00"/><stop offset="0.8940" stop-color="#00ff00"/><stop offset="0.9280" stop-color="#00ffff"/><stop offset="0.9508" stop-color="#0096ff"/><stop offset="0.9612" stop-color="#0046ff"/><stop offset="0.9678" stop-color="#0000ff"/></linearGradient><linearGradient id="gd87" gradientUnits="objectBoundingBox" x1="0" y1="0" x2="1" y2="0"><stop offset="0.3617" stop-color="#0000ff"/><stop offset="0.4177" stop-color="#0046ff"/><stop offset="0.4593" stop-color="#0096ff"/><stop offset="0.5086" stop-color="#00ffff"/><stop offset="0.5441" stop-color="#00ff00"/><stop offset="0.6420" stop-color="#00ff00"/><stop offset="0.6549" stop-color="#ffff00"/><stop offset="0.6650" stop-color="#ff8c00"/><stop offset="0.6764" stop-color="#ff0000"/><stop offset="0.8335" stop-color="#ff0000"/><stop offset="0.8486" stop-color="#ff8c00"/><stop offset="0.8623" stop-color="#ffff00"/><stop offset="0.8775" stop-color="#00ff00"/><stop offset="0.8961" stop-color="#00ff00"/><stop offset="0.9285" stop-color="#00ffff"/><stop offset="0.9512" stop-color="#0096ff"/><stop offset="0.9614" stop-color="#0046ff"/><stop offset="0.9678" stop-color="#0000ff"/></linearGradient><linearGradient id="gd88" gradientUnits="objectBoundingBox" x1="0" y1="0" x2="1" y2="0"><stop offset="0.3617" stop-color="#0000ff"/><stop offset="0.4168" stop-color="#0046ff"/><stop offset="0.4585" stop-color="#0096ff"/><stop offset="0.5077" stop-color="#00ffff"/><stop offset="0.5428" stop-color="#00ff00"/><stop offset="0.6392" stop-color="#00ff00"/><stop offset="0.6516" stop-color="#ffff00"/><stop offset="0.6616" stop-color="#ff8c00"/><stop offset="0.6730" stop-color="#ff0000"/><stop offset="0.8374" stop-color="#ff0000"/><stop offset="0.8525" stop-color="#ff8c00"/><stop offset="0.8666" stop-color="#ffff00"/><stop offset="0.8818" stop-color="#00ff00"/><stop offset="0.8983" stop-color="#00ff00"/><stop offset="0.9289" stop-color="#00ffff"/><stop offset="0.9516" stop-color="#0096ff"/><stop offset="0.9616" stop-color="#0046ff"/><stop offset="0.9678" stop-color="#0000ff"/></linearGradient><linearGradient id="gd89" gradientUnits="objectBoundingBox" x1="0" y1="0" x2="1" y2="0"><stop offset="0.3617" stop-color="#0000ff"/><stop offset="0.4160" stop-color="#0046ff"/><stop offset="0.4576" stop-color="#0096ff"/><stop offset="0.5069" stop-color="#00ffff"/><stop offset="0.5416" stop-color="#00ff00"/><stop offset="0.6364" stop-color="#00ff00"/><stop offset="0.6484" stop-color="#ffff00"/><stop offset="0.6582" stop-color="#ff8c00"/><stop offset="0.6695" stop-color="#ff0000"/><stop offset="0.8412" stop-color="#ff0000"/><stop offset="0.8564" stop-color="#ff8c00"/><stop offset="0.8710" stop-color="#ffff00"/><stop offset="0.8861" stop-color="#00ff00"/><stop offset="0.9004" stop-color="#00ff00"/><stop offset="0.9293" stop-color="#00ffff"/><stop offset="0.9521" stop-color="#0096ff"/><stop offset="0.9618" stop-color="#0046ff"/><stop offset="0.9678" stop-color="#0000ff"/></linearGradient><linearGradient id="gd90" gradientUnits="objectBoundingBox" x1="0" y1="0" x2="1" y2="0"><stop offset="0.3617" stop-color="#0000ff"/><stop offset="0.4151" stop-color="#0046ff"/><stop offset="0.4568" stop-color="#0096ff"/><stop offset="0.5060" stop-color="#00ffff"/><stop offset="0.5403" stop-color="#00ff00"/><stop offset="0.6336" stop-color="#00ff00"/><stop offset="0.6452" stop-color="#ffff00"/><stop offset="0.6547" stop-color="#ff8c00"/><stop offset="0.6661" stop-color="#ff0000"/><stop offset="0.8451" stop-color="#ff0000"/><stop offset="0.8603" stop-color="#ff8c00"/><stop offset="0.8753" stop-color="#ffff00"/><stop offset="0.8904" stop-color="#00ff00"/><stop offset="0.9026" stop-color="#00ff00"/><stop offset="0.9298" stop-color="#00ffff"/><stop offset="0.9525" stop-color="#0096ff"/><stop offset="0.9620" stop-color="#0046ff"/><stop offset="0.9678" stop-color="#0000ff"/></linearGradient><linearGradient id="gd91" gradientUnits="objectBoundingBox" x1="0" y1="0" x2="1" y2="0"><stop offset="0.3620" stop-color="#0000ff"/><stop offset="0.4148" stop-color="#0046ff"/><stop offset="0.4562" stop-color="#0096ff"/><stop offset="0.5053" stop-color="#00ffff"/><stop offset="0.5391" stop-color="#00ff00"/><stop offset="0.6310" stop-color="#00ff00"/><stop offset="0.6423" stop-color="#ffff00"/><stop offset="0.6516" stop-color="#ff8c00"/><stop offset="0.6629" stop-color="#ff0000"/><stop offset="0.8485" stop-color="#ff0000"/><stop offset="0.8634" stop-color="#ff8c00"/><stop offset="0.8784" stop-color="#ffff00"/><stop offset="0.8933" stop-color="#00ff00"/><stop offset="0.9045" stop-color="#00ff00"/><stop offset="0.9303" stop-color="#00ffff"/><stop offset="0.9531" stop-color="#0096ff"/><stop offset="0.9624" stop-color="#0046ff"/><stop offset="0.9680" stop-color="#0000ff"/></linearGradient><linearGradient id="gd92" gradientUnits="objectBoundingBox" x1="0" y1="0" x2="1" y2="0"><stop offset="0.3623" stop-color="#0000ff"/><stop offset="0.4148" stop-color="#0046ff"/><stop offset="0.4559" stop-color="#0096ff"/><stop offset="0.5046" stop-color="#00ffff"/><stop offset="0.5381" stop-color="#00ff00"/><stop offset="0.6285" stop-color="#00ff00"/><stop offset="0.6396" stop-color="#ffff00"/><stop offset="0.6488" stop-color="#ff8c00"/><stop offset="0.6598" stop-color="#ff0000"/><stop offset="0.8515" stop-color="#ff0000"/><stop offset="0.8661" stop-color="#ff8c00"/><stop offset="0.8807" stop-color="#ffff00"/><stop offset="0.8953" stop-color="#00ff00"/><stop offset="0.9061" stop-color="#00ff00"/><stop offset="0.9310" stop-color="#00ffff"/><stop offset="0.9537" stop-color="#0096ff"/><stop offset="0.9629" stop-color="#0046ff"/><stop offset="0.9684" stop-color="#0000ff"/></linearGradient><linearGradient id="gd93" gradientUnits="objectBoundingBox" x1="0" y1="0" x2="1" y2="0"><stop offset="0.3626" stop-color="#0000ff"/><stop offset="0.4148" stop-color="#0046ff"/><stop offset="0.4556" stop-color="#0096ff"/><stop offset="0.5039" stop-color="#00ffff"/><stop offset="0.5371" stop-color="#00ff00"/><stop offset="0.6259" stop-color="#00ff00"/><stop offset="0.6369" stop-color="#ffff00"/><stop offset="0.6459" stop-color="#ff8c00"/><stop offset="0.6568" stop-color="#ff0000"/><stop offset="0.8546" stop-color="#ff0000"/><stop offset="0.8688" stop-color="#ff8c00"/><stop offset="0.8831" stop-color="#ffff00"/><stop offset="0.8974" stop-color="#00ff00"/><stop offset="0.9078" stop-color="#00ff00"/><stop offset="0.9317" stop-color="#00ffff"/><stop offset="0.9544" stop-color="#0096ff"/><stop offset="0.9635" stop-color="#0046ff"/><stop offset="0.9687" stop-color="#0000ff"/></linearGradient><linearGradient id="gd94" gradientUnits="objectBoundingBox" x1="0" y1="0" x2="1" y2="0"><stop offset="0.3630" stop-color="#0000ff"/><stop offset="0.4148" stop-color="#0046ff"/><stop offset="0.4552" stop-color="#0096ff"/><stop offset="0.5032" stop-color="#00ffff"/><stop offset="0.5361" stop-color="#00ff00"/><stop offset="0.6234" stop-color="#00ff00"/><stop offset="0.6341" stop-color="#ffff00"/><stop offset="0.6430" stop-color="#ff8c00"/><stop offset="0.6538" stop-color="#ff0000"/><stop offset="0.8576" stop-color="#ff0000"/><stop offset="0.8715" stop-color="#ff8c00"/><stop offset="0.8855" stop-color="#ffff00"/><stop offset="0.8994" stop-color="#00ff00"/><stop offset="0.9095" stop-color="#00ff00"/><stop offset="0.9324" stop-color="#00ffff"/><stop offset="0.9551" stop-color="#0096ff"/><stop offset="0.9640" stop-color="#0046ff"/><stop offset="0.9690" stop-color="#0000ff"/></linearGradient><linearGradient id="gd95" gradientUnits="objectBoundingBox" x1="0" y1="0" x2="1" y2="0"><stop offset="0.3633" stop-color="#0000ff"/><stop offset="0.4148" stop-color="#0046ff"/><stop offset="0.4549" stop-color="#0096ff"/><stop offset="0.5026" stop-color="#00ffff"/><stop offset="0.5351" stop-color="#00ff00"/><stop offset="0.6209" stop-color="#00ff00"/><stop offset="0.6314" stop-color="#ffff00"/><stop offset="0.6401" stop-color="#ff8c00"/><stop offset="0.6507" stop-color="#ff0000"/><stop offset="0.8607" stop-color="#ff0000"/><stop offset="0.8742" stop-color="#ff8c00"/><stop offset="0.8878" stop-color="#ffff00"/><stop offset="0.9014" stop-color="#00ff00"/><stop offset="0.9112" stop-color="#00ff00"/><stop offset="0.9330" stop-color="#00ffff"/><stop offset="0.9558" stop-color="#0096ff"/><stop offset="0.9645" stop-color="#0046ff"/><stop offset="0.9694" stop-color="#0000ff"/></linearGradient><linearGradient id="gd96" gradientUnits="objectBoundingBox" x1="0" y1="0" x2="1" y2="0"><stop offset="0.3636" stop-color="#0000ff"/><stop offset="0.4148" stop-color="#0046ff"/><stop offset="0.4545" stop-color="#0096ff"/><stop offset="0.5019" stop-color="#00ffff"/><stop offset="0.5341" stop-color="#00ff00"/><stop offset="0.6183" stop-color="#00ff00"/><stop offset="0.6287" stop-color="#ffff00"/><stop offset="0.6373" stop-color="#ff8c00"/><stop offset="0.6477" stop-color="#ff0000"/><stop offset="0.8637" stop-color="#ff0000"/><stop offset="0.8769" stop-color="#ff8c00"/><stop offset="0.8902" stop-color="#ffff00"/><stop offset="0.9034" stop-color="#00ff00"/><stop offset="0.9129" stop-color="#00ff00"/><stop offset="0.9337" stop-color="#00ffff"/><stop offset="0.9565" stop-color="#0096ff"/><stop offset="0.9650" stop-color="#0046ff"/><stop offset="0.9697" stop-color="#0000ff"/></linearGradient><linearGradient id="gd97" gradientUnits="objectBoundingBox" x1="0" y1="0" x2="1" y2="0"><stop offset="0.3640" stop-color="#0000ff"/><stop offset="0.4148" stop-color="#0046ff"/><stop offset="0.4542" stop-color="#0096ff"/><stop offset="0.5012" stop-color="#00ffff"/><stop offset="0.5331" stop-color="#00ff00"/><stop offset="0.6158" stop-color="#00ff00"/><stop offset="0.6260" stop-color="#ffff00"/><stop offset="0.6344" stop-color="#ff8c00"/><stop offset="0.6446" stop-color="#ff0000"/><stop offset="0.8667" stop-color="#ff0000"/><stop offset="0.8797" stop-color="#ff8c00"/><stop offset="0.8926" stop-color="#ffff00"/><stop offset="0.9055" stop-color="#00ff00"/><stop offset="0.9146" stop-color="#00ff00"/><stop offset="0.9344" stop-color="#00ffff"/><stop offset="0.9571" stop-color="#0096ff"/><stop offset="0.9655" stop-color="#0046ff"/><stop offset="0.9700" stop-color="#0000ff"/></linearGradient><linearGradient id="gd98" gradientUnits="objectBoundingBox" x1="0" y1="0" x2="1" y2="0"><stop offset="0.3643" stop-color="#0000ff"/><stop offset="0.4148" stop-color="#0046ff"/><stop offset="0.4539" stop-color="#0096ff"/><stop offset="0.5005" stop-color="#00ffff"/><stop offset="0.5320" stop-color="#00ff00"/><stop offset="0.6132" stop-color="#00ff00"/><stop offset="0.6233" stop-color="#ffff00"/><stop offset="0.6315" stop-color="#ff8c00"/><stop offset="0.6416" stop-color="#ff0000"/><stop offset="0.8698" stop-color="#ff0000"/><stop offset="0.8824" stop-color="#ff8c00"/><stop offset="0.8949" stop-color="#ffff00"/><stop offset="0.9075" stop-color="#00ff00"/><stop offset="0.9163" stop-color="#00ff00"/><stop offset="0.9351" stop-color="#00ffff"/><stop offset="0.9578" stop-color="#0096ff"/><stop offset="0.9660" stop-color="#0046ff"/><stop offset="0.9704" stop-color="#0000ff"/></linearGradient><linearGradient id="gd99" gradientUnits="objectBoundingBox" x1="0" y1="0" x2="1" y2="0"><stop offset="0.3647" stop-color="#0000ff"/><stop offset="0.4148" stop-color="#0046ff"/><stop offset="0.4535" stop-color="#0096ff"/><stop offset="0.4999" stop-color="#00ffff"/><stop offset="0.5310" stop-color="#00ff00"/><stop offset="0.6107" stop-color="#00ff00"/><stop offset="0.6206" stop-color="#ffff00"/><stop offset="0.6286" stop-color="#ff8c00"/><stop offset="0.6385" stop-color="#ff0000"/><stop offset="0.8728" stop-color="#ff0000"/><stop offset="0.8851" stop-color="#ff8c00"/><stop offset="0.8973" stop-color="#ffff00"/><stop offset="0.9095" stop-color="#00ff00"/><stop offset="0.9180" stop-color="#00ff00"/><stop offset="0.9358" stop-color="#00ffff"/><stop offset="0.9585" stop-color="#0096ff"/><stop offset="0.9665" stop-color="#0046ff"/><stop offset="0.9707" stop-color="#0000ff"/></linearGradient><linearGradient id="gd100" gradientUnits="objectBoundingBox" x1="0" y1="0" x2="1" y2="0"><stop offset="0.3650" stop-color="#0000ff"/><stop offset="0.4148" stop-color="#0046ff"/><stop offset="0.4532" stop-color="#0096ff"/><stop offset="0.4992" stop-color="#00ffff"/><stop offset="0.5300" stop-color="#00ff00"/><stop offset="0.6082" stop-color="#00ff00"/><stop offset="0.6179" stop-color="#ffff00"/><stop offset="0.6258" stop-color="#ff8c00"/><stop offset="0.6355" stop-color="#ff0000"/><stop offset="0.8759" stop-color="#ff0000"/><stop offset="0.8878" stop-color="#ff8c00"/><stop offset="0.8997" stop-color="#ffff00"/><stop offset="0.9116" stop-color="#00ff00"/><stop offset="0.9197" stop-color="#00ff00"/><stop offset="0.9364" stop-color="#00ffff"/><stop offset="0.9592" stop-color="#0096ff"/><stop offset="0.9670" stop-color="#0046ff"/><stop offset="0.9711" stop-color="#0000ff"/></linearGradient><linearGradient id="gd101" gradientUnits="objectBoundingBox" x1="0" y1="0" x2="1" y2="0"><stop offset="0.3653" stop-color="#0000ff"/><stop offset="0.4148" stop-color="#0046ff"/><stop offset="0.4528" stop-color="#0096ff"/><stop offset="0.4985" stop-color="#00ffff"/><stop offset="0.5290" stop-color="#00ff00"/><stop offset="0.6056" stop-color="#00ff00"/><stop offset="0.6152" stop-color="#ffff00"/><stop offset="0.6229" stop-color="#ff8c00"/><stop offset="0.6324" stop-color="#ff0000"/><stop offset="0.8789" stop-color="#ff0000"/><stop offset="0.8905" stop-color="#ff8c00"/><stop offset="0.9020" stop-color="#ffff00"/><stop offset="0.9136" stop-color="#00ff00"/><stop offset="0.9214" stop-color="#00ff00"/><stop offset="0.9371" stop-color="#00ffff"/><stop offset="0.9598" stop-color="#0096ff"/><stop offset="0.9675" stop-color="#0046ff"/><stop offset="0.9714" stop-color="#0000ff"/></linearGradient><linearGradient id="gd102" gradientUnits="objectBoundingBox" x1="0" y1="0" x2="1" y2="0"><stop offset="0.3655" stop-color="#0000ff"/><stop offset="0.4148" stop-color="#0046ff"/><stop offset="0.4527" stop-color="#0096ff"/><stop offset="0.4981" stop-color="#00ffff"/><stop offset="0.5284" stop-color="#00ff00"/><stop offset="0.6042" stop-color="#00ff00"/><stop offset="0.6136" stop-color="#ffff00"/><stop offset="0.6212" stop-color="#ff8c00"/><stop offset="0.6307" stop-color="#ff0000"/><stop offset="0.8807" stop-color="#ff0000"/><stop offset="0.8920" stop-color="#ff8c00"/><stop offset="0.9034" stop-color="#ffff00"/><stop offset="0.9148" stop-color="#00ff00"/><stop offset="0.9223" stop-color="#00ff00"/><stop offset="0.9375" stop-color="#00ffff"/><stop offset="0.9602" stop-color="#0096ff"/><stop offset="0.9678" stop-color="#0046ff"/><stop offset="0.9716" stop-color="#0000ff"/></linearGradient><linearGradient id="gd103" gradientUnits="objectBoundingBox" x1="0" y1="0" x2="1" y2="0"><stop offset="0.3655" stop-color="#0000ff"/><stop offset="0.4148" stop-color="#0046ff"/><stop offset="0.4527" stop-color="#0096ff"/><stop offset="0.4981" stop-color="#00ffff"/><stop offset="0.5284" stop-color="#00ff00"/><stop offset="0.6042" stop-color="#00ff00"/><stop offset="0.6136" stop-color="#ffff00"/><stop offset="0.6212" stop-color="#ff8c00"/><stop offset="0.6307" stop-color="#ff0000"/><stop offset="0.8807" stop-color="#ff0000"/><stop offset="0.8920" stop-color="#ff8c00"/><stop offset="0.9034" stop-color="#ffff00"/><stop offset="0.9148" stop-color="#00ff00"/><stop offset="0.9223" stop-color="#00ff00"/><stop offset="0.9375" stop-color="#00ffff"/><stop offset="0.9602" stop-color="#0096ff"/><stop offset="0.9678" stop-color="#0046ff"/><stop offset="0.9716" stop-color="#0000ff"/></linearGradient><clipPath id="clipe"><rect x="487.2" y="393.2" width="305.8" height="223.7"/></clipPath><clipPath id="clipf"><rect x="895.4" y="412" width="287.6" height="209.7"/></clipPath><filter id="soft" x="0" y="0" width="100%" height="100%" filterUnits="userSpaceOnUse"><feGaussianBlur stdDeviation="0.45"/></filter></defs><g filter="url(#soft)"><rect x="0" y="0" width="1209" height="667" fill="#fff"/><g transform="translate(9.5 29.5) scale(1.03)">
<text x="0" y="0" font-size="31" text-anchor="start" font-weight="bold" fill="#111" font-family='"Liberation Serif", serif'>(a)</text>
</g>
<line x1="75.6" y1="31" x2="75.6" y2="283.2" stroke="#444" stroke-width="1.5"/>
<line x1="74.8" y1="282.5" x2="392.8" y2="282.5" stroke="#444" stroke-width="1.5"/>
<line x1="70.1" y1="282.5" x2="75.6" y2="282.5" stroke="#444" stroke-width="1.3"/>
<line x1="70.1" y1="219.6" x2="75.6" y2="219.6" stroke="#444" stroke-width="1.3"/>
<line x1="70.1" y1="156.8" x2="75.6" y2="156.8" stroke="#444" stroke-width="1.3"/>
<line x1="70.1" y1="93.9" x2="75.6" y2="93.9" stroke="#444" stroke-width="1.3"/>
<line x1="70.1" y1="31" x2="75.6" y2="31" stroke="#444" stroke-width="1.3"/>
<line x1="75.4" y1="282.5" x2="75.4" y2="288" stroke="#444" stroke-width="1.3"/>
<line x1="89.8" y1="282.5" x2="89.8" y2="285.5" stroke="#444" stroke-width="1.3"/>
<line x1="104.2" y1="282.5" x2="104.2" y2="285.5" stroke="#444" stroke-width="1.3"/>
<line x1="118.6" y1="282.5" x2="118.6" y2="285.5" stroke="#444" stroke-width="1.3"/>
<line x1="133" y1="282.5" x2="133" y2="285.5" stroke="#444" stroke-width="1.3"/>
<line x1="147.4" y1="282.5" x2="147.4" y2="288" stroke="#444" stroke-width="1.3"/>
<line x1="161.9" y1="282.5" x2="161.9" y2="285.5" stroke="#444" stroke-width="1.3"/>
<line x1="176.3" y1="282.5" x2="176.3" y2="285.5" stroke="#444" stroke-width="1.3"/>
<line x1="190.7" y1="282.5" x2="190.7" y2="285.5" stroke="#444" stroke-width="1.3"/>
<line x1="205.1" y1="282.5" x2="205.1" y2="285.5" stroke="#444" stroke-width="1.3"/>
<line x1="219.5" y1="282.5" x2="219.5" y2="288" stroke="#444" stroke-width="1.3"/>
<line x1="233.9" y1="282.5" x2="233.9" y2="285.5" stroke="#444" stroke-width="1.3"/>
<line x1="248.3" y1="282.5" x2="248.3" y2="285.5" stroke="#444" stroke-width="1.3"/>
<line x1="262.7" y1="282.5" x2="262.7" y2="285.5" stroke="#444" stroke-width="1.3"/>
<line x1="277.1" y1="282.5" x2="277.1" y2="285.5" stroke="#444" stroke-width="1.3"/>
<line x1="291.6" y1="282.5" x2="291.6" y2="288" stroke="#444" stroke-width="1.3"/>
<line x1="306" y1="282.5" x2="306" y2="285.5" stroke="#444" stroke-width="1.3"/>
<line x1="320.4" y1="282.5" x2="320.4" y2="285.5" stroke="#444" stroke-width="1.3"/>
<line x1="334.8" y1="282.5" x2="334.8" y2="285.5" stroke="#444" stroke-width="1.3"/>
<line x1="349.2" y1="282.5" x2="349.2" y2="285.5" stroke="#444" stroke-width="1.3"/>
<line x1="363.6" y1="282.5" x2="363.6" y2="288" stroke="#444" stroke-width="1.3"/>
<line x1="378" y1="282.5" x2="378" y2="285.5" stroke="#444" stroke-width="1.3"/>
<line x1="392.4" y1="282.5" x2="392.4" y2="285.5" stroke="#444" stroke-width="1.3"/>
<text x="75.4" y="302.5" font-size="14" text-anchor="middle" font-weight="normal" fill="#2a2a2a" font-family='"Liberation Sans", sans-serif' textLength="30" lengthAdjust="spacingAndGlyphs">1000</text>
<text x="147.4" y="302.5" font-size="14" text-anchor="middle" font-weight="normal" fill="#2a2a2a" font-family='"Liberation Sans", sans-serif' textLength="30" lengthAdjust="spacingAndGlyphs">1250</text>
<text x="219.5" y="302.5" font-size="14" text-anchor="middle" font-weight="normal" fill="#2a2a2a" font-family='"Liberation Sans", sans-serif' textLength="30" lengthAdjust="spacingAndGlyphs">1500</text>
<text x="291.6" y="302.5" font-size="14" text-anchor="middle" font-weight="normal" fill="#2a2a2a" font-family='"Liberation Sans", sans-serif' textLength="30" lengthAdjust="spacingAndGlyphs">1750</text>
<text x="363.6" y="302.5" font-size="14" text-anchor="middle" font-weight="normal" fill="#2a2a2a" font-family='"Liberation Sans", sans-serif' textLength="30" lengthAdjust="spacingAndGlyphs">2000</text>
<text x="66" y="39" font-size="14" text-anchor="end" font-weight="normal" fill="#2a2a2a" font-family='"Liberation Sans", sans-serif'>1</text>
<text x="66" y="288" font-size="14" text-anchor="end" font-weight="normal" fill="#2a2a2a" font-family='"Liberation Sans", sans-serif'>0</text>
<text x="157" y="320.5" font-size="17" text-anchor="start" font-weight="bold" fill="#111" font-family='"Liberation Sans", sans-serif' textLength="154" lengthAdjust="spacingAndGlyphs">Wavelength (nm)</text>
<text x="53" y="266.5" font-size="20" text-anchor="start" font-weight="normal" fill="#2a2a2a" font-family='"Liberation Sans", sans-serif' textLength="216" lengthAdjust="spacingAndGlyphs" transform="rotate(-90 53 266.5)">Normalized PL intensity</text>
<polyline points="76,277.2 76.8,276.8 77.6,276.3 78.4,275.6 79.2,275.2 80,274.8 80.8,274.5 81.6,274.6 82.4,274.1 83.2,273.1 84,272.8 84.8,272.4 85.6,271.7 86.4,270.6 87.2,269.6 88,268.9 88.8,267.2 89.6,265.4 90.4,263.5 91.2,261.3 92,259.1 92.8,256.8 93.6,253.3 94.4,248.9 95.2,244.2 96,238.6 96.8,232.3 97.6,226.8 98.4,222.4 99.2,217.8 100,212.8 100.8,208 101.6,203.5 102.4,198.8 103.2,194.7 104,189.9 104.8,184.7 105.6,180.1 106.4,174.7 107.2,169 108,163.4 108.8,157.5 109.6,151.1 110.4,144.8 111.2,139.1 112,132.4 112.8,125.9 113.6,120.1 114.4,113.6 115.2,107.9 116,101.9 116.8,94.5 117.6,87.7 118.4,81.6 119.2,75.1 120,69.1 120.8,63.5 121.6,58.4 122.4,54.4 123.2,50.2 124,46 124.8,42.2 125.6,38.7 126.4,35.4 127.2,32.8 128,31.6 128.8,31.5 129.6,32 130.4,31.9 131.2,32.1 132,33.4 132.8,34 133.6,34.5 134.4,35.7 135.2,36.8 136,37.4 136.8,37.5 137.6,37.6 138.4,38.1 139.2,39 140,39.6 140.8,40 141.6,41.5 142.4,43.9 143.2,46.9 144,50.4 144.8,54.8 145.6,59.7 146.4,65 147.2,70.4 148,76.5 148.8,84.3 149.6,92.9 150.4,102.2 151.2,111.4 152,120 152.8,127.5 153.6,134.2 154.4,140.7 155.2,146.5 156,152.9 156.8,159 157.6,164.6 158.4,170.5 159.2,174.9 160,178.5 160.8,182.7 161.6,186.7 162.4,190.2 163.2,193.4 164,196.9 164.8,200.4 165.6,203.3 166.4,206.6 167.2,210.4 168,214.1 168.8,218.4 169.6,222.8 170.4,227.3 171.2,231.5 172,234.8 172.8,237.3 173.6,239.1 174.4,240.1 175.2,240.8 176,242.3 176.8,242.8 177.6,243.8 178.4,244.9 179.2,246.2 180,248.3 180.8,251.2 181.6,255 182.4,258.3 183.2,262.5 184,266.9 184.8,269.6 185.6,271.4 186.4,273.1 187.2,274.5 188,276.2 188.8,277.4 189.6,277.9 190.4,278.5 191.2,279 192,279.4 192.8,280.3 193.6,280.7 194.4,280.7 195.2,280.6 196,280 196.8,279.7 197.6,279.4 198.4,279.2 199.2,279" fill="none" stroke="#4b4f9c" stroke-width="1.5" stroke-linejoin="round" stroke-linecap="round"/>
<polyline points="104.4,280.7 105.1,279.1 105.8,278.4 106.5,281.5 107.2,281.5 107.9,278.8 108.6,279.9 109.3,281.5 110,280.6 110.7,278.7 111.4,279.6 112.1,277.8 112.8,279.3 113.5,281.2 114.2,280.4 114.9,279.6 115.6,279.9 116.3,280.1 117,279.4 117.7,278.7 118.4,277.5 119.1,280.2 119.8,281 120.5,279.7 121.2,280.2 121.9,279.3 122.6,278.8 123.3,279.9 124,280.1 124.7,279.2 125.4,279.6 126.1,281 126.8,281.5 127.5,280.8 128.2,279.3 128.9,277.3 129.6,279 130.3,281.5 131,280.3 131.7,279.8 132.4,280.8 133.1,281 133.8,281.1 134.5,279.6 135.2,280.2 135.9,279.2 136.6,278.4 137.3,280.2 138,280.1 138.7,281.5 139.4,281.5 140.1,278.4 140.8,274.6 141.5,276.6 142.2,277.1 142.9,275.8 143.6,277.6 144.3,275.2 145,271.1 145.7,272.5 146.4,273.9 147.1,272.2 147.8,270.8 148.5,268.7 149.2,265.3 149.9,264.3 150.6,262.9 151.3,258.9 152,256.5 152.7,252.4 153.4,245 154.1,235.9 154.8,226 155.5,217.3 156.2,208.6 156.9,202.2 157.6,195.3 158.3,188.2 159,182.2 159.7,176.8 160.4,167.5 161.1,159 161.8,153.3 162.5,145.3 163.2,137 163.9,130 164.6,126.3 165.3,120.9 166,114.5 166.7,108.5 167.4,104 168.1,98.6 168.8,89.3 169.5,83.1 170.2,78.1 170.9,70.2 171.6,67.1 172.3,67.8 173,64.4 173.7,57.8 174.4,53.5 175.1,53.3 175.8,52.2 176.5,48.6 177.2,46 177.9,43.8 178.6,42.6 179.3,41.2 180,38.7 180.7,35.2 181.4,34 182.1,33.2 182.8,32.9 183.5,31.5 184.2,29.8 184.9,31.2 185.6,30.5 186.3,33.8 187,38.7 187.7,38.5 188.4,40.3 189.1,44 189.8,43 190.5,45.8 191.2,51.5 191.9,54 192.6,55.8 193.3,58.7 194,63.2 194.7,68.5 195.4,72.9 196.1,75.4 196.8,80.6 197.5,83.7 198.2,85.2 198.9,87.2 199.6,92.7 200.3,98.9 201,101.1 201.7,103.6 202.4,105.4 203.1,107.5 203.8,109.8 204.5,111.9 205.2,114.8 205.9,119.4 206.6,122.7 207.3,123.6 208,125.2 208.7,127.5 209.4,133.1 210.1,137.7 210.8,139.4 211.5,142.1 212.2,144.5 212.9,148.7 213.6,154.9 214.3,158.5 215,161.3 215.7,165.5 216.4,170 217.1,172.4 217.8,175.9 218.5,180.8 219.2,186.3 219.9,190.7 220.6,194.6 221.3,201.5 222,204.6 222.7,206 223.4,210 224.1,213.7 224.8,215 225.5,218.1 226.2,223.9 226.9,225.4 227.6,225.1 228.3,226.4 229,229 229.7,230.7 230.4,231 231.1,235.7 231.8,237.6 232.5,239.1 233.2,243.4 233.9,243.9 234.6,244.3 235.3,247.5 236,248 236.7,246.3 237.4,246.2 238.1,248.1 238.8,252.5 239.5,254.7 240.2,253.2 240.9,252.2 241.6,253.8 242.3,256.2 243,257.6 243.7,258.5 244.4,260 245.1,260.4 245.8,260.9 246.5,262.3 247.2,263 247.9,264.1 248.6,267 249.3,267.7 250,266.2 250.7,264.2 251.4,265 252.1,265 252.8,263.3 253.5,266.7 254.2,269.4 254.9,268.5 255.6,266 256.3,266 257,267.3 257.7,268.7 258.4,272.2 259.1,272 259.8,268.7 260.5,267.3 261.2,268.3 261.9,269.6 262.6,268.6 263.3,269.1 264,269.2 264.7,270.5 265.4,273.1 266.1,273.2 266.8,271.6 267.5,271.1 268.2,271.6 268.9,270.7 269.6,270.6 270.3,269.7 271,268.6 271.7,271.1 272.4,272.6 273.1,272 273.8,273.5 274.5,271.4 275.2,269.4 275.9,271.7 276.6,273.1 277.3,272.6 278,273.4 278.7,274.1 279.4,271.7 280.1,270.5 280.8,272.8 281.5,274.5 282.2,271.5 282.9,272.6 283.6,275.5 284.3,275.6 285,274.5 285.7,272.7 286.4,272 287.1,275.2 287.8,276.4 288.5,275.3 289.2,274.9 289.9,273.3 290.6,272.2 291.3,271.7 292,274.7 292.7,273.8 293.4,273.9 294.1,275.8 294.8,273.4 295.5,272.5 296.2,273.3 296.9,273.8 297.6,273.8 298.3,272.9 299,273.3 299.7,273.1 300.4,272 301.1,273.2 301.8,275.7 302.5,274.1 303.2,273.1 303.9,274.2 304.6,273.1" fill="none" stroke="#3db54a" stroke-width="1.5" stroke-linejoin="round" stroke-linecap="round"/>
<polyline points="162.3,281.5 163,281.2 163.7,281.6 164.4,281.5 165.1,280.7 165.8,281.1 166.5,280.4 167.2,280.9 167.9,281.3 168.6,281.3 169.3,281.4 170,280.3 170.7,280.2 171.4,281 172.1,281.6 172.8,281 173.5,280.4 174.2,279.9 174.9,280.3 175.6,280.7 176.3,279.2 177,279.8 177.7,281.6 178.4,280.7 179.1,279.2 179.8,279.7 180.5,279.6 181.2,280.3 181.9,280.4 182.6,279.6 183.3,280.4 184,280.3 184.7,280.2 185.4,279.9 186.1,278.8 186.8,278.1 187.5,280 188.2,280.8 188.9,279.7 189.6,279.7 190.3,279.5 191,279.3 191.7,280 192.4,278.8 193.1,276 193.8,275.3 194.5,274.7 195.2,274.9 195.9,275.3 196.6,273.2 197.3,270.8 198,270.1 198.7,270.8 199.4,268.1 200.1,266.4 200.8,266.3 201.5,265.3 202.2,263.9 202.9,261.6 203.6,259.7 204.3,257.5 205,257.4 205.7,256.5 206.4,253.1 207.1,249.6 207.8,246.1 208.5,243.5 209.2,241.1 209.9,237 210.6,232.1 211.3,226.1 212,220.3 212.7,214.8 213.4,209.2 214.1,203.9 214.8,196.3 215.5,188 216.2,181.5 216.9,174.8 217.6,167 218.3,159.6 219,151.4 219.7,143.6 220.4,135.8 221.1,127.3 221.8,119.1 222.5,110.6 223.2,102.6 223.9,95.9 224.6,89.7 225.3,83.4 226,77.2 226.7,69.9 227.4,63.9 228.1,58.3 228.8,53 229.5,49.7 230.2,45.7 230.9,43.2 231.6,42 232.3,39.3 233,36.7 233.7,34.6 234.4,32.6 235.1,31.5 235.8,31 236.5,31 237.2,30.9 237.9,31.7 238.6,33.6 239.3,34.8 240,36.2 240.7,38.6 241.4,40.1 242.1,42.4 242.8,46.2 243.5,48.8 244.2,51.6 244.9,54 245.6,57.4 246.3,63 247,68.9 247.7,74.6 248.4,79.9 249.1,86.9 249.8,95.5 250.5,102.8 251.2,109 251.9,114 252.6,120.6 253.3,127.6 254,131.5 254.7,138.2 255.4,145.2 256.1,150.5 256.8,157.3 257.5,165.2 258.2,171.3 258.9,176.5 259.6,183.3 260.3,189.3 261,193 261.7,196.5 262.4,200.5 263.1,204.8 263.8,210.3 264.5,215.4 265.2,219.5 265.9,224 266.6,227.4 267.3,230.5 268,235 268.7,238.7 269.4,242 270.1,244.8 270.8,246.4 271.5,248.7 272.2,250.6 272.9,251.5 273.6,254.6 274.3,257.7 275,259.4 275.7,260.2 276.4,261.5 277.1,263.9 277.8,265 278.5,265.4 279.2,266.9 279.9,270 280.6,271.4 281.3,271.2 282,271.6 282.7,273.2 283.4,272.1 284.1,272.2 284.8,274.9 285.5,275.9 286.2,277.2 286.9,278 287.6,277.6 288.3,277.5 289,278.2 289.7,278 290.4,277.8 291.1,279 291.8,280.5 292.5,280 293.2,278.9 293.9,279.3 294.6,280.3 295.3,280.3 296,280.5 296.7,280 297.4,279.1 298.1,279.7 298.8,280.4 299.5,281.3 300.2,280 300.9,278.8 301.6,280.1 302.3,280.3 303,279.2 303.7,280.4 304.4,281.7 305.1,281.4 305.8,280.9 306.5,281.3 307.2,281.4 307.9,281.5 308.6,281.1 309.3,279.9 310,280.6 310.7,280.7 311.4,281 312.1,281.6 312.8,280.6 313.5,280.5 314.2,280.8 314.9,281.4 315.6,281.2 316.3,280.3 317,281.5 317.7,282 318.4,282 319.1,282 319.8,281.2 320.5,282 321.2,281.9 321.9,280.3 322.6,280.5 323.3,281.4 324,280.8 324.7,279.4 325.4,279 326.1,280.5 326.8,280.9 327.5,280.4 328.2,281 328.9,281.5 329.6,281.2 330.3,281.1 331,280.8 331.7,280.2 332.4,280.1 333.1,281.1 333.8,281.7 334.5,280.5 335.2,280.3 335.9,280.6 336.6,281.3 337.3,280.4 338,279.3 338.7,280.1 339.4,282 340.1,282 340.8,281.5 341.5,281.4 342.2,282 342.9,282 343.6,280.6 344.3,281.5 345,282 345.7,281.7 346.4,281.1 347.1,281.9 347.8,282 348.5,282 349.2,281.8 349.9,280.1 350.6,280.1 351.3,281.3 352,281.2 352.7,281.7 353.4,281.2 354.1,279.7 354.8,280.2 355.5,280.8 356.2,280.3 356.9,280.4 357.6,280.4 358.3,279.3 359,280.3 359.7,281.9 360.4,281.9 361.1,282 361.8,282 362.5,279.9 363.2,279.3 363.9,279.7 364.6,279.9 365.3,280.7 366,279.8 366.7,279.9 367.4,280.3 368.1,280.2 368.8,281.1 369.5,280.7 370.2,280.8 370.9,280.6 371.6,280.3 372.3,279.5 373,279.9 373.7,282 374.4,282 375.1,282 375.8,282 376.5,281 377.2,281.5 377.9,281.9 378.6,280.9 379.3,280.8 380,280.9 380.7,280.8 381.4,280.7 382.1,280.3 382.8,280.1 383.5,282 384.2,282 384.9,280.8 385.6,281.2" fill="none" stroke="#e8773c" stroke-width="1.5" stroke-linejoin="round" stroke-linecap="round"/>
<polyline points="220.2,281.5 221,281.5 221.8,281.4 222.6,281.4 223.4,281.4 224.2,281.3 225,281.3 225.8,281.2 226.6,281.2 227.4,281.2 228.2,281.1 229,281.1 229.8,281.1 230.6,281 231.4,281 232.2,281 233,280.9 233.8,280.9 234.6,280.8 235.4,280.8 236.2,280.8 237,280.7 237.8,280.7 238.6,280.6 239.4,280.5 240.2,280.5 241,280.4 241.8,280.4 242.6,280.3 243.4,280.2 244.2,280.1 245,280.1 245.8,280 246.6,279.9 247.4,279.8 248.2,279.7 249,279.6 249.8,279.5 250.6,279.3 251.4,279.2 252.2,279.1 253,278.9 253.8,278.8 254.6,278.6 255.4,278.4 256.2,278.3 257,278.1 257.8,277.8 258.6,277.6 259.4,277.4 260.2,277.2 261,276.9 261.8,276.5 262.6,276 263.4,275.4 264.2,274.7 265,273.8 265.8,272.8 266.6,271.8 267.4,270.6 268.2,269.3 269,267.9 269.8,266.4 270.6,264.8 271.4,263.1 272.2,261.4 273,259.5 273.8,257.6 274.6,255.6 275.4,253.3 276.2,250.4 277,246.7 277.8,242.4 278.6,237.6 279.4,232.3 280.2,226.7 281,220.8 281.8,214.7 282.6,208.5 283.4,202.2 284.2,196 285,190 285.8,183.8 286.6,177 287.4,169.8 288.2,162.3 289,154.5 289.8,146.6 290.6,138.6 291.4,130.6 292.2,122.7 293,114.9 293.8,107.4 294.6,100.3 295.4,93.7 296.2,87.5 297,82 297.8,76.9 298.6,71.6 299.4,66.3 300.2,60.9 301,55.7 301.8,50.7 302.6,46.1 303.4,41.9 304.2,38.3 305,35.3 305.8,33.1 306.6,31.7 307.4,31.3 308.2,31.7 309,32.6 309.8,33.9 310.6,35.7 311.4,37.9 312.2,40.4 313,43.1 313.8,46.1 314.6,49.2 315.4,52.4 316.2,55.7 317,58.9 317.8,62.2 318.6,65.9 319.4,70.3 320.2,75 321,80.2 321.8,85.7 322.6,91.4 323.4,97.3 324.2,103.3 325,109.4 325.8,115.4 326.6,121.3 327.4,127.1 328.2,132.6 329,137.8 329.8,142.7 330.6,147.4 331.4,152.1 332.2,156.8 333,161.5 333.8,166.1 334.6,170.6 335.4,175.1 336.2,179.4 337,183.7 337.8,187.9 338.6,191.9 339.4,195.8 340.2,199.5 341,203 341.8,206.4 342.6,209.7 343.4,212.9 344.2,216.1 345,219.2 345.8,222.2 346.6,225.1 347.4,228 348.2,230.8 349,233.4 349.8,236 350.6,238.4 351.4,240.7 352.2,242.8 353,244.8 353.8,246.7 354.6,248.5 355.4,250.2 356.2,251.9 357,253.6 357.8,255.2 358.6,256.8 359.4,258.4 360.2,259.9 361,261.4 361.8,262.8 362.6,264.1 363.4,265.4 364.2,266.6 365,267.7 365.8,268.8 366.6,269.8 367.4,270.7 368.2,271.5 369,272.2 369.8,272.9 370.6,273.4 371.4,273.9 372.2,274.4 373,274.8 373.8,275.2 374.6,275.6 375.4,276 376.2,276.3 377,276.7 377.8,277 378.6,277.3 379.4,277.6 380.2,277.9 381,278.2 381.8,278.5 382.6,278.8 383.4,279.1" fill="none" stroke="#cc2a3c" stroke-width="1.5" stroke-linejoin="round" stroke-linecap="round"/>
<text x="385.5" y="29" font-size="31" text-anchor="start" font-weight="bold" fill="#111" font-family='"Liberation Serif", serif'>(b)</text>
<rect x="433.3" y="30" width="377.7" height="253" fill="none" stroke="#444" stroke-width="1.5"/>
<line x1="433.3" y1="283" x2="433.3" y2="288" stroke="#444" stroke-width="1.3"/>
<line x1="464.8" y1="283" x2="464.8" y2="286" stroke="#444" stroke-width="1.3"/>
<line x1="496.2" y1="283" x2="496.2" y2="288" stroke="#444" stroke-width="1.3"/>
<line x1="527.7" y1="283" x2="527.7" y2="286" stroke="#444" stroke-width="1.3"/>
<line x1="559.2" y1="283" x2="559.2" y2="288" stroke="#444" stroke-width="1.3"/>
<line x1="590.7" y1="283" x2="590.7" y2="286" stroke="#444" stroke-width="1.3"/>
<line x1="622.1" y1="283" x2="622.1" y2="288" stroke="#444" stroke-width="1.3"/>
<line x1="653.6" y1="283" x2="653.6" y2="286" stroke="#444" stroke-width="1.3"/>
<line x1="685.1" y1="283" x2="685.1" y2="288" stroke="#444" stroke-width="1.3"/>
<line x1="716.6" y1="283" x2="716.6" y2="286" stroke="#444" stroke-width="1.3"/>
<line x1="748" y1="283" x2="748" y2="288" stroke="#444" stroke-width="1.3"/>
<line x1="779.5" y1="283" x2="779.5" y2="286" stroke="#444" stroke-width="1.3"/>
<line x1="811" y1="283" x2="811" y2="288" stroke="#444" stroke-width="1.3"/>
<text x="433.3" y="302.7" font-size="14" text-anchor="middle" font-weight="normal" fill="#2a2a2a" font-family='"Liberation Sans", sans-serif' textLength="31" lengthAdjust="spacingAndGlyphs">1000</text>
<text x="496.2" y="302.7" font-size="14" text-anchor="middle" font-weight="normal" fill="#2a2a2a" font-family='"Liberation Sans", sans-serif' textLength="31" lengthAdjust="spacingAndGlyphs">1100</text>
<text x="559.2" y="302.7" font-size="14" text-anchor="middle" font-weight="normal" fill="#2a2a2a" font-family='"Liberation Sans", sans-serif' textLength="31" lengthAdjust="spacingAndGlyphs">1200</text>
<text x="622.1" y="302.7" font-size="14" text-anchor="middle" font-weight="normal" fill="#2a2a2a" font-family='"Liberation Sans", sans-serif' textLength="31" lengthAdjust="spacingAndGlyphs">1300</text>
<text x="685.1" y="302.7" font-size="14" text-anchor="middle" font-weight="normal" fill="#2a2a2a" font-family='"Liberation Sans", sans-serif' textLength="31" lengthAdjust="spacingAndGlyphs">1400</text>
<text x="748" y="302.7" font-size="14" text-anchor="middle" font-weight="normal" fill="#2a2a2a" font-family='"Liberation Sans", sans-serif' textLength="31" lengthAdjust="spacingAndGlyphs">1500</text>
<text x="811" y="302.7" font-size="14" text-anchor="middle" font-weight="normal" fill="#2a2a2a" font-family='"Liberation Sans", sans-serif' textLength="31" lengthAdjust="spacingAndGlyphs">1600</text>
<text x="546" y="322.5" font-size="17.5" text-anchor="start" font-weight="normal" fill="#222" font-family='"Liberation Sans", sans-serif' textLength="152.5" lengthAdjust="spacingAndGlyphs">Wavelength (nm)</text>
<text x="419.5" y="234" font-size="19" text-anchor="start" font-weight="normal" fill="#222" font-family='"Liberation Sans", sans-serif' textLength="156" lengthAdjust="spacingAndGlyphs" transform="rotate(-90 419.5 234)">PL intensity (a.u.)</text>
<polyline points="433.3,276.3 434.1,275.9 434.9,275.6 435.7,276.4 436.5,276.6 437.3,276.3 438.1,276.8 438.9,276.6 439.7,276.1 440.5,276.2 441.3,276.7 442.1,276.2 442.9,275.5 443.7,276.1 444.5,276.6 445.3,277 446.1,277.3 446.9,276.6 447.7,276.4 448.5,276.9 449.3,276.4 450.1,276.7 450.9,276.7 451.7,275.8 452.5,276 453.3,276.3 454.1,276.2 454.9,276.9 455.7,277.3 456.5,277.8 457.3,277.6 458.1,276.5 458.9,276.4 459.7,276.6 460.5,276.5 461.3,277 462.1,277.2 462.9,276.4 463.7,276.9 464.5,277.6 465.3,277.5 466.1,277.6 466.9,277.7 467.7,277.7 468.5,277.9 469.3,278.1 470.1,277.8 470.9,277.8 471.7,277.2 472.5,277 473.3,277.4 474.1,277.5 474.9,277.2 475.7,277.7 476.5,278.2 477.3,277.2 478.1,276.6 478.9,276.9 479.7,277.5 480.5,277.4 481.3,277.5 482.1,277.5 482.9,277.7 483.7,277.7 484.5,277.5 485.3,278.1 486.1,279 486.9,278.3 487.7,277.2 488.5,277.3 489.3,277.8 490.1,277.7 490.9,277.2 491.7,277.6 492.5,277.5 493.3,277.2 494.1,277.3 494.9,276.9 495.7,276.6 496.5,277.2 497.3,277.8 498.1,277.9 498.9,277.2 499.7,277.1 500.5,278 501.3,278.4 502.1,278.1 502.9,277.6 503.7,277.8 504.5,278 505.3,277.3 506.1,277.3 506.9,278.2 507.7,278.6 508.5,278.5 509.3,278.2 510.1,278.1 510.9,278.1 511.7,277.7 512.5,278.8 513.3,279.1 514.1,278.1 514.9,277.8 515.7,278.1 516.5,278.5 517.3,278.3 518.1,277.2 518.9,277.3 519.7,277.9 520.5,278 521.3,278.5 522.1,278.6 522.9,278.4 523.7,277.8 524.5,277.8 525.3,278.9 526.1,278.9 526.9,278.2 527.7,277.9 528.5,278.4 529.3,278 530.1,277.3 530.9,277.7 531.7,277.9 532.5,277.6 533.3,277.3 534.1,277.3 534.9,277.2 535.7,277.2 536.5,276.6 537.3,276.6 538.1,277.2 538.9,276.8 539.7,276.3 540.5,276.8 541.3,276.4 542.1,276.1 542.9,276.1 543.7,276.3 544.5,277.4 545.3,277.6 546.1,276.6 546.9,276 547.7,276.1 548.5,275.7 549.3,276.1 550.1,275.5 550.9,275.2 551.7,275.6 552.5,275.6 553.3,275.5 554.1,274.7 554.9,274.6 555.7,275 556.5,274.8 557.3,274.6 558.1,274.3 558.9,273.3 559.7,273.6 560.5,274.5 561.3,274.2 562.1,273.8 562.9,274 563.7,273.7 564.5,273 565.3,273 566.1,273.6 566.9,273 567.7,272.9 568.5,273.1 569.3,272.1 570.1,272.7 570.9,272.9 571.7,271.9 572.5,271.6 573.3,272.3 574.1,272.7 574.9,272.1 575.7,271.7 576.5,271.9 577.3,271.4 578.1,271.1 578.9,271.2 579.7,270.7 580.5,270.4 581.3,270.5 582.1,270.5 582.9,270.2 583.7,269.8 584.5,270.3 585.3,270.4 586.1,270.1 586.9,270.3 587.7,270 588.5,270.3 589.3,269.6 590.1,268.9 590.9,269 591.7,269.2 592.5,269.7 593.3,268.2 594.1,267.1 594.9,267.9 595.7,268.3 596.5,268.2 597.3,267.8 598.1,267.5 598.9,267.6 599.7,267.3 600.5,267.2 601.3,266.3 602.1,266 602.9,266.3 603.7,266.3 604.5,266.4 605.3,265.6 606.1,265.7 606.9,265.5 607.7,264.9 608.5,264.6 609.3,264.7 610.1,265.3 610.9,265.5 611.7,265.2 612.5,265 613.3,264.9 614.1,264.4 614.9,264.4 615.7,264.7 616.5,264.2 617.3,263.6 618.1,263.5 618.9,263.5 619.7,263.1 620.5,263.3 621.3,263.3 622.1,262.9 622.9,262.6 623.7,262.4 624.5,262.7 625.3,262.2 626.1,262.6 626.9,262.7 627.7,262.4 628.5,262.5 629.3,261.4 630.1,260.8 630.9,260.9 631.7,260.9 632.5,260.6 633.3,260.2 634.1,259.4 634.9,259.2 635.7,258.8 636.5,258.8 637.3,259.1 638.1,258.4 638.9,258.3 639.7,258.4 640.5,257.7 641.3,256.7 642.1,256.6 642.9,256.2 643.7,255.9 644.5,256.9 645.3,256.5 646.1,255.9 646.9,255.5 647.7,255 648.5,255 649.3,254.6 650.1,254.6 650.9,254.9 651.7,254.4 652.5,253.5 653.3,252.7 654.1,252.5 654.9,252.4 655.7,252.1 656.5,251.9 657.3,251.8 658.1,250.8 658.9,249.7 659.7,250.4 660.5,250 661.3,249.1 662.1,248.7 662.9,248.2 663.7,248 664.5,249 665.3,249 666.1,247.4 666.9,246.4 667.7,246.3 668.5,246.6 669.3,246.1 670.1,245.2 670.9,245.5 671.7,245.7 672.5,244.9 673.3,243.8 674.1,243.1 674.9,242.8 675.7,242.2 676.5,242.4 677.3,242.6 678.1,242.1 678.9,242.6 679.7,242.4 680.5,241 681.3,240.5 682.1,240.9 682.9,240 683.7,238.8 684.5,238.7 685.3,238.1 686.1,238.3 686.9,237.6 687.7,236.3 688.5,236.7 689.3,236.7 690.1,236.5 690.9,236.4 691.7,235.9 692.5,235.9 693.3,234.9 694.1,234.2 694.9,234.4 695.7,234.2 696.5,234.2 697.3,233.6 698.1,233.1 698.9,233.4 699.7,233.6 700.5,232.9 701.3,233.3 702.1,234.2 702.9,232.8 703.7,231.9 704.5,233.2 705.3,233.3 706.1,232.3 706.9,231.8 707.7,231.5 708.5,231.3 709.3,231.2 710.1,231.4 710.9,231.4 711.7,230.8 712.5,230.4 713.3,230.4 714.1,230.4 714.9,230.3 715.7,230.9 716.5,230.9 717.3,230.6 718.1,230.5 718.9,230.3 719.7,230 720.5,229.8 721.3,230 722.1,229.6 722.9,229.7 723.7,230 724.5,229.2 725.3,228.9 726.1,228.9 726.9,229 727.7,229 728.5,229.2 729.3,229.1 730.1,227.9 730.9,227.8 731.7,227.8 732.5,228 733.3,229.1 734.1,229.3 734.9,228.4 735.7,227.8 736.5,228.9 737.3,229.2 738.1,228.6 738.9,228.8 739.7,229.6 740.5,229.7 741.3,228.8 742.1,228.5 742.9,228.7 743.7,228.3 744.5,227.7 745.3,227.9 746.1,228 746.9,228 747.7,228.4 748.5,229.2 749.3,228.9 750.1,228.1 750.9,228.4 751.7,228.6 752.5,229.1 753.3,228.8 754.1,228.2 754.9,227.8 755.7,227.9 756.5,228.7 757.3,229.1 758.1,228.7 758.9,228.6 759.7,229 760.5,229.4 761.3,229.3 762.1,229.1 762.9,228.8 763.7,228.5 764.5,229.9 765.3,229.6 766.1,229 766.9,229.9 767.7,230 768.5,229.8 769.3,230 770.1,230.4 770.9,230.5 771.7,229.9 772.5,230 773.3,230.5 774.1,230.5 774.9,231 775.7,231.5 776.5,231.9 777.3,231.7 778.1,231.9 778.9,232.7 779.7,232.9 780.5,233.2 781.3,233 782.1,232.6 782.9,233.2 783.7,233 784.5,233 785.3,233.6 786.1,233.6 786.9,233.5 787.7,233.6 788.5,234.4 789.3,235.3 790.1,236 790.9,235.9 791.7,235.8 792.5,235.8 793.3,236.3 794.1,236.8 794.9,237.2 795.7,238.2 796.5,238.2 797.3,237.4 798.1,237.4 798.9,237.7 799.7,237.9 800.5,239.2 801.3,240 802.1,239.3 802.9,239.7 803.7,241 804.5,240.9 805.3,240.5 806.1,240.8 806.9,241.4 807.7,242 808.5,242.6 809.3,243.1 810.1,243.4 810.9,243.7" fill="none" stroke="#22dd22" stroke-width="3.2" stroke-linejoin="round" stroke-linecap="round"/>
<polyline points="433.3,275.7 434.1,275.3 434.9,275.1 435.7,275.7 436.5,275.6 437.3,275.8 438.1,275.9 438.9,275.4 439.7,275.9 440.5,276.4 441.3,276.1 442.1,276.2 442.9,276.5 443.7,276.4 444.5,275.4 445.3,275.2 446.1,275.8 446.9,275.7 447.7,275.9 448.5,276.6 449.3,276.4 450.1,275.8 450.9,276.5 451.7,276.8 452.5,275.9 453.3,276.1 454.1,276.6 454.9,276.4 455.7,276.5 456.5,276.6 457.3,276.2 458.1,276.4 458.9,276.9 459.7,276.7 460.5,276.6 461.3,276.8 462.1,277.5 462.9,277.4 463.7,277 464.5,277.2 465.3,276.8 466.1,277.1 466.9,277.4 467.7,277.6 468.5,277.4 469.3,276.9 470.1,276.7 470.9,277 471.7,277.3 472.5,277.6 473.3,277.6 474.1,277.5 474.9,277.8 475.7,277.6 476.5,276.8 477.3,276.4 478.1,276.5 478.9,277.3 479.7,277.4 480.5,277.4 481.3,277.8 482.1,277.9 482.9,278.1 483.7,277.6 484.5,277.2 485.3,277.3 486.1,277.4 486.9,277.3 487.7,277.2 488.5,277.8 489.3,277.4 490.1,277 490.9,277.3 491.7,277.2 492.5,277.7 493.3,277.7 494.1,277.7 494.9,277.2 495.7,277.3 496.5,277.6 497.3,277.5 498.1,277.7 498.9,276.8 499.7,276.6 500.5,277.3 501.3,278 502.1,278 502.9,277.6 503.7,277.2 504.5,277.5 505.3,278.4 506.1,278 506.9,277.4 507.7,276.9 508.5,277.2 509.3,278.4 510.1,278.3 510.9,277.9 511.7,277.8 512.5,277.2 513.3,277.4 514.1,277.3 514.9,276.8 515.7,277.2 516.5,277.5 517.3,277.5 518.1,277.3 518.9,276.9 519.7,276.4 520.5,276.6 521.3,276.7 522.1,276.3 522.9,276.1 523.7,276.3 524.5,276.1 525.3,275.8 526.1,275.8 526.9,276.2 527.7,276.7 528.5,277.2 529.3,276.6 530.1,275.8 530.9,276.4 531.7,276.5 532.5,276.1 533.3,276.6 534.1,276.5 534.9,275.6 535.7,275.3 536.5,275.6 537.3,276 538.1,275.5 538.9,275.1 539.7,275.5 540.5,275.9 541.3,275.5 542.1,275.5 542.9,275.7 543.7,274.9 544.5,274.6 545.3,275.1 546.1,274.9 546.9,274 547.7,273.9 548.5,274.6 549.3,274.9 550.1,273.9 550.9,274 551.7,274.1 552.5,273.4 553.3,273.9 554.1,273.7 554.9,273.1 555.7,272.3 556.5,272.2 557.3,272.1 558.1,271 558.9,271.8 559.7,272.5 560.5,272 561.3,271.3 562.1,271 562.9,271.5 563.7,271.3 564.5,270.6 565.3,269.6 566.1,269.4 566.9,268.9 567.7,268.2 568.5,268.7 569.3,268.6 570.1,268.3 570.9,268.4 571.7,268.7 572.5,268.9 573.3,268.1 574.1,267.9 574.9,267.4 575.7,266.8 576.5,267 577.3,266.5 578.1,265.9 578.9,265.7 579.7,265.5 580.5,266.1 581.3,265.7 582.1,265 582.9,264.7 583.7,264.1 584.5,263.8 585.3,264.3 586.1,265.1 586.9,264.5 587.7,263.4 588.5,263.3 589.3,263.1 590.1,262.9 590.9,262.9 591.7,262.5 592.5,262.3 593.3,261.9 594.1,261.4 594.9,260.8 595.7,260.6 596.5,260.4 597.3,260.3 598.1,260.2 598.9,260.1 599.7,260.2 600.5,259.6 601.3,259 602.1,258.9 602.9,259.2 603.7,259.7 604.5,259.5 605.3,258.8 606.1,258.7 606.9,258.2 607.7,258 608.5,258 609.3,256.6 610.1,257.4 610.9,258.4 611.7,257.2 612.5,256.6 613.3,256.6 614.1,256.4 614.9,255.8 615.7,255.4 616.5,255.8 617.3,255.8 618.1,255.8 618.9,255.6 619.7,255.7 620.5,255.3 621.3,254.5 622.1,254 622.9,253.4 623.7,254.1 624.5,254 625.3,253.6 626.1,253.7 626.9,253 627.7,252.8 628.5,252.7 629.3,252.5 630.1,252.7 630.9,252.8 631.7,252.2 632.5,251.5 633.3,251.6 634.1,251.6 634.9,251.5 635.7,252.1 636.5,251.8 637.3,250.8 638.1,250.2 638.9,249.7 639.7,249.2 640.5,248.9 641.3,248.7 642.1,248.6 642.9,248.6 643.7,248.3 644.5,247.7 645.3,247.2 646.1,247.4 646.9,247.5 647.7,247.2 648.5,247 649.3,246.5 650.1,245.9 650.9,245.3 651.7,245.8 652.5,244.9 653.3,244.2 654.1,244.6 654.9,244.1 655.7,243.5 656.5,243.4 657.3,242.6 658.1,242 658.9,241.6 659.7,240.9 660.5,240.7 661.3,240.5 662.1,240.4 662.9,240.2 663.7,239.4 664.5,239.5 665.3,239.9 666.1,239.3 666.9,238.5 667.7,238 668.5,237.9 669.3,237.8 670.1,236.8 670.9,236.6 671.7,237.6 672.5,236.6 673.3,235.7 674.1,236.1 674.9,235.4 675.7,235.4 676.5,234.8 677.3,234.1 678.1,234.6 678.9,234.2 679.7,233.3 680.5,233.1 681.3,232.8 682.1,232.9 682.9,232.5 683.7,232 684.5,231.6 685.3,231.2 686.1,231.3 686.9,230 687.7,229.8 688.5,229.9 689.3,229.5 690.1,230 690.9,229.5 691.7,228.5 692.5,228.9 693.3,229 694.1,228.8 694.9,228.6 695.7,227.6 696.5,227.2 697.3,227.6 698.1,227.6 698.9,227 699.7,226.5 700.5,226.3 701.3,225.9 702.1,226.2 702.9,226.2 703.7,225.1 704.5,224.7 705.3,225.1 706.1,225.2 706.9,224.7 707.7,224.1 708.5,223.9 709.3,223.4 710.1,222.7 710.9,223.2 711.7,223.2 712.5,222.9 713.3,223.2 714.1,223 714.9,222.5 715.7,222.7 716.5,222.7 717.3,221.8 718.1,221.6 718.9,221.6 719.7,221 720.5,220.8 721.3,220.8 722.1,220.1 722.9,220 723.7,220.4 724.5,220.2 725.3,219.8 726.1,219.8 726.9,220.2 727.7,220.3 728.5,220 729.3,220.2 730.1,220.2 730.9,220 731.7,220.8 732.5,220.8 733.3,220.3 734.1,220.9 734.9,221.1 735.7,220.8 736.5,221.1 737.3,221.7 738.1,221.1 738.9,220.7 739.7,221.2 740.5,221.3 741.3,221.6 742.1,221.8 742.9,222.3 743.7,222.5 744.5,222.7 745.3,223.2 746.1,223.2 746.9,223.3 747.7,224.2 748.5,224.5 749.3,224 750.1,224.1 750.9,224.2 751.7,224.5 752.5,225.2 753.3,225.1 754.1,225 754.9,225.7 755.7,225.8 756.5,225.7 757.3,225.7 758.1,225.6 758.9,226 759.7,227 760.5,227.2 761.3,226.7 762.1,226.8 762.9,227.1 763.7,227.7 764.5,228 765.3,228.6 766.1,228.8 766.9,228.9 767.7,229.1 768.5,229.1 769.3,228.8 770.1,228.8 770.9,229.4 771.7,229.6 772.5,229.2 773.3,229.8 774.1,230.5 774.9,230.4 775.7,230.6 776.5,230.9 777.3,231.3 778.1,231.2 778.9,231.1 779.7,231.7 780.5,232.3 781.3,232.3 782.1,232.3 782.9,232.4 783.7,232.8 784.5,233.6 785.3,233.5 786.1,233.8 786.9,234.6 787.7,234.3 788.5,234.5 789.3,234.4 790.1,234 790.9,234.2 791.7,234.8 792.5,235.4 793.3,235.6 794.1,235.9 794.9,235.7 795.7,236 796.5,236.5 797.3,236.4 798.1,236.9 798.9,237 799.7,237 800.5,237.2 801.3,237.9 802.1,238.6 802.9,239 803.7,238.7 804.5,238.6 805.3,238.8 806.1,239.4 806.9,239.4 807.7,239.8 808.5,240.5 809.3,240.1 810.1,240.6 810.9,241.4" fill="none" stroke="#ff22ee" stroke-width="2.8" stroke-linejoin="round" stroke-linecap="round"/>
<polyline points="433.3,274.9 434.1,275.2 434.9,275.2 435.7,275.3 436.5,275.6 437.3,275.3 438.1,275.4 438.9,275.6 439.7,275.3 440.5,275.2 441.3,275.2 442.1,275.6 442.9,275.4 443.7,275.5 444.5,275.9 445.3,275.9 446.1,275.4 446.9,275.4 447.7,276.1 448.5,276 449.3,276 450.1,275.7 450.9,275.9 451.7,276.3 452.5,276.4 453.3,276.2 454.1,276.3 454.9,276.7 455.7,276.7 456.5,276.7 457.3,276.4 458.1,277.1 458.9,277.2 459.7,276.6 460.5,276.7 461.3,276.7 462.1,277.1 462.9,277.7 463.7,277.3 464.5,276.6 465.3,277.1 466.1,277.7 466.9,277.6 467.7,277.7 468.5,277.3 469.3,277.1 470.1,277 470.9,276.7 471.7,277.2 472.5,277.4 473.3,277.7 474.1,277.8 474.9,277.2 475.7,277.4 476.5,277.9 477.3,277.9 478.1,277.2 478.9,277.2 479.7,277.8 480.5,277.6 481.3,277.1 482.1,277.5 482.9,277.7 483.7,277.2 484.5,277.1 485.3,277.2 486.1,277.4 486.9,277.6 487.7,277.7 488.5,277.9 489.3,277.3 490.1,277.2 490.9,277.8 491.7,277.8 492.5,277.8 493.3,277.6 494.1,277.2 494.9,277.5 495.7,277.5 496.5,276.9 497.3,277.3 498.1,277.6 498.9,277.3 499.7,277.2 500.5,277 501.3,277 502.1,277.3 502.9,277.6 503.7,277.2 504.5,277.3 505.3,277.5 506.1,277.1 506.9,277.5 507.7,277.7 508.5,277.3 509.3,277.7 510.1,277.8 510.9,277.5 511.7,277.7 512.5,278 513.3,277.8 514.1,277.8 514.9,277.7 515.7,277.7 516.5,277.7 517.3,277.4 518.1,278 518.9,278.1 519.7,277.8 520.5,278.2 521.3,278.2 522.1,277.6 522.9,277.7 523.7,277.6 524.5,277.7 525.3,278.2 526.1,277.8 526.9,277.4 527.7,277.6 528.5,277.7 529.3,277.5 530.1,277.6 530.9,277.4 531.7,277.2 532.5,277.5 533.3,277.6 534.1,277.7 534.9,277.5 535.7,277.6 536.5,277.8 537.3,277.5 538.1,277.3 538.9,277.2 539.7,277.5 540.5,277.6 541.3,277.5 542.1,277.9 542.9,278.1 543.7,278.2 544.5,278 545.3,277.4 546.1,277.7 546.9,278 547.7,278 548.5,277.9 549.3,277.9 550.1,278.1 550.9,277.9 551.7,277.9 552.5,277.8 553.3,277.7 554.1,277.6 554.9,277.8 555.7,277.6 556.5,277.7 557.3,277.8 558.1,277.6 558.9,277.6 559.7,277.3 560.5,277.7 561.3,277.7 562.1,277 562.9,276.8 563.7,277 564.5,277.6 565.3,277.7 566.1,277.4 566.9,277.1 567.7,276.9 568.5,277.2 569.3,277.5 570.1,277.2 570.9,276.9 571.7,277.1 572.5,276.7 573.3,276.6 574.1,276.7 574.9,276.2 575.7,276.3 576.5,276.9 577.3,276.6 578.1,276.1 578.9,276.5 579.7,276.8 580.5,276.6 581.3,276.8 582.1,276.5 582.9,276.3 583.7,276.3 584.5,276.1 585.3,276 586.1,276 586.9,276.2 587.7,276.2 588.5,275.8 589.3,275.7 590.1,275.8 590.9,275.6 591.7,275.3 592.5,275.4 593.3,275.4 594.1,275.3 594.9,275.2 595.7,275.6 596.5,276 597.3,275.6 598.1,275.2 598.9,275.5 599.7,275.6 600.5,275 601.3,274.9 602.1,275 602.9,275.1 603.7,275 604.5,275 605.3,274.7 606.1,274.4 606.9,274.2 607.7,274.4 608.5,274.4 609.3,273.9 610.1,274.1 610.9,274.2 611.7,273.7 612.5,273.2 613.3,273 614.1,273 614.9,273.1 615.7,272.9 616.5,272.6 617.3,272.4 618.1,272.3 618.9,272.3 619.7,272.6 620.5,272 621.3,271.4 622.1,271.6 622.9,271.6 623.7,271.3 624.5,270.9 625.3,270.7 626.1,270.7 626.9,270.8 627.7,270.4 628.5,270.3 629.3,270.1 630.1,269.5 630.9,269.4 631.7,269.6 632.5,269.2 633.3,269.2 634.1,269.3 634.9,268.6 635.7,267.9 636.5,268.3 637.3,268.5 638.1,267.8 638.9,267 639.7,266.8 640.5,266.7 641.3,266.3 642.1,266.1 642.9,266 643.7,265.5 644.5,265.7 645.3,265.5 646.1,265.1 646.9,265.1 647.7,265 648.5,264.6 649.3,264.1 650.1,263.8 650.9,263.9 651.7,263.9 652.5,263 653.3,262.6 654.1,262.7 654.9,262.4 655.7,262.3 656.5,262.2 657.3,261.3 658.1,260.6 658.9,260 659.7,259.7 660.5,259.6 661.3,259.7 662.1,259.2 662.9,257.7 663.7,257.1 664.5,257.1 665.3,256.5 666.1,255.8 666.9,255.5 667.7,255.2 668.5,254.8 669.3,254 670.1,253.7 670.9,253.2 671.7,252.4 672.5,251.7 673.3,251.1 674.1,251 674.9,250.2 675.7,249.5 676.5,249.5 677.3,248.9 678.1,248.2 678.9,247.5 679.7,247.2 680.5,247.1 681.3,246.3 682.1,245.2 682.9,244.4 683.7,244.4 684.5,244.5 685.3,243.8 686.1,243.2 686.9,242.5 687.7,241.6 688.5,241.2 689.3,240.8 690.1,239.9 690.9,239.5 691.7,239.5 692.5,238.5 693.3,237.4 694.1,237.1 694.9,236.7 695.7,235.5 696.5,235.2 697.3,235.1 698.1,234.3 698.9,234.1 699.7,233.6 700.5,232.4 701.3,231.8 702.1,231.1 702.9,230.3 703.7,230 704.5,229.5 705.3,228.7 706.1,228.6 706.9,228.3 707.7,227.5 708.5,226.8 709.3,226.2 710.1,225.8 710.9,225.1 711.7,224.7 712.5,223.9 713.3,222.9 714.1,222.3 714.9,221.8 715.7,221.6 716.5,221.5 717.3,220.8 718.1,220 718.9,219.6 719.7,218.9 720.5,218.3 721.3,218 722.1,217.5 722.9,217 723.7,216.9 724.5,216.3 725.3,215.6 726.1,214.9 726.9,215.1 727.7,214.6 728.5,214 729.3,214 730.1,213.1 730.9,212.2 731.7,212 732.5,212.1 733.3,211.2 734.1,210.3 734.9,210.3 735.7,209.9 736.5,209.6 737.3,209 738.1,208.2 738.9,207.6 739.7,207.5 740.5,207.2 741.3,205.9 742.1,205.6 742.9,205.6 743.7,205.7 744.5,205.3 745.3,204.5 746.1,204.4 746.9,204.4 747.7,203.9 748.5,203.5 749.3,203.4 750.1,202.8 750.9,202.5 751.7,202.4 752.5,201.9 753.3,202 754.1,201.8 754.9,201.6 755.7,202 756.5,201.7 757.3,201.3 758.1,201.2 758.9,201.5 759.7,201.7 760.5,201.7 761.3,201.8 762.1,201.7 762.9,201.7 763.7,201.6 764.5,201.8 765.3,202.3 766.1,202.3 766.9,202.7 767.7,203.1 768.5,202.5 769.3,202.6 770.1,203.1 770.9,203.6 771.7,204.7 772.5,204.7 773.3,204.4 774.1,204.8 774.9,205.1 775.7,205.6 776.5,206.2 777.3,206.1 778.1,206.5 778.9,206.8 779.7,206.9 780.5,207.7 781.3,208.1 782.1,208 782.9,208 783.7,208.4 784.5,208.9 785.3,209.7 786.1,209.8 786.9,210.2 787.7,211 788.5,211.5 789.3,212 790.1,212.8 790.9,213.3 791.7,213.8 792.5,214.4 793.3,215.2 794.1,215.2 794.9,215.8 795.7,216.7 796.5,217.1 797.3,217.6 798.1,217.9 798.9,218.7 799.7,219.6 800.5,220.4 801.3,221 802.1,221.8 802.9,222.9 803.7,223.2 804.5,223.6 805.3,224.2 806.1,224.8 806.9,225.5 807.7,226.4 808.5,227.1 809.3,227.4 810.1,228 810.9,228.7" fill="none" stroke="#ee1c1c" stroke-width="2.5" stroke-linejoin="round" stroke-linecap="round"/>
<polyline points="433.3,276 434.1,276.5 434.9,276.6 435.7,276.2 436.5,275.7 437.3,275.5 438.1,275.6 438.9,276 439.7,276.3 440.5,276.2 441.3,276.2 442.1,276.3 442.9,276.8 443.7,276.6 444.5,276.3 445.3,276.3 446.1,276.6 446.9,276.6 447.7,276.2 448.5,276.2 449.3,276.2 450.1,276.6 450.9,277.5 451.7,277.2 452.5,276.9 453.3,277.2 454.1,276.8 454.9,276.7 455.7,276.9 456.5,276.9 457.3,277.4 458.1,277.2 458.9,276.9 459.7,277.4 460.5,277.2 461.3,277.2 462.1,277.5 462.9,277.5 463.7,277.5 464.5,277.6 465.3,277.1 466.1,277.3 466.9,278.2 467.7,278.1 468.5,277.9 469.3,277.4 470.1,277.2 470.9,277.3 471.7,277.2 472.5,277.6 473.3,277.6 474.1,277.4 474.9,277.1 475.7,277.2 476.5,277.6 477.3,277.5 478.1,277.3 478.9,277.9 479.7,277.8 480.5,277.2 481.3,277.3 482.1,277.8 482.9,278.4 483.7,278.2 484.5,277.6 485.3,277.5 486.1,277.9 486.9,277.8 487.7,277.9 488.5,278.4 489.3,278.1 490.1,277.9 490.9,278.1 491.7,278.3 492.5,277.9 493.3,277.9 494.1,278 494.9,277.6 495.7,277.7 496.5,277.8 497.3,277.6 498.1,277.3 498.9,277.4 499.7,278 500.5,278.6 501.3,278.5 502.1,278.3 502.9,278.1 503.7,277.8 504.5,278 505.3,277.8 506.1,277.5 506.9,277.8 507.7,277.9 508.5,277.7 509.3,277.8 510.1,278 510.9,278.1 511.7,278.2 512.5,277.9 513.3,278 514.1,278 514.9,277.8 515.7,277.8 516.5,278.1 517.3,278.3 518.1,278.4 518.9,277.9 519.7,277.6 520.5,277.8 521.3,277.9 522.1,277.9 522.9,277.8 523.7,278 524.5,278.1 525.3,277.7 526.1,277.9 526.9,278.3 527.7,277.8 528.5,277.7 529.3,277.7 530.1,277.7 530.9,277.7 531.7,277.2 532.5,277.1 533.3,277 534.1,277.1 534.9,277.2 535.7,277.1 536.5,276.8 537.3,276 538.1,276 538.9,276.3 539.7,276.2 540.5,276.7 541.3,276.6 542.1,276.2 542.9,276 543.7,276 544.5,275.8 545.3,275.5 546.1,275.4 546.9,275.6 547.7,275.7 548.5,275.5 549.3,275.3 550.1,275 550.9,274.9 551.7,274.9 552.5,275 553.3,274.8 554.1,274.4 554.9,274 555.7,274.4 556.5,274.4 557.3,273.9 558.1,274.1 558.9,274.3 559.7,274 560.5,273.5 561.3,273.8 562.1,273.8 562.9,273.4 563.7,273.1 564.5,272.6 565.3,272.2 566.1,272.5 566.9,272.8 567.7,272.5 568.5,272.1 569.3,271.7 570.1,271.8 570.9,271.6 571.7,271.8 572.5,272.2 573.3,272.5 574.1,272.3 574.9,271.5 575.7,271 576.5,270.3 577.3,270.2 578.1,270.8 578.9,271 579.7,271 580.5,270.8 581.3,270.6 582.1,270.5 582.9,270.6 583.7,270.1 584.5,269.5 585.3,269.3 586.1,269.6 586.9,270.1 587.7,269.7 588.5,269.1 589.3,268.8 590.1,268.9 590.9,268.7 591.7,268.5 592.5,268.5 593.3,268.3 594.1,268.2 594.9,268.2 595.7,267.8 596.5,267.5 597.3,267.3 598.1,267.4 598.9,267.2 599.7,267 600.5,266.8 601.3,266.2 602.1,266.3 602.9,266.2 603.7,266 604.5,266.2 605.3,265.5 606.1,265 606.9,265.1 607.7,264.9 608.5,264.6 609.3,264.8 610.1,264.8 610.9,264.5 611.7,264.3 612.5,264.1 613.3,263.9 614.1,263.6 614.9,263.7 615.7,263.5 616.5,263.1 617.3,262.7 618.1,262.6 618.9,262.7 619.7,262.4 620.5,262 621.3,261.9 622.1,262.4 622.9,262 623.7,261.3 624.5,261.3 625.3,260.4 626.1,260.1 626.9,260.3 627.7,260.3 628.5,260.2 629.3,259.5 630.1,259.3 630.9,259.2 631.7,258.9 632.5,258.6 633.3,258.2 634.1,257.9 634.9,258.1 635.7,258.3 636.5,258 637.3,257.4 638.1,257.2 638.9,257.1 639.7,256.9 640.5,256.6 641.3,255.9 642.1,255.4 642.9,255.2 643.7,254.9 644.5,254.6 645.3,254 646.1,253.2 646.9,252.9 647.7,252.6 648.5,252.4 649.3,252.5 650.1,251.8 650.9,251.6 651.7,251.7 652.5,251.2 653.3,251 654.1,250.9 654.9,249.9 655.7,249.2 656.5,249.1 657.3,248.4 658.1,248 658.9,247.2 659.7,246.3 660.5,245.7 661.3,245.1 662.1,244.6 662.9,243.8 663.7,243 664.5,242.7 665.3,242.2 666.1,241.5 666.9,240.4 667.7,239.4 668.5,239 669.3,238.4 670.1,237.7 670.9,237.1 671.7,236.5 672.5,235.5 673.3,234.7 674.1,234.1 674.9,233.2 675.7,232.5 676.5,231.9 677.3,230.9 678.1,230 678.9,229.3 679.7,228.7 680.5,228 681.3,227.1 682.1,226.3 682.9,225.4 683.7,224.7 684.5,223.9 685.3,222.4 686.1,221.9 686.9,221.6 687.7,220.3 688.5,219.4 689.3,218.7 690.1,218.3 690.9,217.7 691.7,216.1 692.5,215.2 693.3,214.5 694.1,213.9 694.9,212.9 695.7,211.1 696.5,210.4 697.3,209.8 698.1,208.8 698.9,207.4 699.7,206.7 700.5,206.5 701.3,205.1 702.1,204 702.9,203.3 703.7,202.6 704.5,201.9 705.3,200.4 706.1,199.6 706.9,198.8 707.7,197.5 708.5,196.6 709.3,195.7 710.1,194.2 710.9,193.9 711.7,193.3 712.5,191.8 713.3,191.1 714.1,190.1 714.9,188.9 715.7,188.3 716.5,187.7 717.3,187 718.1,186.6 718.9,185.7 719.7,184.9 720.5,184.4 721.3,183.4 722.1,182.6 722.9,182 723.7,181.5 724.5,181.1 725.3,180.2 726.1,179.1 726.9,178.5 727.7,177.9 728.5,177.4 729.3,176.9 730.1,175.9 730.9,175.5 731.7,175.2 732.5,174.2 733.3,173.7 734.1,173.2 734.9,172.3 735.7,171.8 736.5,171.2 737.3,170.6 738.1,170.2 738.9,170.1 739.7,170 740.5,169.2 741.3,168.8 742.1,168.4 742.9,167.8 743.7,167.7 744.5,167.4 745.3,167.4 746.1,167.1 746.9,166.1 747.7,166 748.5,165.9 749.3,165.3 750.1,164.5 750.9,164.5 751.7,165 752.5,164.7 753.3,164.5 754.1,164.5 754.9,164.1 755.7,163.8 756.5,163.4 757.3,163 758.1,163.3 758.9,163.3 759.7,162.7 760.5,162.6 761.3,162.8 762.1,162.6 762.9,162.7 763.7,162.9 764.5,162.5 765.3,162.5 766.1,163.4 766.9,163.5 767.7,163.3 768.5,164 769.3,164.3 770.1,164.2 770.9,164.3 771.7,164.9 772.5,165.5 773.3,165.6 774.1,165.6 774.9,166.3 775.7,167.2 776.5,167.4 777.3,167.4 778.1,167.9 778.9,168.4 779.7,168.9 780.5,169 781.3,169.3 782.1,169.9 782.9,170.1 783.7,170.6 784.5,171.3 785.3,171.7 786.1,172.3 786.9,172.6 787.7,173.1 788.5,174.1 789.3,174.8 790.1,175.6 790.9,176 791.7,176.2 792.5,177.2 793.3,178.4 794.1,179.6 794.9,180.4 795.7,180.5 796.5,181.4 797.3,182.2 798.1,182.5 798.9,184.1 799.7,185.3 800.5,185.8 801.3,186.7 802.1,187.7 802.9,188.5 803.7,189.2 804.5,189.8 805.3,190.1 806.1,191.4 806.9,192.8 807.7,193.4 808.5,194 809.3,194.7 810.1,195.3 810.9,196.3" fill="none" stroke="#ff8c1a" stroke-width="2.5" stroke-linejoin="round" stroke-linecap="round"/>
<polyline points="433.3,265.4 434.1,265.6 434.9,265.8 435.7,266.8 436.5,266.6 437.3,267.2 438.1,265.8 438.9,267.7 439.7,269.6 440.5,267.5 441.3,268.2 442.1,269.5 442.9,269.9 443.7,270 444.5,268.3 445.3,270.6 446.1,269.4 446.9,270 447.7,271.6 448.5,271.1 449.3,272.4 450.1,274.8 450.9,272.9 451.7,273.1 452.5,271.8 453.3,272.3 454.1,272.1 454.9,272.8 455.7,272.5 456.5,273.1 457.3,273.7 458.1,273.2 458.9,273.1 459.7,273.3 460.5,275.2 461.3,275 462.1,276.1 462.9,276.3 463.7,275.2 464.5,276.3 465.3,274.5 466.1,278 466.9,277.2 467.7,276.1 468.5,275.3 469.3,276.8 470.1,274.9 470.9,276 471.7,277.5 472.5,276.9 473.3,276.5 474.1,277.8 474.9,276.1 475.7,277.3 476.5,276.6 477.3,276.3 478.1,277.5 478.9,276.3 479.7,278.9 480.5,276.7 481.3,279 482.1,276.3 482.9,277.8 483.7,276.2 484.5,276.1 485.3,277.5 486.1,278 486.9,276.3 487.7,278.5 488.5,276.7 489.3,277.6 490.1,277.9 490.9,278.1 491.7,275.9 492.5,279 493.3,278.1 494.1,277.2 494.9,276.7 495.7,276.1 496.5,276.5 497.3,278.2 498.1,277.4 498.9,276.7 499.7,277.3 500.5,279.2 501.3,277.5 502.1,277.3 502.9,279 503.7,278.3 504.5,277.9 505.3,277.3 506.1,276.5 506.9,276.8 507.7,277.5 508.5,277.7 509.3,278.3 510.1,278.4 510.9,278.2 511.7,278.2 512.5,277.1 513.3,276.1 514.1,277.5 514.9,277.2 515.7,277.4 516.5,277.8 517.3,276.9 518.1,277.1 518.9,278 519.7,278.2 520.5,277.5 521.3,278.5 522.1,277.9 522.9,277.2 523.7,278.2 524.5,279.8 525.3,277.5 526.1,279.2 526.9,279.4 527.7,279.5 528.5,277.4 529.3,280 530.1,278.3 530.9,277.9 531.7,278 532.5,278.7 533.3,278.2 534.1,278 534.9,279.3 535.7,277.5 536.5,277.3 537.3,278.9 538.1,278.8 538.9,279.2 539.7,277.2 540.5,279.2 541.3,278.6 542.1,279.8 542.9,277.1 543.7,278.4 544.5,277.9 545.3,276.7 546.1,277.5 546.9,279.1 547.7,277.6 548.5,277.3 549.3,278.7 550.1,278.7 550.9,278.7 551.7,277 552.5,277.6 553.3,278.5 554.1,276.9 554.9,276.7 555.7,278 556.5,278.6 557.3,276 558.1,274.6 558.9,275.5 559.7,275.8 560.5,276.5 561.3,277 562.1,276.2 562.9,275.6 563.7,276.2 564.5,275.1 565.3,275.8 566.1,275.1 566.9,277.9 567.7,276.1 568.5,274.4 569.3,274.1 570.1,274.5 570.9,273.3 571.7,273.9 572.5,273.7 573.3,275 574.1,273.7 574.9,273.2 575.7,272.5 576.5,272.5 577.3,273.4 578.1,273.1 578.9,274.1 579.7,272.3 580.5,273.7 581.3,272.8 582.1,272.4 582.9,270.4 583.7,270.9 584.5,272.5 585.3,273 586.1,271.7 586.9,272.1 587.7,270.8 588.5,270.7 589.3,270.2 590.1,271.4 590.9,270.6 591.7,269.9 592.5,269.5 593.3,270.1 594.1,269.6 594.9,268.3 595.7,270.4 596.5,268.8 597.3,268.3 598.1,269.4 598.9,268.7 599.7,267.5 600.5,267.8 601.3,266.2 602.1,266.3 602.9,264.7 603.7,267.6 604.5,264.6 605.3,266.7 606.1,265.1 606.9,264.8 607.7,265.3 608.5,265.4 609.3,265.5 610.1,266.3 610.9,264.7 611.7,264.9 612.5,263.2 613.3,263.9 614.1,262.9 614.9,261.7 615.7,261.5 616.5,261.2 617.3,261.2 618.1,261.4 618.9,261 619.7,261.3 620.5,263.3 621.3,261.8 622.1,263.2 622.9,265.4 623.7,261.6 624.5,263.3 625.3,264.5 626.1,262.3 626.9,266 627.7,261.2 628.5,264.6 629.3,264.5 630.1,263.8 630.9,262.5 631.7,262.8 632.5,261.4 633.3,262.6 634.1,260.6 634.9,261 635.7,261.8 636.5,259.6 637.3,259.9 638.1,260 638.9,258.3 639.7,260.2 640.5,259 641.3,257 642.1,257.9 642.9,256.7 643.7,256.3 644.5,256.3 645.3,254.9 646.1,255.6 646.9,253.3 647.7,254 648.5,252.1 649.3,252 650.1,249.8 650.9,248.8 651.7,247.2 652.5,247.7 653.3,247 654.1,247 654.9,245.2 655.7,243.2 656.5,241.8 657.3,241.3 658.1,239.9 658.9,240.2 659.7,238.8 660.5,236.2 661.3,235.3 662.1,236.1 662.9,234.1 663.7,232.6 664.5,232.8 665.3,230.3 666.1,229.3 666.9,228.1 667.7,225.6 668.5,227 669.3,224 670.1,223.4 670.9,222.1 671.7,222.3 672.5,220.4 673.3,219.2 674.1,216.5 674.9,216.7 675.7,214.2 676.5,214.5 677.3,213.3 678.1,211.6 678.9,212.1 679.7,209.4 680.5,208 681.3,206.2 682.1,204.4 682.9,204 683.7,202.7 684.5,199 685.3,199.6 686.1,197.6 686.9,196.5 687.7,194.5 688.5,191.5 689.3,190 690.1,191.1 690.9,188.2 691.7,185.2 692.5,185.2 693.3,183.1 694.1,180.2 694.9,178.3 695.7,177.4 696.5,177.6 697.3,175.9 698.1,174.2 698.9,173.2 699.7,172 700.5,168.1 701.3,168.2 702.1,166.2 702.9,164.4 703.7,163.5 704.5,162.4 705.3,160.8 706.1,158.2 706.9,157.6 707.7,158.3 708.5,154.1 709.3,152 710.1,152.3 710.9,151.2 711.7,149.6 712.5,146.7 713.3,147.1 714.1,144.1 714.9,142.3 715.7,141.4 716.5,140.4 717.3,139.8 718.1,138.3 718.9,136.3 719.7,135.8 720.5,133.6 721.3,133 722.1,129.5 722.9,128 723.7,128.7 724.5,125.4 725.3,125 726.1,123.8 726.9,122.1 727.7,120.8 728.5,121.1 729.3,116.2 730.1,118 730.9,117.9 731.7,114.6 732.5,113.2 733.3,112.6 734.1,112.3 734.9,108.4 735.7,108.3 736.5,106.8 737.3,106.2 738.1,104.6 738.9,103.9 739.7,101.7 740.5,100.8 741.3,99 742.1,97.7 742.9,96.9 743.7,95.7 744.5,93.5 745.3,94.8 746.1,92.1 746.9,89.8 747.7,90.8 748.5,88 749.3,88.1 750.1,86.5 750.9,85.7 751.7,84.7 752.5,83 753.3,82.7 754.1,83.6 754.9,79 755.7,80.3 756.5,79.9 757.3,77.7 758.1,76.7 758.9,79.1 759.7,76 760.5,77.4 761.3,75.3 762.1,74.1 762.9,73.7 763.7,73.2 764.5,73 765.3,71.6 766.1,70.7 766.9,70.1 767.7,70.6 768.5,69.6 769.3,67.4 770.1,67.3 770.9,67.8 771.7,66.5 772.5,66.5 773.3,65.7 774.1,66.1 774.9,66.6 775.7,67.1 776.5,66.2 777.3,68.2 778.1,66.4 778.9,69.6 779.7,68 780.5,67.9 781.3,67.4 782.1,65.8 782.9,68.7 783.7,69.6 784.5,71.8 785.3,69.4 786.1,73 786.9,71.8 787.7,73.3 788.5,71.1 789.3,74.2 790.1,74.4 790.9,76 791.7,76.2 792.5,75.7 793.3,78.2 794.1,78.6 794.9,79.2 795.7,80.2 796.5,81 797.3,80.8 798.1,80.3 798.9,81 799.7,84.3 800.5,84.5 801.3,84.7 802.1,85.1 802.9,86.3 803.7,87.1 804.5,87.6 805.3,88.1 806.1,91.5 806.9,90.6 807.7,90.7 808.5,90.9 809.3,92.2 810.1,94.3 810.9,95.1" fill="none" stroke="#9e0e0e" stroke-width="2.8" stroke-linejoin="round" stroke-linecap="round"/>
<line x1="448.5" y1="193.5" x2="606.7" y2="193.5" stroke="#444" stroke-width="1.5"/>
<line x1="606" y1="36" x2="606" y2="194.2" stroke="#444" stroke-width="1.5"/>
<line x1="449" y1="193.5" x2="449" y2="198" stroke="#444" stroke-width="1.3"/>
<line x1="480.4" y1="193.5" x2="480.4" y2="196.5" stroke="#444" stroke-width="1.3"/>
<line x1="511.8" y1="193.5" x2="511.8" y2="198" stroke="#444" stroke-width="1.3"/>
<line x1="543.2" y1="193.5" x2="543.2" y2="196.5" stroke="#444" stroke-width="1.3"/>
<line x1="574.6" y1="193.5" x2="574.6" y2="198" stroke="#444" stroke-width="1.3"/>
<line x1="606" y1="193.5" x2="606" y2="196.5" stroke="#444" stroke-width="1.3"/>
<text x="449" y="211" font-size="10.5" text-anchor="middle" font-weight="bold" fill="#222" font-family='"Liberation Sans", sans-serif' textLength="24.5" lengthAdjust="spacingAndGlyphs">1100</text>
<text x="511.8" y="211" font-size="10.5" text-anchor="middle" font-weight="bold" fill="#222" font-family='"Liberation Sans", sans-serif' textLength="24.5" lengthAdjust="spacingAndGlyphs">1300</text>
<text x="574.6" y="211" font-size="10.5" text-anchor="middle" font-weight="bold" fill="#222" font-family='"Liberation Sans", sans-serif' textLength="24.5" lengthAdjust="spacingAndGlyphs">1500</text>
<text x="620" y="185.2" font-size="13" text-anchor="start" font-weight="normal" fill="#222" font-family='"Liberation Sans", sans-serif' textLength="148" lengthAdjust="spacingAndGlyphs" transform="rotate(-90 620 185.2)">PL intensity norm. (a.u.)</text>
<polyline points="450,185.5 450.7,185.4 451.4,185.3 452.1,184.9 452.8,185.3 453.5,185.7 454.2,186 454.9,185.6 455.6,184.8 456.3,185.2 457,185.1 457.7,184.4 458.4,184.2 459.1,184.5 459.8,184.9 460.5,184.8 461.2,184.9 461.9,185.1 462.6,184.9 463.3,184.6 464,184.4 464.7,184.4 465.4,184.7 466.1,184.5 466.8,184.3 467.5,184.2 468.2,183.6 468.9,183.3 469.6,183.9 470.3,184.2 471,184.4 471.7,184.2 472.4,183.9 473.1,184.2 473.8,184.2 474.5,183.6 475.2,183.1 475.9,183.3 476.6,183 477.3,183 478,183.5 478.7,183.1 479.4,183.2 480.1,183.2 480.8,182.4 481.5,182.3 482.2,182 482.9,182.1 483.6,182.1 484.3,182.3 485,182.3 485.7,181.8 486.4,181.4 487.1,180.6 487.8,180.5 488.5,180.5 489.2,180.5 489.9,180.6 490.6,180.6 491.3,180.6 492,180.1 492.7,179.8 493.4,179.4 494.1,179.3 494.8,179.3 495.5,178.7 496.2,178.4 496.9,179.2 497.6,178.8 498.3,177.8 499,177.4 499.7,176.9 500.4,177.3 501.1,177.5 501.8,177.1 502.5,177.5 503.2,177.9 503.9,177 504.6,176.5 505.3,176.7 506,176.4 506.7,176.2 507.4,175.9 508.1,176.1 508.8,176.2 509.5,175.8 510.2,176 510.9,176.2 511.6,176.1 512.3,176 513,176.6 513.7,176.8 514.4,176.5 515.1,176.2 515.8,176.2 516.5,176.2 517.2,176.3 517.9,176.4 518.6,175.5 519.3,175 520,175.2 520.7,174.6 521.4,173.4 522.1,172.9 522.8,172 523.5,170.4 524.2,169.3 524.9,168.6 525.6,168.2 526.3,167.4 527,166.2 527.7,164.4 528.4,163.1 529.1,162.2 529.8,161.3 530.5,160 531.2,158.9 531.9,158.3 532.6,157 533.3,155.6 534,154 534.7,152 535.4,150.6 536.1,149.9 536.8,148.9 537.5,146.9 538.2,145.4 538.9,143.9 539.6,142.5 540.3,141.2 541,139.1 541.7,137.7 542.4,136.2 543.1,134.2 543.8,132.5 544.5,131.3 545.2,130.2 545.9,128.6 546.6,126.9 547.3,125.8 548,124.2 548.7,122.1 549.4,121 550.1,120 550.8,118.2 551.5,115.7 552.2,113.9 552.9,113 553.6,111.6 554.3,110.3 555,108.4 555.7,106.6 556.4,105.2 557.1,103.8 557.8,102.3 558.5,100.6 559.2,98.8 559.9,96.5 560.6,94.8 561.3,93.4 562,91.8 562.7,90.8 563.4,89.9 564.1,88.1 564.8,85.9 565.5,84.4 566.2,83.1 566.9,82.2 567.6,81.1 568.3,79.6 569,78 569.7,76 570.4,74.6 571.1,73.6 571.8,72.6 572.5,71.7 573.2,70.1 573.9,68.7 574.6,68.3 575.3,67 576,65.2 576.7,64.4 577.4,63.5 578.1,62.5 578.8,62 579.5,61.9 580.2,60.6 580.9,59.5 581.6,59.4 582.3,58.7 583,58 583.7,57.4 584.4,57.1 585.1,56.6 585.8,55.8 586.5,55.4 587.2,55.1 587.9,54.7 588.6,54.7 589.3,54.6 590,54.3 590.7,54.2 591.4,54 592.1,53.9 592.8,54.2 593.5,54.7 594.2,55.2 594.9,55.3 595.6,56 596.3,56.9 597,56.9 597.7,57.7 598.4,58.8 599.1,59.2 599.8,60.5 600.5,61.8 601.2,62.7 601.9,64.8 602.6,66.2 603.3,67.1 604,69.2 604.7,70.4 605.4,71.5" fill="none" stroke="#9e0e0e" stroke-width="2.2" stroke-linejoin="round" stroke-linecap="round"/>
<polyline points="450,189.6 450.7,190.2 451.4,189.7 452.1,188.9 452.8,189.3 453.5,189.2 454.2,188.6 454.9,188.5 455.6,188.8 456.3,188.7 457,188.9 457.7,189 458.4,188.7 459.1,188.4 459.8,187.8 460.5,187.6 461.2,187.9 461.9,187.7 462.6,187.6 463.3,187.3 464,187.6 464.7,188.4 465.4,187.7 466.1,187.1 466.8,187.1 467.5,187.2 468.2,187.3 468.9,186.8 469.6,186.5 470.3,186.4 471,186.1 471.7,186.1 472.4,186.1 473.1,185.9 473.8,186 474.5,186.1 475.2,185.9 475.9,185.7 476.6,185.3 477.3,185.1 478,185.2 478.7,184.9 479.4,184.8 480.1,184.9 480.8,184.1 481.5,183.8 482.2,183.8 482.9,183.9 483.6,183.6 484.3,182.8 485,182.7 485.7,183.2 486.4,183.2 487.1,182.6 487.8,182.6 488.5,181.8 489.2,181.7 489.9,182.2 490.6,182.1 491.3,181.9 492,181.7 492.7,181.2 493.4,181 494.1,180.9 494.8,181.3 495.5,181.1 496.2,180.4 496.9,179.9 497.6,179.4 498.3,179.8 499,179.5 499.7,178.6 500.4,178.6 501.1,178.5 501.8,178.9 502.5,178.1 503.2,177.4 503.9,178 504.6,177.4 505.3,176.8 506,177 506.7,177.4 507.4,176.8 508.1,175.7 508.8,176 509.5,176.6 510.2,176 510.9,174.7 511.6,174.9 512.3,175.2 513,174.8 513.7,174.5 514.4,173.7 515.1,173.3 515.8,173.4 516.5,173.5 517.2,172 517.9,170.9 518.6,171.4 519.3,170.9 520,169.4 520.7,168.7 521.4,168.3 522.1,167.4 522.8,166.5 523.5,165.5 524.2,164.6 524.9,163.8 525.6,162.7 526.3,161.5 527,160.6 527.7,160 528.4,159.1 529.1,157.6 529.8,156.6 530.5,155.5 531.2,154.4 531.9,153.1 532.6,151.8 533.3,150.6 534,148.6 534.7,146.5 535.4,145.2 536.1,143.8 536.8,141.9 537.5,139.7 538.2,137.5 538.9,136.3 539.6,135.4 540.3,133.8 541,131.6 541.7,130 542.4,128.6 543.1,126.8 543.8,125.4 544.5,123.4 545.2,121.4 545.9,119.4 546.6,117.6 547.3,115.9 548,114.6 548.7,113.4 549.4,111.8 550.1,110.2 550.8,108 551.5,106.3 552.2,104.7 552.9,103.1 553.6,101.6 554.3,99.5 555,97.8 555.7,96.5 556.4,94.7 557.1,93.3 557.8,92.2 558.5,90.1 559.2,87.8 559.9,85.6 560.6,84 561.3,82.9 562,80.7 562.7,79.3 563.4,78.5 564.1,76.8 564.8,75.1 565.5,73.7 566.2,72.7 566.9,71.4 567.6,70 568.3,69.9 569,68.8 569.7,67.3 570.4,66.1 571.1,64.5 571.8,63.4 572.5,62.8 573.2,61.4 573.9,60.3 574.6,60 575.3,59.2 576,57.5 576.7,56.1 577.4,55.3 578.1,55.1 578.8,55.1 579.5,54.5 580.2,53.6 580.9,52.7 581.6,52.7 582.3,53 583,52.7 583.7,52.8 584.4,53.3 585.1,53.5 585.8,53.2 586.5,52.8 587.2,53.4 587.9,54.4 588.6,54.8 589.3,55.1 590,55.4 590.7,56.3 591.4,57 592.1,57.4 592.8,57.8 593.5,58.2 594.2,59.2 594.9,59.8 595.6,60.1 596.3,61.2 597,63.1 597.7,64.7 598.4,66.5 599.1,68.3 599.8,69.8 600.5,71.7 601.2,73.8 601.9,76.9 602.6,79.5 603.3,81.6 604,84 604.7,85.9 605.4,87.7" fill="none" stroke="#ee1c1c" stroke-width="2" stroke-linejoin="round" stroke-linecap="round"/>
<polyline points="450,189.6 450.7,189.6 451.4,189.5 452.1,189.3 452.8,189.1 453.5,188.6 454.2,188.3 454.9,188.1 455.6,188.3 456.3,187.8 457,187.3 457.7,188.4 458.4,188.2 459.1,187.1 459.8,187 460.5,187.5 461.2,187.3 461.9,187 462.6,186.9 463.3,186.5 464,187.2 464.7,187.2 465.4,186 466.1,185.6 466.8,185.7 467.5,185.8 468.2,185.8 468.9,185.5 469.6,184.8 470.3,184.7 471,184.9 471.7,184.5 472.4,184 473.1,183.7 473.8,183.8 474.5,183.7 475.2,183.3 475.9,183.2 476.6,183.5 477.3,183 478,182.6 478.7,182.4 479.4,182.7 480.1,182 480.8,181.5 481.5,181.6 482.2,181.4 482.9,181.9 483.6,181.7 484.3,181.3 485,181 485.7,181.4 486.4,181.7 487.1,181.3 487.8,180.4 488.5,179.6 489.2,180.1 489.9,180.2 490.6,179.6 491.3,179.6 492,179.1 492.7,179 493.4,179.2 494.1,178.9 494.8,178.4 495.5,178.2 496.2,178 496.9,177.9 497.6,178.2 498.3,177.9 499,177.5 499.7,177.2 500.4,176 501.1,175.8 501.8,176.2 502.5,175.7 503.2,175.5 503.9,174.7 504.6,174.4 505.3,174.6 506,174.9 506.7,174.2 507.4,173.2 508.1,173.4 508.8,173 509.5,172.8 510.2,172.7 510.9,171.4 511.6,171.2 512.3,171.5 513,170.4 513.7,169.8 514.4,169.6 515.1,169.1 515.8,168.5 516.5,167 517.2,166.7 517.9,166.7 518.6,166.4 519.3,165.8 520,164.6 520.7,163.1 521.4,161.8 522.1,160.8 522.8,159.7 523.5,158.7 524.2,157.1 524.9,156.2 525.6,155.7 526.3,155.3 527,154.4 527.7,152.4 528.4,151.1 529.1,149.8 529.8,148.3 530.5,146.9 531.2,146.2 531.9,145.7 532.6,143.6 533.3,142.1 534,141.4 534.7,140.1 535.4,138.6 536.1,136.8 536.8,135 537.5,133.8 538.2,132.8 538.9,131 539.6,129 540.3,128 541,126.5 541.7,125 542.4,123.8 543.1,122.2 543.8,121 544.5,119.2 545.2,117.3 545.9,115.1 546.6,113 547.3,111.6 548,110.5 548.7,109 549.4,107.4 550.1,105.4 550.8,103 551.5,101.5 552.2,99.8 552.9,97.8 553.6,95.9 554.3,94.6 555,93 555.7,91.3 556.4,89.7 557.1,88.3 557.8,86.9 558.5,85.3 559.2,83.6 559.9,81.7 560.6,81 561.3,79.4 562,77.7 562.7,76.4 563.4,74.3 564.1,73.2 564.8,72.7 565.5,71.1 566.2,69.9 566.9,68.9 567.6,67.4 568.3,66.5 569,65.5 569.7,65 570.4,63.6 571.1,62.1 571.8,61.7 572.5,59.8 573.2,58 573.9,57.7 574.6,57.1 575.3,56.1 576,55.8 576.7,54.9 577.4,53.7 578.1,52.5 578.8,52.5 579.5,52.8 580.2,52.7 580.9,53.1 581.6,52.7 582.3,53.4 583,54.4 583.7,54.5 584.4,54.3 585.1,54.4 585.8,55.1 586.5,55.7 587.2,56.2 587.9,57.1 588.6,58.3 589.3,59 590,59.6 590.7,60.7 591.4,61.7 592.1,61.4 592.8,62 593.5,63.7 594.2,65.3 594.9,66.6 595.6,67.7 596.3,69.2 597,71.2 597.7,73.2 598.4,74.8 599.1,76.7 599.8,79.1 600.5,81.3 601.2,82.8 601.9,85.3 602.6,87.7 603.3,89.7 604,92.1 604.7,94.3 605.4,96.4" fill="none" stroke="#ff8c1a" stroke-width="2" stroke-linejoin="round" stroke-linecap="round"/>
<polyline points="450,189.2 450.7,188.9 451.4,188.4 452.1,188.6 452.8,188.8 453.5,188.4 454.2,187.9 454.9,186.6 455.6,186.8 456.3,187.2 457,186.5 457.7,186.2 458.4,186.1 459.1,185.9 459.8,185 460.5,184.9 461.2,184.9 461.9,184.2 462.6,184.5 463.3,184.6 464,183.8 464.7,182.7 465.4,182.5 466.1,182.9 466.8,182.6 467.5,181.7 468.2,181.2 468.9,180.9 469.6,180.9 470.3,181.1 471,181 471.7,180.3 472.4,179.7 473.1,179.7 473.8,179.1 474.5,178.5 475.2,178.9 475.9,178.6 476.6,177.9 477.3,177.3 478,176.6 478.7,175.8 479.4,175.3 480.1,175.7 480.8,175.7 481.5,175.2 482.2,174.2 482.9,173.3 483.6,172.3 484.3,171.7 485,171.3 485.7,170.5 486.4,169.9 487.1,169.2 487.8,167.7 488.5,167 489.2,166.3 489.9,165.5 490.6,165.5 491.3,165.1 492,164.1 492.7,163.7 493.4,163.3 494.1,162.1 494.8,161.3 495.5,160.8 496.2,159.7 496.9,159 497.6,157.9 498.3,156.8 499,156.5 499.7,156.2 500.4,155.4 501.1,154.5 501.8,154.2 502.5,154 503.2,153.4 503.9,152.7 504.6,151.8 505.3,150.8 506,150.4 506.7,149.9 507.4,149.2 508.1,149.2 508.8,148.8 509.5,147.6 510.2,147.2 510.9,147.5 511.6,146.9 512.3,146.2 513,145.5 513.7,144.4 514.4,143.7 515.1,143.2 515.8,143.3 516.5,142.3 517.2,141.5 517.9,140.8 518.6,139.5 519.3,139.1 520,138.5 520.7,137.5 521.4,135.9 522.1,135 522.8,134.2 523.5,133.8 524.2,133 524.9,131.3 525.6,129.9 526.3,128.6 527,127.5 527.7,126.7 528.4,125.9 529.1,124.6 529.8,123.2 530.5,121.6 531.2,120.8 531.9,119.2 532.6,116.9 533.3,115.8 534,114.4 534.7,112.6 535.4,111.5 536.1,109.8 536.8,108.1 537.5,106.5 538.2,105 538.9,104 539.6,101.8 540.3,99.8 541,98.1 541.7,96.8 542.4,95.8 543.1,93.9 543.8,92.3 544.5,90.8 545.2,88.8 545.9,87.2 546.6,86.5 547.3,85.5 548,83.5 548.7,81.8 549.4,80.6 550.1,78.8 550.8,77.1 551.5,77 552.2,75.5 552.9,73.7 553.6,72.8 554.3,71.4 555,70.1 555.7,69.6 556.4,68.6 557.1,67.4 557.8,66.3 558.5,65.3 559.2,64.5 559.9,63.9 560.6,63.3 561.3,61.9 562,60.2 562.7,59.7 563.4,59.9 564.1,58.7 564.8,57.3 565.5,56.5 566.2,56.7 566.9,56 567.6,54.9 568.3,54.5 569,54.3 569.7,53.6 570.4,52.6 571.1,51.9 571.8,51.9 572.5,51.9 573.2,51.1 573.9,50.2 574.6,49.8 575.3,50.3 576,50.5 576.7,50.7 577.4,51.3 578.1,51.5 578.8,52 579.5,52.6 580.2,52.8 580.9,53.2 581.6,54.7 582.3,55.2 583,55.1 583.7,56.5 584.4,57.3 585.1,57.5 585.8,58 586.5,59.2 587.2,60.9 587.9,62.2 588.6,63.1 589.3,64.3 590,65.3 590.7,66.4 591.4,67.9 592.1,69.3 592.8,71.1 593.5,72.7 594.2,73.6 594.9,74.9 595.6,76.3 596.3,76.9 597,78.2 597.7,79.2 598.4,80.5 599.1,82.2 599.8,83.3 600.5,84.6 601.2,85.7 601.9,86.8 602.6,87.6 603.3,88.9 604,90.2 604.7,91.3 605.4,92.7" fill="none" stroke="#22dd22" stroke-width="3.6" stroke-linejoin="round" stroke-linecap="round"/>
<polyline points="450,188.1 450.7,187.4 451.4,186.7 452.1,186.9 452.8,187.2 453.5,187.2 454.2,187.1 454.9,187.2 455.6,186.8 456.3,186.2 457,185.6 457.7,185.1 458.4,185.1 459.1,185.2 459.8,185.2 460.5,184.9 461.2,184.5 461.9,184.4 462.6,184.3 463.3,183.9 464,183.7 464.7,183.2 465.4,182.5 466.1,182.5 466.8,182.6 467.5,182 468.2,181.5 468.9,181.8 469.6,181.3 470.3,180.2 471,180.1 471.7,179.4 472.4,179 473.1,179.4 473.8,179.2 474.5,178.4 475.2,177.8 475.9,177.2 476.6,176.8 477.3,176.2 478,175.3 478.7,174.8 479.4,174.6 480.1,174.1 480.8,173.4 481.5,172.1 482.2,171.6 482.9,172.2 483.6,171.5 484.3,170 485,168.7 485.7,168.1 486.4,167.3 487.1,166.7 487.8,166.1 488.5,165.4 489.2,165.1 489.9,163.5 490.6,162.4 491.3,162.1 492,160.8 492.7,160 493.4,159.5 494.1,159.1 494.8,157.9 495.5,157 496.2,157.2 496.9,156.2 497.6,154.9 498.3,153.8 499,152.4 499.7,151.7 500.4,151.3 501.1,150.5 501.8,150.3 502.5,149.5 503.2,148.1 503.9,147.5 504.6,146.3 505.3,144.8 506,144.4 506.7,143.9 507.4,143.5 508.1,142.9 508.8,142.6 509.5,142.4 510.2,141.5 510.9,140.3 511.6,139.6 512.3,139.3 513,138.1 513.7,137.3 514.4,137.1 515.1,136.3 515.8,135.8 516.5,135.3 517.2,133.8 517.9,132.6 518.6,131.8 519.3,131 520,130.1 520.7,129.3 521.4,128.7 522.1,127.8 522.8,126.7 523.5,125 524.2,124.6 524.9,123.9 525.6,122.7 526.3,121.8 527,120.6 527.7,119.8 528.4,118.6 529.1,117.4 529.8,115.7 530.5,114.3 531.2,113.4 531.9,111.9 532.6,110.6 533.3,109.4 534,108.5 534.7,106.5 535.4,104.6 536.1,103.4 536.8,102.2 537.5,100.8 538.2,99 538.9,97.5 539.6,95.9 540.3,94.6 541,92.4 541.7,90.3 542.4,88 543.1,86 543.8,84.7 544.5,82.5 545.2,80.6 545.9,78.3 546.6,75.7 547.3,74.3 548,73.1 548.7,71.9 549.4,70.4 550.1,68.8 550.8,67.5 551.5,66 552.2,64.1 552.9,62.6 553.6,62.4 554.3,61.1 555,59.5 555.7,59.7 556.4,59 557.1,57.5 557.8,56.5 558.5,56.2 559.2,55.8 559.9,54.6 560.6,53.8 561.3,53.5 562,53.1 562.7,53 563.4,52.3 564.1,51.3 564.8,51.4 565.5,52.3 566.2,52.5 566.9,52.3 567.6,53.1 568.3,53 569,53 569.7,53.6 570.4,53.8 571.1,54.6 571.8,55.6 572.5,55.9 573.2,55.9 573.9,56.4 574.6,57.4 575.3,58.4 576,59 576.7,59.6 577.4,60 578.1,61.3 578.8,62.1 579.5,62.7 580.2,63.8 580.9,64.4 581.6,64.7 582.3,66.1 583,67.6 583.7,68.6 584.4,69.1 585.1,69.5 585.8,70.5 586.5,71.9 587.2,74 587.9,75.6 588.6,76.4 589.3,77.5 590,78.9 590.7,80 591.4,81 592.1,82.3 592.8,82.8 593.5,83.8 594.2,85.9 594.9,87.1 595.6,87.9 596.3,89.1 597,90.2 597.7,92 598.4,93.3 599.1,94 599.8,94.4 600.5,95.8 601.2,97.5 601.9,98.4 602.6,100.5 603.3,102.4 604,103 604.7,104.3 605.4,106.2" fill="none" stroke="#ff22ee" stroke-width="3.2" stroke-linejoin="round" stroke-linecap="round"/>
<rect x="631" y="34.3" width="87" height="101.2" fill="#fff" stroke="#bbb" stroke-width="1"/>
<line x1="640.4" y1="48.3" x2="659.3" y2="48.3" stroke="#ff22ee" stroke-width="3.4"/>
<text x="663.9" y="53.8" font-size="15" text-anchor="start" font-weight="bold" fill="#1a1a1a" font-family='"Liberation Sans", sans-serif' textLength="48.5" lengthAdjust="spacingAndGlyphs">30 min</text>
<line x1="640.4" y1="67.9" x2="659.3" y2="67.9" stroke="#22dd22" stroke-width="3.4"/>
<text x="663.9" y="73.4" font-size="15" text-anchor="start" font-weight="bold" fill="#1a1a1a" font-family='"Liberation Sans", sans-serif' textLength="22" lengthAdjust="spacingAndGlyphs">1 h</text>
<line x1="640.4" y1="87.5" x2="659.3" y2="87.5" stroke="#ff8c1a" stroke-width="3.4"/>
<text x="663.9" y="93" font-size="15" text-anchor="start" font-weight="bold" fill="#1a1a1a" font-family='"Liberation Sans", sans-serif' textLength="22" lengthAdjust="spacingAndGlyphs">3 h</text>
<line x1="640.4" y1="107.1" x2="659.3" y2="107.1" stroke="#ee1c1c" stroke-width="3.4"/>
<text x="663.9" y="112.6" font-size="15" text-anchor="start" font-weight="bold" fill="#1a1a1a" font-family='"Liberation Sans", sans-serif' textLength="22" lengthAdjust="spacingAndGlyphs">5 h</text>
<line x1="640.4" y1="126.7" x2="659.3" y2="126.7" stroke="#9e0e0e" stroke-width="3.4"/>
<text x="663.9" y="132.2" font-size="15" text-anchor="start" font-weight="bold" fill="#1a1a1a" font-family='"Liberation Sans", sans-serif' textLength="22" lengthAdjust="spacingAndGlyphs">7 h</text>
<text x="824" y="27.5" font-size="31" text-anchor="start" font-weight="bold" fill="#111" font-family='"Liberation Serif", serif'>(c)</text>
<rect x="913.4" y="34.4" width="263.1" height="257.8" fill="none" stroke="#1a1a1a" stroke-width="2"/>
<line x1="913.4" y1="292.2" x2="913.4" y2="296.7" stroke="#1a1a1a" stroke-width="1.8"/>
<line x1="966" y1="292.2" x2="966" y2="300.2" stroke="#1a1a1a" stroke-width="1.8"/>
<line x1="1018.6" y1="292.2" x2="1018.6" y2="296.7" stroke="#1a1a1a" stroke-width="1.8"/>
<line x1="1071.3" y1="292.2" x2="1071.3" y2="300.2" stroke="#1a1a1a" stroke-width="1.8"/>
<line x1="1123.9" y1="292.2" x2="1123.9" y2="296.7" stroke="#1a1a1a" stroke-width="1.8"/>
<line x1="1176.5" y1="292.2" x2="1176.5" y2="300.2" stroke="#1a1a1a" stroke-width="1.8"/>
<text x="966" y="322.2" font-size="20.5" text-anchor="middle" font-weight="normal" fill="#111" font-family='"Liberation Sans", sans-serif' textLength="45" lengthAdjust="spacingAndGlyphs">1200</text>
<text x="1071.3" y="322.2" font-size="20.5" text-anchor="middle" font-weight="normal" fill="#111" font-family='"Liberation Sans", sans-serif' textLength="45" lengthAdjust="spacingAndGlyphs">1400</text>
<text x="1176.5" y="322.2" font-size="20.5" text-anchor="middle" font-weight="normal" fill="#111" font-family='"Liberation Sans", sans-serif' textLength="45" lengthAdjust="spacingAndGlyphs">1600</text>
<text x="901.5" y="289" font-size="23" text-anchor="start" font-weight="normal" fill="#111" font-family='"Liberation Sans", sans-serif' textLength="256" lengthAdjust="spacingAndGlyphs" transform="rotate(-90 901.5 289)">PL intensity norm. (a.u.)</text>
<text x="916.7" y="53.8" font-size="16.5" text-anchor="start" font-weight="bold" fill="#111" font-family='"Liberation Sans", sans-serif' textLength="103" lengthAdjust="spacingAndGlyphs">PL max (nm):</text>
<text x="916.7" y="77.5" font-size="16.5" text-anchor="start" font-weight="bold" fill="#111" font-family='"Liberation Sans", sans-serif' textLength="79" lengthAdjust="spacingAndGlyphs">PLQY (%):</text>
<text x="1025.3" y="54" font-size="18.5" text-anchor="start" font-weight="bold" fill="#18e030" font-family='"Liberation Sans", sans-serif' textLength="38.7" lengthAdjust="spacingAndGlyphs">1332</text>
<text x="1073" y="54" font-size="18.5" text-anchor="start" font-weight="bold" fill="#1010dd" font-family='"Liberation Sans", sans-serif' textLength="37" lengthAdjust="spacingAndGlyphs">1451</text>
<text x="1132.3" y="54" font-size="18.5" text-anchor="start" font-weight="bold" fill="#147878" font-family='"Liberation Sans", sans-serif' textLength="39.7" lengthAdjust="spacingAndGlyphs">1545</text>
<text x="1025.3" y="78.5" font-size="18.5" text-anchor="start" font-weight="bold" fill="#18e030" font-family='"Liberation Sans", sans-serif' textLength="35" lengthAdjust="spacingAndGlyphs">15.3</text>
<text x="1075.7" y="78.5" font-size="18.5" text-anchor="start" font-weight="bold" fill="#1010dd" font-family='"Liberation Sans", sans-serif' textLength="33" lengthAdjust="spacingAndGlyphs">14.1</text>
<text x="1117" y="78.5" font-size="18.5" text-anchor="start" font-weight="bold" fill="#f01818" font-family='"Liberation Sans", sans-serif' textLength="22.5" lengthAdjust="spacingAndGlyphs">5.1</text>
<text x="1147.6" y="78.5" font-size="18.5" text-anchor="start" font-weight="bold" fill="#147878" font-family='"Liberation Sans", sans-serif' textLength="23.5" lengthAdjust="spacingAndGlyphs">7.0</text>
<g clip-path="url(#clipc)">
<polyline points="945,292.7 945.6,293.7 946.2,291.9 946.8,292.1 947.4,291.8 948,291.9 948.6,293.3 949.2,291.5 949.8,291.5 950.4,291.5 951,292.2 951.6,291.7 952.2,292.5 952.8,291.1 953.4,290.5 954,291 954.6,291.2 955.2,290.3 955.8,291.1 956.4,292 957,290.1 957.6,290.4 958.2,291.2 958.8,289.5 959.4,289.1 960,288.7 960.6,289.7 961.2,289.5 961.8,288.8 962.4,288.7 963,289.3 963.6,288.7 964.2,286.7 964.8,287.4 965.4,287.1 966,287.2 966.6,286.1 967.2,285.4 967.8,285.2 968.4,283.8 969,284.6 969.6,283.8 970.2,284.1 970.8,282.5 971.4,282.5 972,281.5 972.6,280.9 973.2,281.9 973.8,280.4 974.4,280.7 975,278.7 975.6,279.3 976.2,277 976.8,277.6 977.4,277.1 978,277.6 978.6,276.6 979.2,275.7 979.8,276.3 980.4,275 981,274.8 981.6,274.5 982.2,273 982.8,272.1 983.4,272.3 984,270.8 984.6,271.3 985.2,271.6 985.8,270.8 986.4,268.5 987,266.7 987.6,267.9 988.2,267.2 988.8,268.5 989.4,265.8 990,265.5 990.6,266.4 991.2,264 991.8,264 992.4,266.5 993,265.6 993.6,263.8 994.2,262.7 994.8,260.2 995.4,262.3 996,260.9 996.6,260.7 997.2,259 997.8,259.4 998.4,258.6 999,259.1 999.6,260.7 1000.2,258.2 1000.8,253.9 1001.4,254.7 1002,253 1002.6,254.1 1003.2,256.3 1003.8,255.5 1004.4,252.9 1005,254.2 1005.6,251.6 1006.2,249.7 1006.8,249.2 1007.4,249.8 1008,254.2 1008.6,247.6 1009.2,252.8 1009.8,252.4 1010.4,248.5 1011,248.2 1011.6,246.3 1012.2,247.1 1012.8,248.1 1013.4,245.9 1014,247.7 1014.6,247.5 1015.2,244.8 1015.8,244.1 1016.4,242.5 1017,242.8 1017.6,238.4 1018.2,241.5 1018.8,240.2 1019.4,239.4 1020,243.6 1020.6,234.5 1021.2,233.9 1021.8,236 1022.4,229.1 1023,231.2 1023.6,228.2 1024.2,228.7 1024.8,230 1025.4,230.2 1026,231.4 1026.6,229.5 1027.2,229.6 1027.8,228 1028.4,222.6 1029,226.1 1029.6,220.3 1030.2,218.8 1030.8,227.9 1031.4,220.7 1032,217.9 1032.6,218.3 1033.2,217.6 1033.8,211.6 1034.4,212.4 1035,208 1035.6,210.8 1036.2,207.3 1036.8,212.3 1037.4,208.7 1038,203.6 1038.6,204.9 1039.2,200.3 1039.8,203 1040.4,203.4 1041,201.5 1041.6,193.8 1042.2,197.5 1042.8,198.9 1043.4,197.2 1044,198.7 1044.6,190.2 1045.2,194.5 1045.8,189.9 1046.4,191.3 1047,190.8 1047.6,190.5 1048.2,185.6 1048.8,186.8 1049.4,181.6 1050,179.8 1050.6,184.5 1051.2,181.6 1051.8,175.8 1052.4,177 1053,178.5 1053.6,187.7 1054.2,179.3 1054.8,177.5 1055.4,168.6 1056,172.6 1056.6,173.2 1057.2,171.9 1057.8,170.9 1058.4,167.9 1059,172.8 1059.6,170.8 1060.2,165 1060.8,161.3 1061.4,169.3 1062,160.4 1062.6,164.6 1063.2,165.6 1063.8,156 1064.4,158.7 1065,155.7 1065.6,157.2 1066.2,155.6 1066.8,159.4 1067.4,154.3 1068,151.5 1068.6,153.9 1069.2,148.7 1069.8,147.4 1070.4,154.3 1071,144.1 1071.6,144.2 1072.2,144.8 1072.8,140.6 1073.4,136.5 1074,145 1074.6,138.6 1075.2,138.4 1075.8,138 1076.4,135.2 1077,134 1077.6,136.9 1078.2,142.7 1078.8,136.8 1079.4,136 1080,128.4 1080.6,131.9 1081.2,127.6 1081.8,132.7 1082.4,133.5 1083,128.8 1083.6,127.6 1084.2,125.2 1084.8,121.3 1085.4,127.3 1086,120.1 1086.6,119.9 1087.2,122 1087.8,119.8 1088.4,122.3 1089,124.1 1089.6,120.7 1090.2,119.8 1090.8,118.4 1091.4,120.6 1092,110.4 1092.6,117.5 1093.2,112.2 1093.8,110.4 1094.4,114.2 1095,112.2 1095.6,115.1 1096.2,116.5 1096.8,103 1097.4,110.9 1098,118 1098.6,113.3 1099.2,114.9 1099.8,109.1 1100.4,102.5 1101,106.1 1101.6,111.8 1102.2,110.2 1102.8,102.9 1103.4,104.2 1104,105.8 1104.6,97 1105.2,102.3 1105.8,110 1106.4,112 1107,102 1107.6,109.8 1108.2,99.4 1108.8,97.9 1109.4,91.4 1110,105 1110.6,99 1111.2,110.7 1111.8,101.8 1112.4,101 1113,91.9 1113.6,106.6 1114.2,98.1 1114.8,98.9 1115.4,89.3 1116,103.6 1116.6,103.8 1117.2,96.2 1117.8,99.4 1118.4,100.7 1119,103.3 1119.6,99.1 1120.2,106.8 1120.8,97.3 1121.4,95.4 1122,96 1122.6,86 1123.2,94.2 1123.8,102.8 1124.4,99.2 1125,93.9 1125.6,99.4 1126.2,88 1126.8,96.3 1127.4,100.1 1128,100.9 1128.6,93.8 1129.2,101.8 1129.8,106.4 1130.4,95.4 1131,109.1 1131.6,89.9 1132.2,87.9 1132.8,100.3 1133.4,97.5 1134,98.3 1134.6,94.5 1135.2,95.9 1135.8,101.2 1136.4,105.6 1137,96.3 1137.6,89.4 1138.2,103.5 1138.8,100.2 1139.4,100.6 1140,98.2 1140.6,108.5 1141.2,97.7 1141.8,99.8 1142.4,88.5 1143,94.6 1143.6,94.1 1144.2,97.2 1144.8,99 1145.4,93.8 1146,105.7 1146.6,92.2 1147.2,95.2 1147.8,98.5 1148.4,91.3 1149,100.1 1149.6,100.4 1150.2,95.9 1150.8,106.5 1151.4,97.7 1152,98.7 1152.6,92.7 1153.2,89.3 1153.8,94.3 1154.4,95.8 1155,95.2 1155.6,101 1156.2,85.9 1156.8,91.9 1157.4,88.6 1158,103.8 1158.6,94.6 1159.2,94.9 1159.8,92.1 1160.4,101.7 1161,103.8 1161.6,98.4 1162.2,87.6 1162.8,103 1163.4,99.3 1164,100 1164.6,103.3 1165.2,96.4 1165.8,96.6 1166.4,100.8 1167,99.4 1167.6,96.2 1168.2,97.6 1168.8,94.9 1169.4,100.9 1170,101.9 1170.6,97.4 1171.2,106.4 1171.8,90 1172.4,96.2 1173,105.6 1173.6,95.3 1174.2,89.7 1174.8,104.1 1175.4,100 1176,91.6" fill="none" stroke="#f01818" stroke-width="4.8" stroke-linejoin="round" stroke-linecap="round"/>
<polyline points="913.4,281.9 914.1,281.3 914.8,280.7 915.5,280.5 916.2,279.8 916.9,280.9 917.6,282.3 918.3,283.3 919,282.8 919.7,281.5 920.4,280.9 921.1,281.6 921.8,282.5 922.5,281.6 923.2,281.8 923.9,282.4 924.6,281 925.3,281.1 926,282.2 926.7,281.6 927.4,281.2 928.1,282.5 928.8,283.6 929.5,283.6 930.2,282.1 930.9,280.7 931.6,281.8 932.3,281.5 933,280.6 933.7,280.3 934.4,281.7 935.1,283.3 935.8,282.6 936.5,282.1 937.2,281.6 937.9,281.2 938.6,281.8 939.3,281.6 940,282 940.7,282.1 941.4,280.9 942.1,281.9 942.8,282.4 943.5,281.9 944.2,281.8 944.9,280.2 945.6,280.7 946.3,281.2 947,281.6 947.7,281.4 948.4,279.8 949.1,280.8 949.8,282.1 950.5,282 951.2,281.1 951.9,281.5 952.6,281.4 953.3,280.6 954,281 954.7,281 955.4,282 956.1,281.8 956.8,281.7 957.5,282.4 958.2,281.1 958.9,280.1 959.6,280.8 960.3,281.1 961,281.5 961.7,280.8 962.4,281 963.1,282.5 963.8,281.9 964.5,280.7 965.2,280.8 965.9,281.2 966.6,281.5 967.3,281.6 968,281.7 968.7,281.4 969.4,281.7 970.1,280.6 970.8,279.1 971.5,280.6 972.2,280.2 972.9,280.3 973.6,280.4 974.3,279.9 975,279.9 975.7,279.5 976.4,280 977.1,280.1 977.8,279.7 978.5,280.8 979.2,280.9 979.9,279 980.6,279.4 981.3,280.3 982,280.3 982.7,280.7 983.4,279.3 984.1,278.8 984.8,279.8 985.5,279 986.2,278.4 986.9,276.5 987.6,275.9 988.3,278.5 989,277.6 989.7,276.1 990.4,277.2 991.1,277.6 991.8,278.2 992.5,276.7 993.2,275.7 993.9,276.9 994.6,276 995.3,275.2 996,276.8 996.7,277.4 997.4,276.4 998.1,273.9 998.8,273.2 999.5,274.6 1000.2,274.2 1000.9,273.7 1001.6,275.3 1002.3,274.9 1003,272.3 1003.7,272.2 1004.4,272.2 1005.1,271.6 1005.8,271.3 1006.5,271.6 1007.2,271.4 1007.9,269.8 1008.6,269.1 1009.3,269.4 1010,268.5 1010.7,268.2 1011.4,268.2 1012.1,266.5 1012.8,265.8 1013.5,267.3 1014.2,268.1 1014.9,267.1 1015.6,267.1 1016.3,267.1 1017,266.2 1017.7,267.3 1018.4,268.7 1019.1,269.1 1019.8,269.4 1020.5,269.8 1021.2,270 1021.9,270.4 1022.6,271.4 1023.3,271.1 1024,271.1 1024.7,269.9 1025.4,268.8 1026.1,270.3 1026.8,271.4 1027.5,270.3 1028.2,268.7 1028.9,267.3 1029.6,267 1030.3,267.5 1031,265.8 1031.7,265 1032.4,265.4 1033.1,264.6 1033.8,262.9 1034.5,262.2 1035.2,261.3 1035.9,261.1 1036.6,261.2 1037.3,259 1038,259 1038.7,259.6 1039.4,257.8 1040.1,257.7 1040.8,256.8 1041.5,255.1 1042.2,255.6 1042.9,253.4 1043.6,252.5 1044.3,253 1045,251.7 1045.7,250.4 1046.4,249.8 1047.1,249 1047.8,247.4 1048.5,247 1049.2,246 1049.9,246.3 1050.6,245.4 1051.3,243.2 1052,242.9 1052.7,242.4 1053.4,242.2 1054.1,241.7 1054.8,240.2 1055.5,238.6 1056.2,237.8 1056.9,237.6 1057.6,237 1058.3,235.3 1059,232.7 1059.7,233.2 1060.4,233.8 1061.1,231.7 1061.8,230.2 1062.5,228.7 1063.2,226.8 1063.9,225.7 1064.6,225 1065.3,223.6 1066,221.7 1066.7,220.7 1067.4,220.7 1068.1,219.3 1068.8,217.8 1069.5,215.7 1070.2,214.3 1070.9,214.2 1071.6,212.4 1072.3,210.2 1073,210 1073.7,209.3 1074.4,208.1 1075.1,207.1 1075.8,206 1076.5,204.9 1077.2,202.6 1077.9,201.6 1078.6,201.1 1079.3,200.4 1080,199.2 1080.7,197.5 1081.4,197.2 1082.1,197 1082.8,195.8 1083.5,194.7 1084.2,193.4 1084.9,192.2 1085.6,191.4 1086.3,190.1 1087,188.5 1087.7,187.3 1088.4,187.5 1089.1,186.4 1089.8,183.8 1090.5,182.5 1091.2,181.5 1091.9,180.7 1092.6,179 1093.3,176.6 1094,176.3 1094.7,175.3 1095.4,174.2 1096.1,174 1096.8,173.3 1097.5,173 1098.2,171.3 1098.9,168.9 1099.6,166.7 1100.3,165.3 1101,164.8 1101.7,162.7 1102.4,161.4 1103.1,161.2 1103.8,160.1 1104.5,158.4 1105.2,156.5 1105.9,154.7 1106.6,152.7 1107.3,150.4 1108,149.1 1108.7,149.3 1109.4,147.6 1110.1,145.2 1110.8,142.8 1111.5,141.7 1112.2,140.1 1112.9,138.1 1113.6,137 1114.3,134.4 1115,133.3 1115.7,132.3 1116.4,130.4 1117.1,129.2 1117.8,127.8 1118.5,126 1119.2,125.1 1119.9,124 1120.6,122.7 1121.3,121.6 1122,119.8 1122.7,118.9 1123.4,118.6 1124.1,118.2 1124.8,118.3 1125.5,116.5 1126.2,115.1 1126.9,114 1127.6,112.6 1128.3,112.8 1129,111.4 1129.7,110 1130.4,110.6 1131.1,111.1 1131.8,110.2 1132.5,109.1 1133.2,109.8 1133.9,109.5 1134.6,107.2 1135.3,107.7 1136,107.9 1136.7,106.2 1137.4,106 1138.1,105.8 1138.8,104.9 1139.5,104.5 1140.2,103 1140.9,102.9 1141.6,103 1142.3,101.3 1143,100.2 1143.7,100.8 1144.4,100.6 1145.1,99.7 1145.8,99.9 1146.5,99.7 1147.2,98.4 1147.9,98.7 1148.6,100.2 1149.3,100.4 1150,101 1150.7,100.9 1151.4,100.7 1152.1,101.8 1152.8,101.5 1153.5,102 1154.2,103.5 1154.9,103.4 1155.6,104 1156.3,104.5 1157,103.5 1157.7,104.2 1158.4,105.4 1159.1,105.5 1159.8,105.9 1160.5,107 1161.2,107.8 1161.9,107.2 1162.6,107.7 1163.3,109.1 1164,109.1 1164.7,109.2 1165.4,110.2 1166.1,110.9 1166.8,112.2 1167.5,114 1168.2,115.7 1168.9,116.8 1169.6,117.2 1170.3,118.1 1171,119.3 1171.7,119.4 1172.4,120 1173.1,121.3 1173.8,121.8 1174.5,122.3 1175.2,123.1 1175.9,124.1" fill="none" stroke="#147878" stroke-width="5.4" stroke-linejoin="round" stroke-linecap="round"/>
<polyline points="913.4,284.4 914.1,284.4 914.8,284.6 915.5,284.4 916.2,284.4 916.9,284.5 917.6,284.1 918.3,283.8 919,283.5 919.7,282.8 920.4,282.7 921.1,283.5 921.8,283.4 922.5,283.1 923.2,283.8 923.9,283.5 924.6,283.4 925.3,283.9 926,283.7 926.7,283.7 927.4,283.5 928.1,282.7 928.8,282.6 929.5,282.5 930.2,282 930.9,281.7 931.6,282.5 932.3,282.6 933,281.9 933.7,281.8 934.4,281.8 935.1,281.8 935.8,281.6 936.5,281.2 937.2,280.9 937.9,280.9 938.6,281.2 939.3,281.8 940,281.9 940.7,281.8 941.4,281.5 942.1,280.9 942.8,280.4 943.5,280.3 944.2,280 944.9,279.8 945.6,280.6 946.3,280.6 947,280.4 947.7,280.1 948.4,279.3 949.1,279.2 949.8,279.3 950.5,279.6 951.2,280 951.9,279.4 952.6,278.6 953.3,278.6 954,278.5 954.7,278 955.4,278 956.1,278.2 956.8,278.1 957.5,277.5 958.2,277.2 958.9,276.9 959.6,277 960.3,277 961,276.4 961.7,276.3 962.4,276 963.1,275.6 963.8,275 964.5,275.3 965.2,275.4 965.9,274.7 966.6,274.8 967.3,274.2 968,273.4 968.7,273 969.4,272.7 970.1,272.3 970.8,271.6 971.5,270.9 972.2,270.3 972.9,270.1 973.6,268.9 974.3,268 975,267.9 975.7,267.2 976.4,266.2 977.1,265.8 977.8,265.5 978.5,264.6 979.2,264 979.9,263 980.6,262.3 981.3,261.6 982,260.8 982.7,260.5 983.4,260 984.1,259.4 984.8,258.7 985.5,258.5 986.2,258 986.9,256.4 987.6,255.5 988.3,254.9 989,254.3 989.7,253.6 990.4,252.7 991.1,252.6 991.8,252.1 992.5,250.9 993.2,250.2 993.9,249.5 994.6,249.1 995.3,248.5 996,247.7 996.7,246 997.4,245 998.1,245.3 998.8,244.8 999.5,243.8 1000.2,242 1000.9,241.3 1001.6,240.7 1002.3,239.2 1003,238.4 1003.7,238.2 1004.4,237.7 1005.1,236.7 1005.8,235.3 1006.5,234.8 1007.2,233.8 1007.9,232.3 1008.6,231.2 1009.3,230.6 1010,230.2 1010.7,229.1 1011.4,228.1 1012.1,226.9 1012.8,225.9 1013.5,224.5 1014.2,223.7 1014.9,223.4 1015.6,222.1 1016.3,220.9 1017,220.1 1017.7,219.5 1018.4,218.5 1019.1,217 1019.8,215.7 1020.5,214.2 1021.2,213 1021.9,212.2 1022.6,211.1 1023.3,209.9 1024,208.9 1024.7,207.7 1025.4,206.4 1026.1,205.2 1026.8,203.9 1027.5,202.5 1028.2,201.4 1028.9,199.7 1029.6,198.7 1030.3,197.7 1031,196.4 1031.7,195.6 1032.4,194.5 1033.1,193.4 1033.8,191.9 1034.5,191.1 1035.2,190.4 1035.9,189.3 1036.6,188.3 1037.3,187.7 1038,187.1 1038.7,186.2 1039.4,184.9 1040.1,184.1 1040.8,184 1041.5,184 1042.2,183.6 1042.9,182.7 1043.6,182.4 1044.3,182 1045,181.3 1045.7,180.9 1046.4,180.1 1047.1,179.9 1047.8,179.9 1048.5,179.1 1049.2,178.1 1049.9,177.6 1050.6,177.6 1051.3,176.6 1052,175.2 1052.7,174.4 1053.4,173.1 1054.1,171.1 1054.8,170 1055.5,168.8 1056.2,167.3 1056.9,165.7 1057.6,164.3 1058.3,162.8 1059,161 1059.7,159.4 1060.4,158.2 1061.1,157 1061.8,155.4 1062.5,153.7 1063.2,151.1 1063.9,149 1064.6,148.1 1065.3,146.7 1066,144.7 1066.7,143.4 1067.4,142.2 1068.1,140.1 1068.8,138.5 1069.5,137 1070.2,135.3 1070.9,134 1071.6,132.5 1072.3,130.5 1073,128.8 1073.7,127.6 1074.4,125.9 1075.1,124.6 1075.8,123 1076.5,121.6 1077.2,120.6 1077.9,118.5 1078.6,116.9 1079.3,116.1 1080,114.8 1080.7,113 1081.4,112 1082.1,111.8 1082.8,110.5 1083.5,109.3 1084.2,108.9 1084.9,107.9 1085.6,107 1086.3,106.1 1087,105.7 1087.7,105.1 1088.4,103.9 1089.1,103.4 1089.8,102.6 1090.5,101.7 1091.2,101.5 1091.9,101 1092.6,100.5 1093.3,99.9 1094,99.4 1094.7,99 1095.4,98.7 1096.1,98.7 1096.8,98.2 1097.5,97.9 1098.2,98.1 1098.9,97.8 1099.6,97.6 1100.3,97.9 1101,97.9 1101.7,97.7 1102.4,98.6 1103.1,99 1103.8,99.7 1104.5,100.6 1105.2,100.9 1105.9,101.6 1106.6,102.3 1107.3,102.9 1108,103.4 1108.7,104.2 1109.4,105.3 1110.1,106.4 1110.8,107.2 1111.5,107.8 1112.2,108.3 1112.9,108.8 1113.6,110.2 1114.3,112 1115,113.1 1115.7,114.5 1116.4,116.5 1117.1,117.9 1117.8,119.5 1118.5,121.2 1119.2,122.2 1119.9,123.8 1120.6,125.9 1121.3,128 1122,129.6 1122.7,131.2 1123.4,132.9 1124.1,134.7 1124.8,136.7 1125.5,138.6 1126.2,140.3 1126.9,141.7 1127.6,143 1128.3,144.5 1129,145.9 1129.7,147.8 1130.4,148.6 1131.1,149.7 1131.8,151.9 1132.5,153.7 1133.2,154.8 1133.9,156.1 1134.6,158.1 1135.3,159.3 1136,160.1 1136.7,161.6 1137.4,163.2 1138.1,164.9 1138.8,166.4 1139.5,168 1140.2,169.7 1140.9,170.4 1141.6,171.6 1142.3,172.8 1143,174.3 1143.7,176.2 1144.4,177.3 1145.1,178.4 1145.8,179.4 1146.5,180.5 1147.2,182.4 1147.9,183.1 1148.6,184 1149.3,185.7 1150,186.1 1150.7,186.5 1151.4,187.8 1152.1,189.4 1152.8,190.6 1153.5,191.4 1154.2,192.7 1154.9,193.7 1155.6,194.6 1156.3,195.5 1157,196.7 1157.7,197.6 1158.4,198.7 1159.1,199.8 1159.8,200.1 1160.5,201.3 1161.2,202.5 1161.9,202.8 1162.6,203.7 1163.3,204.8 1164,205.5 1164.7,206.9 1165.4,207.9 1166.1,208.7 1166.8,209.7 1167.5,211 1168.2,212 1168.9,212.2 1169.6,212.9 1170.3,213.9 1171,215.1 1171.7,216.3 1172.4,217.4 1173.1,218.4 1173.8,219.2 1174.5,220.2 1175.2,221.1 1175.9,222" fill="none" stroke="#1010dd" stroke-width="5.4" stroke-linejoin="round" stroke-linecap="round"/>
<polyline points="913.4,280.2 914.1,280.2 914.8,279.8 915.5,279.2 916.2,279 916.9,279.3 917.6,278.8 918.3,278.5 919,279 919.7,278.9 920.4,278.4 921.1,278.8 921.8,279.2 922.5,278.7 923.2,278.5 923.9,278.7 924.6,278.1 925.3,278.3 926,278.2 926.7,277.5 927.4,277.3 928.1,277.3 928.8,277.1 929.5,277 930.2,277.3 930.9,277.3 931.6,276.8 932.3,277 933,276.7 933.7,276.5 934.4,276.5 935.1,276.1 935.8,276.1 936.5,275.9 937.2,275.7 937.9,275.4 938.6,275.1 939.3,275.2 940,275.1 940.7,274.6 941.4,274.3 942.1,274.2 942.8,274.2 943.5,274.1 944.2,274 944.9,273.6 945.6,273.3 946.3,273 947,272.1 947.7,272.1 948.4,272.1 949.1,271.7 949.8,271.5 950.5,271.5 951.2,271.2 951.9,270.9 952.6,270.7 953.3,270 954,269.5 954.7,269.5 955.4,269.6 956.1,269.3 956.8,269.2 957.5,268.7 958.2,268 958.9,267.5 959.6,267 960.3,266.6 961,265.9 961.7,266 962.4,265.3 963.1,264.5 963.8,264.5 964.5,264 965.2,263.3 965.9,262.7 966.6,262.3 967.3,261.6 968,261.2 968.7,260.8 969.4,260.1 970.1,259.8 970.8,259.1 971.5,258.5 972.2,258 972.9,257.5 973.6,257 974.3,256.4 975,255.5 975.7,254.7 976.4,254.1 977.1,253.6 977.8,253.3 978.5,252.7 979.2,251.7 979.9,250.7 980.6,249.6 981.3,248.2 982,247.5 982.7,246.9 983.4,245.8 984.1,244.6 984.8,244 985.5,243.1 986.2,241.6 986.9,241.1 987.6,240.4 988.3,238.7 989,237.6 989.7,236.3 990.4,235.3 991.1,233.8 991.8,231.9 992.5,230.9 993.2,229.7 993.9,228.7 994.6,227.2 995.3,225.3 996,224.3 996.7,223.2 997.4,221.9 998.1,220.4 998.8,219.1 999.5,217.4 1000.2,215.3 1000.9,214 1001.6,212.1 1002.3,210.1 1003,208.2 1003.7,206.3 1004.4,204.2 1005.1,202.2 1005.8,200 1006.5,198.1 1007.2,195.9 1007.9,194 1008.6,192.4 1009.3,189.8 1010,187 1010.7,184.2 1011.4,182 1012.1,179.5 1012.8,176.7 1013.5,173.8 1014.2,171.1 1014.9,167.8 1015.6,164 1016.3,160 1017,155.8 1017.7,152.2 1018.4,148 1019.1,143.5 1019.8,139.6 1020.5,135.7 1021.2,132 1021.9,127.9 1022.6,124.5 1023.3,122.2 1024,118.9 1024.7,115.7 1025.4,113.3 1026.1,110.6 1026.8,107.6 1027.5,105.5 1028.2,103.3 1028.9,101.3 1029.6,99.6 1030.3,98.3 1031,97.9 1031.7,97.3 1032.4,96.1 1033.1,95.6 1033.8,95.7 1034.5,94.9 1035.2,94.9 1035.9,94.5 1036.6,94.5 1037.3,94.6 1038,94.7 1038.7,95.2 1039.4,95.3 1040.1,96.2 1040.8,97.6 1041.5,99 1042.2,100.7 1042.9,102.1 1043.6,103.8 1044.3,108.2 1045,115.6 1045.7,124.8 1046.4,134.7 1047.1,144.3 1047.8,151.7 1048.5,154.8 1049.2,156.3 1049.9,158.2 1050.6,159.3 1051.3,160.1 1052,161.4 1052.7,162.4 1053.4,164.4 1054.1,167 1054.8,169.7 1055.5,172.8 1056.2,175.1 1056.9,177.2 1057.6,179.6 1058.3,181 1059,182.2 1059.7,184.2 1060.4,185.8 1061.1,186.9 1061.8,188.2 1062.5,189.5 1063.2,190.7 1063.9,192.2 1064.6,193.8 1065.3,194.9 1066,195.6 1066.7,197 1067.4,198.4 1068.1,199.7 1068.8,201.7 1069.5,203.8 1070.2,205.1 1070.9,205.9 1071.6,207.5 1072.3,208.8 1073,210 1073.7,212.3 1074.4,214 1075.1,214.9 1075.8,215.8 1076.5,217.6 1077.2,219.3 1077.9,220.2 1078.6,221.5 1079.3,222.7 1080,223.2 1080.7,224.6 1081.4,225.9 1082.1,226.5 1082.8,227.4 1083.5,228.6 1084.2,229.7 1084.9,230.7 1085.6,231.7 1086.3,232.8 1087,233.6 1087.7,234.1 1088.4,234.7 1089.1,235.4 1089.8,236.8 1090.5,238.5 1091.2,238.9 1091.9,238.8 1092.6,239.8 1093.3,240.9 1094,241.4 1094.7,242 1095.4,242.4 1096.1,243 1096.8,244.1 1097.5,245.1 1098.2,245.5 1098.9,245.6 1099.6,246.3 1100.3,247.1 1101,247.6 1101.7,247.7 1102.4,248.2 1103.1,249 1103.8,249.2 1104.5,249.2 1105.2,249.9 1105.9,250.7 1106.6,251.2 1107.3,251.5 1108,251.6 1108.7,251.9 1109.4,252.2 1110.1,252.4 1110.8,252.9 1111.5,253.4 1112.2,254.1 1112.9,254.3 1113.6,254.4 1114.3,254.8 1115,255.5 1115.7,256 1116.4,255.9 1117.1,256.4 1117.8,256.8 1118.5,256.9 1119.2,257.5 1119.9,258.1 1120.6,258.4 1121.3,258.8 1122,258.9 1122.7,259 1123.4,259 1124.1,259.4 1124.8,259.9 1125.5,260.2 1126.2,260.5 1126.9,260.5 1127.6,260.6 1128.3,261.2 1129,262 1129.7,262 1130.4,262.1 1131.1,262.7 1131.8,262.7 1132.5,262.6 1133.2,262.8 1133.9,263.4 1134.6,263.9 1135.3,263.8 1136,263.6 1136.7,263.9 1137.4,264.7 1138.1,264.9 1138.8,264.8 1139.5,265.2 1140.2,265.2 1140.9,265.2 1141.6,265.8 1142.3,265.8 1143,265.6 1143.7,266 1144.4,266.3 1145.1,266.3 1145.8,266.5 1146.5,266.7 1147.2,266.6 1147.9,266.5 1148.6,266.9 1149.3,267.4 1150,267.7 1150.7,267.4 1151.4,267.5 1152.1,267.9 1152.8,267.8 1153.5,267.8 1154.2,268.1 1154.9,268.5 1155.6,268.2 1156.3,268 1157,268.3 1157.7,268.2 1158.4,268.6 1159.1,268.9 1159.8,268.5 1160.5,268.4 1161.2,268.7 1161.9,268.6 1162.6,268.8 1163.3,269.2 1164,269.1 1164.7,269.3 1165.4,269.7 1166.1,269.7 1166.8,269.3 1167.5,269.8 1168.2,269.8 1168.9,269.4 1169.6,269.3 1170.3,269.8 1171,270.2 1171.7,270.1 1172.4,270.2 1173.1,270.2 1173.8,270.1 1174.5,270 1175.2,270.4 1175.9,270.7" fill="none" stroke="#18e030" stroke-width="5.4" stroke-linejoin="round" stroke-linecap="round"/>
</g>
<text x="10" y="365.5" font-size="31" text-anchor="start" font-weight="bold" fill="#111" font-family='"Liberation Serif", serif'>(d)</text>
<g clip-path="url(#clipd)"><g filter="url(#blurd)">
<rect x="116.5" y="370.8" width="264" height="263.2" fill="#0000ff" stroke="none" stroke-width="1"/>
<rect x="116.5" y="372.8" width="264" height="3.1" fill="url(#gd0)" stroke="none" stroke-width="1"/>
<rect x="116.5" y="375.3" width="264" height="3.1" fill="url(#gd1)" stroke="none" stroke-width="1"/>
<rect x="116.5" y="377.8" width="264" height="3.1" fill="url(#gd2)" stroke="none" stroke-width="1"/>
<rect x="116.5" y="380.3" width="264" height="3.1" fill="url(#gd3)" stroke="none" stroke-width="1"/>
<rect x="116.5" y="382.8" width="264" height="3.1" fill="url(#gd4)" stroke="none" stroke-width="1"/>
<rect x="116.5" y="385.3" width="264" height="3.1" fill="url(#gd5)" stroke="none" stroke-width="1"/>
<rect x="116.5" y="387.8" width="264" height="3.1" fill="url(#gd6)" stroke="none" stroke-width="1"/>
<rect x="116.5" y="390.3" width="264" height="3.1" fill="url(#gd7)" stroke="none" stroke-width="1"/>
<rect x="116.5" y="392.8" width="264" height="3.1" fill="url(#gd8)" stroke="none" stroke-width="1"/>
<rect x="116.5" y="395.3" width="264" height="3.1" fill="url(#gd9)" stroke="none" stroke-width="1"/>
<rect x="116.5" y="397.8" width="264" height="3.1" fill="url(#gd10)" stroke="none" stroke-width="1"/>
<rect x="116.5" y="400.3" width="264" height="3.1" fill="url(#gd11)" stroke="none" stroke-width="1"/>
<rect x="116.5" y="402.8" width="264" height="3.1" fill="url(#gd12)" stroke="none" stroke-width="1"/>
<rect x="116.5" y="405.3" width="264" height="3.1" fill="url(#gd13)" stroke="none" stroke-width="1"/>
<rect x="116.5" y="407.8" width="264" height="3.1" fill="url(#gd14)" stroke="none" stroke-width="1"/>
<rect x="116.5" y="410.3" width="264" height="3.1" fill="url(#gd15)" stroke="none" stroke-width="1"/>
<rect x="116.5" y="412.8" width="264" height="3.1" fill="url(#gd16)" stroke="none" stroke-width="1"/>
<rect x="116.5" y="415.3" width="264" height="3.1" fill="url(#gd17)" stroke="none" stroke-width="1"/>
<rect x="116.5" y="417.8" width="264" height="3.1" fill="url(#gd18)" stroke="none" stroke-width="1"/>
<rect x="116.5" y="420.3" width="264" height="3.1" fill="url(#gd19)" stroke="none" stroke-width="1"/>
<rect x="116.5" y="422.8" width="264" height="3.1" fill="url(#gd20)" stroke="none" stroke-width="1"/>
<rect x="116.5" y="425.3" width="264" height="3.1" fill="url(#gd21)" stroke="none" stroke-width="1"/>
<rect x="116.5" y="427.8" width="264" height="3.1" fill="url(#gd22)" stroke="none" stroke-width="1"/>
<rect x="116.5" y="430.3" width="264" height="3.1" fill="url(#gd23)" stroke="none" stroke-width="1"/>
<rect x="116.5" y="432.8" width="264" height="3.1" fill="url(#gd24)" stroke="none" stroke-width="1"/>
<rect x="116.5" y="435.3" width="264" height="3.1" fill="url(#gd25)" stroke="none" stroke-width="1"/>
<rect x="116.5" y="437.8" width="264" height="3.1" fill="url(#gd26)" stroke="none" stroke-width="1"/>
<rect x="116.5" y="440.3" width="264" height="3.1" fill="url(#gd27)" stroke="none" stroke-width="1"/>
<rect x="116.5" y="442.8" width="264" height="3.1" fill="url(#gd28)" stroke="none" stroke-width="1"/>
<rect x="116.5" y="445.3" width="264" height="3.1" fill="url(#gd29)" stroke="none" stroke-width="1"/>
<rect x="116.5" y="447.8" width="264" height="3.1" fill="url(#gd30)" stroke="none" stroke-width="1"/>
<rect x="116.5" y="450.3" width="264" height="3.1" fill="url(#gd31)" stroke="none" stroke-width="1"/>
<rect x="116.5" y="452.8" width="264" height="3.1" fill="url(#gd32)" stroke="none" stroke-width="1"/>
<rect x="116.5" y="455.3" width="264" height="3.1" fill="url(#gd33)" stroke="none" stroke-width="1"/>
<rect x="116.5" y="457.8" width="264" height="3.1" fill="url(#gd34)" stroke="none" stroke-width="1"/>
<rect x="116.5" y="460.3" width="264" height="3.1" fill="url(#gd35)" stroke="none" stroke-width="1"/>
<rect x="116.5" y="462.8" width="264" height="3.1" fill="url(#gd36)" stroke="none" stroke-width="1"/>
<rect x="116.5" y="465.3" width="264" height="3.1" fill="url(#gd37)" stroke="none" stroke-width="1"/>
<rect x="116.5" y="467.8" width="264" height="3.1" fill="url(#gd38)" stroke="none" stroke-width="1"/>
<rect x="116.5" y="470.3" width="264" height="3.1" fill="url(#gd39)" stroke="none" stroke-width="1"/>
<rect x="116.5" y="472.8" width="264" height="3.1" fill="url(#gd40)" stroke="none" stroke-width="1"/>
<rect x="116.5" y="475.3" width="264" height="3.1" fill="url(#gd41)" stroke="none" stroke-width="1"/>
<rect x="116.5" y="477.8" width="264" height="3.1" fill="url(#gd42)" stroke="none" stroke-width="1"/>
<rect x="116.5" y="480.3" width="264" height="3.1" fill="url(#gd43)" stroke="none" stroke-width="1"/>
<rect x="116.5" y="482.8" width="264" height="3.1" fill="url(#gd44)" stroke="none" stroke-width="1"/>
<rect x="116.5" y="485.3" width="264" height="3.1" fill="url(#gd45)" stroke="none" stroke-width="1"/>
<rect x="116.5" y="487.8" width="264" height="3.1" fill="url(#gd46)" stroke="none" stroke-width="1"/>
<rect x="116.5" y="490.3" width="264" height="3.1" fill="url(#gd47)" stroke="none" stroke-width="1"/>
<rect x="116.5" y="492.8" width="264" height="3.1" fill="url(#gd48)" stroke="none" stroke-width="1"/>
<rect x="116.5" y="495.3" width="264" height="3.1" fill="url(#gd49)" stroke="none" stroke-width="1"/>
<rect x="116.5" y="497.8" width="264" height="3.1" fill="url(#gd50)" stroke="none" stroke-width="1"/>
<rect x="116.5" y="500.3" width="264" height="3.1" fill="url(#gd51)" stroke="none" stroke-width="1"/>
<rect x="116.5" y="502.8" width="264" height="3.1" fill="url(#gd52)" stroke="none" stroke-width="1"/>
<rect x="116.5" y="505.3" width="264" height="3.1" fill="url(#gd53)" stroke="none" stroke-width="1"/>
<rect x="116.5" y="507.8" width="264" height="3.1" fill="url(#gd54)" stroke="none" stroke-width="1"/>
<rect x="116.5" y="510.3" width="264" height="3.1" fill="url(#gd55)" stroke="none" stroke-width="1"/>
<rect x="116.5" y="512.8" width="264" height="3.1" fill="url(#gd56)" stroke="none" stroke-width="1"/>
<rect x="116.5" y="515.3" width="264" height="3.1" fill="url(#gd57)" stroke="none" stroke-width="1"/>
<rect x="116.5" y="517.8" width="264" height="3.1" fill="url(#gd58)" stroke="none" stroke-width="1"/>
<rect x="116.5" y="520.3" width="264" height="3.1" fill="url(#gd59)" stroke="none" stroke-width="1"/>
<rect x="116.5" y="522.8" width="264" height="3.1" fill="url(#gd60)" stroke="none" stroke-width="1"/>
<rect x="116.5" y="525.3" width="264" height="3.1" fill="url(#gd61)" stroke="none" stroke-width="1"/>
<rect x="116.5" y="527.8" width="264" height="3.1" fill="url(#gd62)" stroke="none" stroke-width="1"/>
<rect x="116.5" y="530.3" width="264" height="3.1" fill="url(#gd63)" stroke="none" stroke-width="1"/>
<rect x="116.5" y="532.8" width="264" height="3.1" fill="url(#gd64)" stroke="none" stroke-width="1"/>
<rect x="116.5" y="535.3" width="264" height="3.1" fill="url(#gd65)" stroke="none" stroke-width="1"/>
<rect x="116.5" y="537.8" width="264" height="3.1" fill="url(#gd66)" stroke="none" stroke-width="1"/>
<rect x="116.5" y="540.3" width="264" height="3.1" fill="url(#gd67)" stroke="none" stroke-width="1"/>
<rect x="116.5" y="542.8" width="264" height="3.1" fill="url(#gd68)" stroke="none" stroke-width="1"/>
<rect x="116.5" y="545.3" width="264" height="3.1" fill="url(#gd69)" stroke="none" stroke-width="1"/>
<rect x="116.5" y="547.8" width="264" height="3.1" fill="url(#gd70)" stroke="none" stroke-width="1"/>
<rect x="116.5" y="550.3" width="264" height="3.1" fill="url(#gd71)" stroke="none" stroke-width="1"/>
<rect x="116.5" y="552.8" width="264" height="3.1" fill="url(#gd72)" stroke="none" stroke-width="1"/>
<rect x="116.5" y="555.3" width="264" height="3.1" fill="url(#gd73)" stroke="none" stroke-width="1"/>
<rect x="116.5" y="557.8" width="264" height="3.1" fill="url(#gd74)" stroke="none" stroke-width="1"/>
<rect x="116.5" y="560.3" width="264" height="3.1" fill="url(#gd75)" stroke="none" stroke-width="1"/>
<rect x="116.5" y="562.8" width="264" height="3.1" fill="url(#gd76)" stroke="none" stroke-width="1"/>
<rect x="116.5" y="565.3" width="264" height="3.1" fill="url(#gd77)" stroke="none" stroke-width="1"/>
<rect x="116.5" y="567.8" width="264" height="3.1" fill="url(#gd78)" stroke="none" stroke-width="1"/>
<rect x="116.5" y="570.3" width="264" height="3.1" fill="url(#gd79)" stroke="none" stroke-width="1"/>
<rect x="116.5" y="572.8" width="264" height="3.1" fill="url(#gd80)" stroke="none" stroke-width="1"/>
<rect x="116.5" y="575.3" width="264" height="3.1" fill="url(#gd81)" stroke="none" stroke-width="1"/>
<rect x="116.5" y="577.8" width="264" height="3.1" fill="url(#gd82)" stroke="none" stroke-width="1"/>
<rect x="116.5" y="580.3" width="264" height="3.1" fill="url(#gd83)" stroke="none" stroke-width="1"/>
<rect x="116.5" y="582.8" width="264" height="3.1" fill="url(#gd84)" stroke="none" stroke-width="1"/>
<rect x="116.5" y="585.3" width="264" height="3.1" fill="url(#gd85)" stroke="none" stroke-width="1"/>
<rect x="116.5" y="587.8" width="264" height="3.1" fill="url(#gd86)" stroke="none" stroke-width="1"/>
<rect x="116.5" y="590.3" width="264" height="3.1" fill="url(#gd87)" stroke="none" stroke-width="1"/>
<rect x="116.5" y="592.8" width="264" height="3.1" fill="url(#gd88)" stroke="none" stroke-width="1"/>
<rect x="116.5" y="595.3" width="264" height="3.1" fill="url(#gd89)" stroke="none" stroke-width="1"/>
<rect x="116.5" y="597.8" width="264" height="3.1" fill="url(#gd90)" stroke="none" stroke-width="1"/>
<rect x="116.5" y="600.3" width="264" height="3.1" fill="url(#gd91)" stroke="none" stroke-width="1"/>
<rect x="116.5" y="602.8" width="264" height="3.1" fill="url(#gd92)" stroke="none" stroke-width="1"/>
<rect x="116.5" y="605.3" width="264" height="3.1" fill="url(#gd93)" stroke="none" stroke-width="1"/>
<rect x="116.5" y="607.8" width="264" height="3.1" fill="url(#gd94)" stroke="none" stroke-width="1"/>
<rect x="116.5" y="610.3" width="264" height="3.1" fill="url(#gd95)" stroke="none" stroke-width="1"/>
<rect x="116.5" y="612.8" width="264" height="3.1" fill="url(#gd96)" stroke="none" stroke-width="1"/>
<rect x="116.5" y="615.3" width="264" height="3.1" fill="url(#gd97)" stroke="none" stroke-width="1"/>
<rect x="116.5" y="617.8" width="264" height="3.1" fill="url(#gd98)" stroke="none" stroke-width="1"/>
<rect x="116.5" y="620.3" width="264" height="3.1" fill="url(#gd99)" stroke="none" stroke-width="1"/>
<rect x="116.5" y="622.8" width="264" height="3.1" fill="url(#gd100)" stroke="none" stroke-width="1"/>
<rect x="116.5" y="625.3" width="264" height="3.1" fill="url(#gd101)" stroke="none" stroke-width="1"/>
<rect x="116.5" y="627.8" width="264" height="3.1" fill="url(#gd102)" stroke="none" stroke-width="1"/>
<rect x="116.5" y="630.3" width="264" height="3.1" fill="url(#gd103)" stroke="none" stroke-width="1"/>
<polygon points="258,629 279.2,595.5 282,603 285,612 286,629" fill="#ffd000"/>
<polygon points="270,629 279,605 283,614 285,629" fill="#ff9000"/>
</g></g>
<line x1="122.5" y1="376.8" x2="374.5" y2="376.8" stroke="#111" stroke-width="2"/>
<line x1="122.5" y1="375.8" x2="122.5" y2="629" stroke="#111" stroke-width="1.8"/>
<line x1="121.5" y1="628" x2="374.5" y2="628" stroke="#111" stroke-width="1.8"/>
<line x1="374.5" y1="376.8" x2="374.5" y2="628" stroke="#223" stroke-width="1.2"/>
<line x1="114.5" y1="628" x2="122.5" y2="628" stroke="#111" stroke-width="1.8"/>
<line x1="118" y1="586.1" x2="122.5" y2="586.1" stroke="#111" stroke-width="1.8"/>
<line x1="114.5" y1="544.3" x2="122.5" y2="544.3" stroke="#111" stroke-width="1.8"/>
<line x1="118" y1="502.4" x2="122.5" y2="502.4" stroke="#111" stroke-width="1.8"/>
<line x1="114.5" y1="460.5" x2="122.5" y2="460.5" stroke="#111" stroke-width="1.8"/>
<line x1="118" y1="418.7" x2="122.5" y2="418.7" stroke="#111" stroke-width="1.8"/>
<line x1="114.5" y1="376.8" x2="122.5" y2="376.8" stroke="#111" stroke-width="1.8"/>
<line x1="122.5" y1="628" x2="122.5" y2="636" stroke="#111" stroke-width="1.8"/>
<line x1="164.5" y1="628" x2="164.5" y2="632.5" stroke="#111" stroke-width="1.8"/>
<line x1="206.5" y1="628" x2="206.5" y2="636" stroke="#111" stroke-width="1.8"/>
<line x1="248.5" y1="628" x2="248.5" y2="632.5" stroke="#111" stroke-width="1.8"/>
<line x1="290.5" y1="628" x2="290.5" y2="636" stroke="#111" stroke-width="1.8"/>
<line x1="332.5" y1="628" x2="332.5" y2="632.5" stroke="#111" stroke-width="1.8"/>
<line x1="374.5" y1="628" x2="374.5" y2="636" stroke="#111" stroke-width="1.8"/>
<text x="110.5" y="635.8" font-size="22" text-anchor="end" font-weight="normal" fill="#222" font-family='"Liberation Sans", sans-serif' textLength="39" lengthAdjust="spacingAndGlyphs">400</text>
<text x="110.5" y="552.1" font-size="22" text-anchor="end" font-weight="normal" fill="#222" font-family='"Liberation Sans", sans-serif' textLength="39" lengthAdjust="spacingAndGlyphs">500</text>
<text x="110.5" y="468.3" font-size="22" text-anchor="end" font-weight="normal" fill="#222" font-family='"Liberation Sans", sans-serif' textLength="39" lengthAdjust="spacingAndGlyphs">600</text>
<text x="110.5" y="384.6" font-size="22" text-anchor="end" font-weight="normal" fill="#222" font-family='"Liberation Sans", sans-serif' textLength="39" lengthAdjust="spacingAndGlyphs">700</text>
<text x="122.5" y="659.2" font-size="21.5" text-anchor="middle" font-weight="normal" fill="#222" font-family='"Liberation Sans", sans-serif' textLength="48" lengthAdjust="spacingAndGlyphs">1000</text>
<text x="206.5" y="659.2" font-size="21.5" text-anchor="middle" font-weight="normal" fill="#222" font-family='"Liberation Sans", sans-serif' textLength="48" lengthAdjust="spacingAndGlyphs">1200</text>
<text x="290.5" y="659.2" font-size="21.5" text-anchor="middle" font-weight="normal" fill="#222" font-family='"Liberation Sans", sans-serif' textLength="48" lengthAdjust="spacingAndGlyphs">1400</text>
<text x="374.5" y="659.2" font-size="21.5" text-anchor="middle" font-weight="normal" fill="#222" font-family='"Liberation Sans", sans-serif' textLength="48" lengthAdjust="spacingAndGlyphs">1600</text>
<text x="68.5" y="618" font-size="32" text-anchor="start" font-weight="normal" fill="#222" font-family='"Liberation Sans", sans-serif' textLength="224" lengthAdjust="spacingAndGlyphs" transform="rotate(-90 68.5 618)">Excitation (nm)</text>
<text x="151" y="447.5" font-size="27.5" text-anchor="start" font-weight="normal" fill="#eeeeff" font-family='"Liberation Sans", sans-serif' textLength="52.5" lengthAdjust="spacingAndGlyphs" transform="rotate(-90 151 447.5)">PLE</text>
<text x="161.8" y="395.5" font-size="15.5" text-anchor="start" font-weight="normal" fill="#eeeeff" font-family='"Liberation Sans", sans-serif' textLength="132" lengthAdjust="spacingAndGlyphs" fill-opacity="0.88">NPL Absorptions</text>
<polyline points="154.4,388.3 155,389.2 155.6,389.8 156.2,390.8 156.8,392.2 157.4,393.1 158,393.9 158.6,395.2 159.2,395.8 159.8,396.4 160.4,396.8 161,397.3 161.6,398.1 162.2,398.8 162.8,399.8 163.4,400.3 164,401.2 164.6,402 165.2,402.5 165.8,403 166.4,403.5 167,404.2 167.6,405.5 168.2,406 168.8,406.3 169.4,406.9 170,407.5 170.6,408.2 171.2,408.6 171.8,408.7 172.4,409.1 173,410.1 173.6,410.6 174.2,410.9 174.8,411.3 175.4,411.4 176,412 176.6,412.8 177.2,413.1 177.8,413.5 178.4,414.1 179,414.5 179.6,415 180.2,415.6 180.8,415.6 181.4,416.1 182,416.9 182.6,417.2 183.2,417.8 183.8,418.3 184.4,418.8 185,419.5 185.6,419.9 186.2,419.8 186.8,420.1 187.4,421 188,421.4 188.6,421.5 189.2,421.9 189.8,422.5 190.4,422.8 191,423.2 191.6,423.3 192.2,423.5 192.8,423.8 193.4,424.1 194,423.9 194.6,423.9 195.2,423.9 195.8,423.9 196.4,424.2 197,424.1 197.6,423.9 198.2,423.8 198.8,424.2 199.4,424.7 200,425.2 200.6,425.6 201.2,425.9 201.8,426.7 202.4,427.7 203,428.2 203.6,428.8 204.2,429.8 204.8,429.6 205.4,429.5 206,429.9 206.6,430.1 207.2,430.4 207.8,430 208.4,428.8 209,427.3 209.6,425.4 210.2,423.7 210.8,423.8 211.4,426.2 212,429.1 212.6,432.3 213.2,435.2 213.8,435.7 214.4,436.1 215,437 215.6,437.1 216.2,436.7 216.8,437 217.4,437.2 218,436.5 218.6,436.5 219.2,437.2 219.8,437.3 220.4,437.5 221,437.5 221.6,437.4 222.2,436.9 222.8,436.7 223.4,437.1 224,437.4 224.6,437.2 225.2,437 225.8,437.3 226.4,437 227,436.6 227.6,436.9 228.2,437.3 228.8,437.2 229.4,436.7 230,436.8 230.6,436.9 231.2,437 231.8,437.2 232.4,437.1 233,437.2 233.6,437.1 234.2,437.1 234.8,437.4 235.4,437.3 236,437.3 236.6,437.1 237.2,437 237.8,437.1 238.4,436.7 239,436.6 239.6,436.7 240.2,436.6 240.8,436.6 241.4,436.9 242,436.7 242.6,436.5 243.2,436.2 243.8,436.1 244.4,436.3 245,436.2 245.6,435.9 246.2,435.5 246.8,435.3 247.4,435.7 248,436.3 248.6,436.8 249.2,438 249.8,438.8 250.4,439.5 251,440 251.6,440.4 252.2,441 252.8,441.5 253.4,442.1 254,442.6 254.6,443.2 255.2,443.5 255.8,444 256.4,444.8 257,445 257.6,445.3 258.2,445.7 258.8,445.8 259.4,446.3 260,446 260.6,445.4 261.2,445.3 261.8,445.1 262.4,445.1 263,445.4 263.6,445.2 264.2,444.5" fill="none" stroke="#eeeeff" stroke-width="2.6" stroke-linejoin="round" stroke-linecap="round"/>
<line x1="197.2" y1="405.5" x2="197.2" y2="414" stroke="#eeeeff" stroke-width="1.5"/>
<polygon points="197.2,419 194.2,412 200.2,412" fill="#eeeeff"/>
<line x1="210.5" y1="405.5" x2="210.5" y2="414" stroke="#eeeeff" stroke-width="1.5"/>
<polygon points="210.5,419 207.5,412 213.5,412" fill="#eeeeff"/>
<line x1="152.5" y1="456.3" x2="266" y2="456.3" stroke="#eeeeff" stroke-width="1.8"/>
<line x1="152.5" y1="456.3" x2="152.5" y2="461.3" stroke="#eeeeff" stroke-width="1.6"/>
<line x1="171.4" y1="456.3" x2="171.4" y2="459.3" stroke="#eeeeff" stroke-width="1.6"/>
<line x1="190.3" y1="456.3" x2="190.3" y2="461.3" stroke="#eeeeff" stroke-width="1.6"/>
<line x1="209.2" y1="456.3" x2="209.2" y2="459.3" stroke="#eeeeff" stroke-width="1.6"/>
<line x1="228.2" y1="456.3" x2="228.2" y2="461.3" stroke="#eeeeff" stroke-width="1.6"/>
<line x1="247.1" y1="456.3" x2="247.1" y2="459.3" stroke="#eeeeff" stroke-width="1.6"/>
<line x1="266" y1="456.3" x2="266" y2="461.3" stroke="#eeeeff" stroke-width="1.6"/>
<text x="152.5" y="481" font-size="16.5" text-anchor="middle" font-weight="bold" fill="#eeeeff" font-family='"Liberation Sans", sans-serif' textLength="28" lengthAdjust="spacingAndGlyphs" fill-opacity="0.92">400</text>
<text x="190.3" y="481" font-size="16.5" text-anchor="middle" font-weight="bold" fill="#eeeeff" font-family='"Liberation Sans", sans-serif' textLength="28" lengthAdjust="spacingAndGlyphs" fill-opacity="0.92">500</text>
<text x="228.2" y="481" font-size="16.5" text-anchor="middle" font-weight="bold" fill="#eeeeff" font-family='"Liberation Sans", sans-serif' textLength="28" lengthAdjust="spacingAndGlyphs" fill-opacity="0.92">600</text>
<text x="266" y="481" font-size="16.5" text-anchor="middle" font-weight="bold" fill="#eeeeff" font-family='"Liberation Sans", sans-serif' textLength="28" lengthAdjust="spacingAndGlyphs" fill-opacity="0.65">700</text>
<text x="192.2" y="513" font-size="25" text-anchor="start" font-weight="normal" fill="#eeeeff" font-family='"Liberation Sans", sans-serif'>&#955;</text>
<text x="207.7" y="521.3" font-size="17" text-anchor="start" font-weight="normal" fill="#eeeeff" font-family='"Liberation Sans", sans-serif' textLength="17.6" lengthAdjust="spacingAndGlyphs">ex</text>
<text x="408" y="364" font-size="31" text-anchor="start" font-weight="bold" fill="#111" font-family='"Liberation Serif", serif'>(e)</text>
<rect x="486.2" y="392.2" width="307.8" height="224.7" fill="none" stroke="#222" stroke-width="1.6"/>
<line x1="486.2" y1="616.9" x2="486.2" y2="613.9" stroke="#222" stroke-width="1.4"/>
<line x1="486.2" y1="392.2" x2="486.2" y2="395.2" stroke="#222" stroke-width="1.4"/>
<line x1="517" y1="616.9" x2="517" y2="612.4" stroke="#222" stroke-width="1.4"/>
<line x1="517" y1="392.2" x2="517" y2="396.7" stroke="#222" stroke-width="1.4"/>
<line x1="547.8" y1="616.9" x2="547.8" y2="613.9" stroke="#222" stroke-width="1.4"/>
<line x1="547.8" y1="392.2" x2="547.8" y2="395.2" stroke="#222" stroke-width="1.4"/>
<line x1="578.5" y1="616.9" x2="578.5" y2="612.4" stroke="#222" stroke-width="1.4"/>
<line x1="578.5" y1="392.2" x2="578.5" y2="396.7" stroke="#222" stroke-width="1.4"/>
<line x1="609.3" y1="616.9" x2="609.3" y2="613.9" stroke="#222" stroke-width="1.4"/>
<line x1="609.3" y1="392.2" x2="609.3" y2="395.2" stroke="#222" stroke-width="1.4"/>
<line x1="640.1" y1="616.9" x2="640.1" y2="612.4" stroke="#222" stroke-width="1.4"/>
<line x1="640.1" y1="392.2" x2="640.1" y2="396.7" stroke="#222" stroke-width="1.4"/>
<line x1="670.9" y1="616.9" x2="670.9" y2="613.9" stroke="#222" stroke-width="1.4"/>
<line x1="670.9" y1="392.2" x2="670.9" y2="395.2" stroke="#222" stroke-width="1.4"/>
<line x1="701.7" y1="616.9" x2="701.7" y2="612.4" stroke="#222" stroke-width="1.4"/>
<line x1="701.7" y1="392.2" x2="701.7" y2="396.7" stroke="#222" stroke-width="1.4"/>
<line x1="732.4" y1="616.9" x2="732.4" y2="613.9" stroke="#222" stroke-width="1.4"/>
<line x1="732.4" y1="392.2" x2="732.4" y2="395.2" stroke="#222" stroke-width="1.4"/>
<line x1="763.2" y1="616.9" x2="763.2" y2="612.4" stroke="#222" stroke-width="1.4"/>
<line x1="763.2" y1="392.2" x2="763.2" y2="396.7" stroke="#222" stroke-width="1.4"/>
<line x1="794" y1="616.9" x2="794" y2="613.9" stroke="#222" stroke-width="1.4"/>
<line x1="794" y1="392.2" x2="794" y2="395.2" stroke="#222" stroke-width="1.4"/>
<line x1="486.2" y1="616.9" x2="490.7" y2="616.9" stroke="#222" stroke-width="1.4"/>
<line x1="794" y1="616.9" x2="789.5" y2="616.9" stroke="#222" stroke-width="1.4"/>
<line x1="486.2" y1="588.8" x2="489.2" y2="588.8" stroke="#222" stroke-width="1.4"/>
<line x1="794" y1="588.8" x2="791" y2="588.8" stroke="#222" stroke-width="1.4"/>
<line x1="486.2" y1="560.7" x2="490.7" y2="560.7" stroke="#222" stroke-width="1.4"/>
<line x1="794" y1="560.7" x2="789.5" y2="560.7" stroke="#222" stroke-width="1.4"/>
<line x1="486.2" y1="532.6" x2="489.2" y2="532.6" stroke="#222" stroke-width="1.4"/>
<line x1="794" y1="532.6" x2="791" y2="532.6" stroke="#222" stroke-width="1.4"/>
<line x1="486.2" y1="504.5" x2="490.7" y2="504.5" stroke="#222" stroke-width="1.4"/>
<line x1="794" y1="504.5" x2="789.5" y2="504.5" stroke="#222" stroke-width="1.4"/>
<line x1="486.2" y1="476.5" x2="489.2" y2="476.5" stroke="#222" stroke-width="1.4"/>
<line x1="794" y1="476.5" x2="791" y2="476.5" stroke="#222" stroke-width="1.4"/>
<line x1="486.2" y1="448.4" x2="490.7" y2="448.4" stroke="#222" stroke-width="1.4"/>
<line x1="794" y1="448.4" x2="789.5" y2="448.4" stroke="#222" stroke-width="1.4"/>
<line x1="486.2" y1="420.3" x2="489.2" y2="420.3" stroke="#222" stroke-width="1.4"/>
<line x1="794" y1="420.3" x2="791" y2="420.3" stroke="#222" stroke-width="1.4"/>
<line x1="486.2" y1="392.2" x2="490.7" y2="392.2" stroke="#222" stroke-width="1.4"/>
<line x1="794" y1="392.2" x2="789.5" y2="392.2" stroke="#222" stroke-width="1.4"/>
<text x="517" y="638.9" font-size="17.5" text-anchor="middle" font-weight="normal" fill="#222" font-family='"Liberation Sans", sans-serif' textLength="29" lengthAdjust="spacingAndGlyphs">600</text>
<text x="578.5" y="638.9" font-size="17.5" text-anchor="middle" font-weight="normal" fill="#222" font-family='"Liberation Sans", sans-serif' textLength="29" lengthAdjust="spacingAndGlyphs">700</text>
<text x="640.1" y="638.9" font-size="17.5" text-anchor="middle" font-weight="normal" fill="#222" font-family='"Liberation Sans", sans-serif' textLength="29" lengthAdjust="spacingAndGlyphs">800</text>
<text x="701.7" y="638.9" font-size="17.5" text-anchor="middle" font-weight="normal" fill="#222" font-family='"Liberation Sans", sans-serif' textLength="29" lengthAdjust="spacingAndGlyphs">900</text>
<text x="763.2" y="638.9" font-size="17.5" text-anchor="middle" font-weight="normal" fill="#222" font-family='"Liberation Sans", sans-serif' textLength="39" lengthAdjust="spacingAndGlyphs">1000</text>
<text x="517" y="382" font-size="17" text-anchor="middle" font-weight="normal" fill="#222" font-family='"Liberation Sans", sans-serif' textLength="35" lengthAdjust="spacingAndGlyphs">2.07</text>
<text x="578.5" y="382" font-size="17" text-anchor="middle" font-weight="normal" fill="#222" font-family='"Liberation Sans", sans-serif' textLength="35" lengthAdjust="spacingAndGlyphs">1.77</text>
<text x="640.1" y="382" font-size="17" text-anchor="middle" font-weight="normal" fill="#222" font-family='"Liberation Sans", sans-serif' textLength="35" lengthAdjust="spacingAndGlyphs">1.55</text>
<text x="701.7" y="382" font-size="17" text-anchor="middle" font-weight="normal" fill="#222" font-family='"Liberation Sans", sans-serif' textLength="35" lengthAdjust="spacingAndGlyphs">1.38</text>
<text x="763.2" y="382" font-size="17" text-anchor="middle" font-weight="normal" fill="#222" font-family='"Liberation Sans", sans-serif' textLength="35" lengthAdjust="spacingAndGlyphs">1.24</text>
<text x="479" y="622.9" font-size="17" text-anchor="end" font-weight="normal" fill="#222" font-family='"Liberation Sans", sans-serif' textLength="24" lengthAdjust="spacingAndGlyphs">0.0</text>
<text x="479" y="566.7" font-size="17" text-anchor="end" font-weight="normal" fill="#222" font-family='"Liberation Sans", sans-serif' textLength="24" lengthAdjust="spacingAndGlyphs">0.5</text>
<text x="479" y="510.5" font-size="17" text-anchor="end" font-weight="normal" fill="#222" font-family='"Liberation Sans", sans-serif' textLength="24" lengthAdjust="spacingAndGlyphs">1.0</text>
<text x="479" y="454.4" font-size="17" text-anchor="end" font-weight="normal" fill="#222" font-family='"Liberation Sans", sans-serif' textLength="24" lengthAdjust="spacingAndGlyphs">1.5</text>
<text x="479" y="398.2" font-size="17" text-anchor="end" font-weight="normal" fill="#222" font-family='"Liberation Sans", sans-serif' textLength="24" lengthAdjust="spacingAndGlyphs">2.0</text>
<text x="571.3" y="658.5" font-size="18" text-anchor="start" font-weight="normal" fill="#222" font-family='"Liberation Sans", sans-serif' textLength="137.7" lengthAdjust="spacingAndGlyphs">Wavelength (nm)</text>
<text x="446.5" y="561" font-size="18.5" text-anchor="start" font-weight="normal" fill="#222" font-family='"Liberation Sans", sans-serif' textLength="130.5" lengthAdjust="spacingAndGlyphs" transform="rotate(-90 446.5 561)">PL Counts (AU)</text>
<g clip-path="url(#clipe)">
<polyline points="486.2,616 486.6,616.6 486.9,616.3 487.3,615.9 487.7,616.4 488,616.4 488.4,616.3 488.8,617 489.2,616.7 489.5,616.3 489.9,616.3 490.3,616.8 490.6,616.6 491,616.5 491.4,616.5 491.7,616.2 492.1,616.4 492.5,616.4 492.8,616.9 493.2,616.8 493.6,616.3 494,617 494.3,616.4 494.7,616.7 495.1,616.7 495.4,616.2 495.8,616.7 496.2,616.7 496.5,616.7 496.9,616.4 497.3,615.5 497.7,617.2 498,616.5 498.4,616.5 498.8,616.1 499.1,616.6 499.5,617.3 499.9,616 500.2,616.8 500.6,616.5 501,616.9 501.3,616.8 501.7,616.6 502.1,616.2 502.5,616.2 502.8,616.6 503.2,616.3 503.6,616.6 503.9,616.4 504.3,616.4 504.7,616.2 505,616.6 505.4,616.4 505.8,616.3 506.1,616.3 506.5,616.6 506.9,615.7 507.3,616.4 507.6,616 508,616.1 508.4,615.8 508.7,616.9 509.1,615.4 509.5,616.1 509.8,616.3 510.2,615.7 510.6,614.9 510.9,615.4 511.3,615.8 511.7,615.4 512.1,614.6 512.4,615.3 512.8,614.7 513.2,614.5 513.5,613.5 513.9,614.1 514.3,613.1 514.6,613.3 515,612.7 515.4,611.3 515.7,610.5 516.1,610.3 516.5,608.3 516.9,607 517.2,605.9 517.6,604.1 518,602.3 518.3,600.7 518.7,598.7 519.1,596.2 519.4,591.7 519.8,586 520.2,578.4 520.6,570.6 520.9,561.2 521.3,552.1 521.7,543.2 522,533.5 522.4,524.7 522.8,515.7 523.1,506.7 523.5,495.4 523.9,485.2 524.2,475 524.6,465.3 525,456 525.4,447.6 525.7,441.5 526.1,436.1 526.5,430.5 526.8,424.8 527.2,419.3 527.6,414.1 527.9,411.1 528.3,407.6 528.7,405.6 529,404.8 529.4,404.8 529.8,406.2 530.2,409.3 530.5,412.3 530.9,415.3 531.3,419.8 531.6,424.3 532,429.4 532.4,434.1 532.7,438.5 533.1,443.3 533.5,448.5 533.8,453.6 534.2,459.2 534.6,466.1 535,471.6 535.3,477.8 535.7,484.2 536.1,489.3 536.4,494.1 536.8,498.4 537.2,502.8 537.5,507.8 537.9,512 538.3,515.3 538.6,519.6 539,523.3 539.4,527.1 539.8,530.2 540.1,534.6 540.5,537 540.9,540.8 541.2,543.2 541.6,545.7 542,549.2 542.3,551.2 542.7,553.9 543.1,556.4 543.5,558.6 543.8,561.3 544.2,563.6 544.6,565.2 544.9,567.2 545.3,569.8 545.7,572 546,572.6 546.4,574.8 546.8,576.7 547.1,578.7 547.5,580 547.9,581.1 548.3,582.8 548.6,583 549,584.6 549.4,585.6 549.7,587.1 550.1,588.1 550.5,589.1 550.8,589.7 551.2,590.8 551.6,591.7 551.9,592.4 552.3,593.3 552.7,593.7 553.1,595.1 553.4,596.2 553.8,596.6 554.2,596.7 554.5,598.2 554.9,598.6 555.3,599.4 555.6,599.7 556,600.3 556.4,601.3 556.7,601.6 557.1,601.6 557.5,602 557.9,602.5 558.2,602.8 558.6,603.6 559,603.9 559.3,603.8 559.7,604.8 560.1,604.7 560.4,605.6 560.8,605.4 561.2,605.8 561.5,606.2 561.9,605.8 562.3,606.5 562.7,606.6 563,606.8 563.4,607.2 563.8,606.6 564.1,607.6 564.5,607.5 564.9,608.3 565.2,608.2 565.6,608.3 566,608.5 566.4,608.8 566.7,608.7 567.1,608.3 567.5,609.1 567.8,609.3 568.2,609.5 568.6,608.5 568.9,609 569.3,609.5 569.7,609.5 570,610.2 570.4,610.1 570.8,610 571.2,610.1 571.5,610.6 571.9,610.6 572.3,610.1 572.6,610.3 573,611.3 573.4,610.4 573.7,610 574.1,610.8 574.5,610.5 574.8,611.2 575.2,610.3 575.6,611.2 576,611.3 576.3,610.9 576.7,609.7 577.1,611 577.4,611.4 577.8,610.6 578.2,610.7 578.5,610.1 578.9,611.4 579.3,611.6 579.6,611 580,610.7 580.4,610.7 580.8,610.3 581.1,611.5 581.5,611.2 581.9,610.9 582.2,610.4 582.6,610.5 583,611 583.3,611.2 583.7,610.3 584.1,610.2 584.4,609.3 584.8,610.7 585.2,609.8 585.6,611.2 585.9,610.8 586.3,610.8 586.7,610.7 587,610.9 587.4,610.7 587.8,610.4 588.1,610.5 588.5,609.9 588.9,610.2 589.3,610.2 589.6,609.3 590,609.9 590.4,609.9 590.7,610 591.1,609.9 591.5,609.5 591.8,610.3 592.2,609.1 592.6,608.7 592.9,608.9 593.3,609.8 593.7,610.4 594.1,609.6 594.4,609.1 594.8,608.6 595.2,609.1 595.5,609.1 595.9,607.8 596.3,609.1 596.6,607.9 597,607.9 597.4,609.2 597.7,608 598.1,608.4 598.5,608.6 598.9,609.1 599.2,608.8 599.6,607.3 600,607.7 600.3,607.1 600.7,607.9 601.1,607.2 601.4,607 601.8,607.8 602.2,607.7 602.5,606 602.9,606 603.3,606.7 603.7,605.8 604,605.1 604.4,603.9 604.8,605.9 605.1,604.5 605.5,603.1 605.9,604.5 606.2,603.2 606.6,606.3 607,602.7 607.4,603.7 607.7,605.1 608.1,602.6 608.5,602.1 608.8,601.7 609.2,601.5 609.6,602.4 609.9,602.8 610.3,602.3 610.7,601.6 611,601 611.4,601.6 611.8,600.8 612.2,599.8 612.5,600.1 612.9,597.9 613.3,597.8 613.6,600.8 614,599.9 614.4,600.4 614.7,600.1 615.1,598.1 615.5,599.4 615.8,599.2 616.2,598.2 616.6,596.8 617,597.7 617.3,597.5 617.7,595.9 618.1,596.1 618.4,595.9 618.8,595.1 619.2,597 619.5,595.4 619.9,596.1 620.3,593.9 620.6,593.9 621,595.9 621.4,592.8 621.8,595.6 622.1,592.5 622.5,593.4 622.9,594.5 623.2,594.5 623.6,593.3 624,592.6 624.3,593.3 624.7,591.4 625.1,593.7 625.4,591.6 625.8,591.3 626.2,593.5 626.6,590.3 626.9,592.2 627.3,593.7 627.7,590.8 628,590 628.4,588.1 628.8,589.8 629.1,586.7 629.5,586.5 629.9,586.7 630.3,586.1 630.6,587.2 631,588.3 631.4,586.2 631.7,585.5 632.1,586.3 632.5,586.8 632.8,588.5 633.2,584.7 633.6,585 633.9,587.3 634.3,584.8 634.7,583.5 635.1,584.6 635.4,582.8 635.8,582.6 636.2,586 636.5,583.8 636.9,582.1 637.3,581.1 637.6,580 638,585.4 638.4,581.9 638.7,580.3 639.1,579.1 639.5,577.9 639.9,582.4 640.2,581 640.6,582 641,578.3 641.3,581.9 641.7,577 642.1,577.1 642.4,577.6 642.8,582.4 643.2,579.2 643.5,576.2 643.9,580.1 644.3,577.4 644.7,576.9 645,574.6 645.4,575.5 645.8,575.2 646.1,576.3 646.5,575.1 646.9,575 647.2,572.9 647.6,574.5 648,571.6 648.3,577 648.7,570.6 649.1,573.2 649.5,570.1 649.8,572 650.2,570.1 650.6,568.3 650.9,572.5 651.3,570.8 651.7,571 652,569.9 652.4,573.7 652.8,570.2 653.2,570.1 653.5,571 653.9,569.4 654.3,572.2 654.6,565.2 655,567.1 655.4,563.5 655.7,569.6 656.1,570 656.5,566.4 656.8,570.7 657.2,565.9 657.6,567.8 658,566.7 658.3,565 658.7,565.2 659.1,560.5 659.4,563.2 659.8,567.5 660.2,561.7 660.5,567.1 660.9,563.3 661.3,566.3 661.6,565 662,559.4 662.4,563.8 662.8,563.8 663.1,563.3 663.5,562.4 663.9,557.7 664.2,564.2 664.6,564.1 665,559.2 665.3,564.6 665.7,561.2 666.1,557.2 666.4,559.9 666.8,561 667.2,561.5 667.6,561.9 667.9,560.9 668.3,558.9 668.7,555.9 669,556.5 669.4,560.5 669.8,560.9 670.1,557 670.5,563.7 670.9,560 671.2,559.6 671.6,561.7 672,561.3 672.4,557.6 672.7,563 673.1,561 673.5,560.2 673.8,558.2 674.2,562.1 674.6,555.4 674.9,559.1 675.3,559 675.7,559.2 676.1,560 676.4,560.9 676.8,555 677.2,557.6 677.5,558.4 677.9,555.4 678.3,560.1 678.6,556.4 679,558 679.4,560.6 679.7,556 680.1,562.3 680.5,556.5 680.9,560.8 681.2,557.4 681.6,554.8 682,557.3 682.3,560.7 682.7,559.2 683.1,560.4 683.4,562.8 683.8,562.8 684.2,559.8 684.5,558.6 684.9,565.1 685.3,560.6 685.7,559.2 686,560.4 686.4,563.6 686.8,558 687.1,564.3 687.5,559.2 687.9,556.7 688.2,566.7 688.6,560.5 689,560.3 689.3,560.6 689.7,563.4 690.1,562.2 690.5,565.1 690.8,561 691.2,559.9 691.6,563.2 691.9,563.9 692.3,562.7 692.7,561.5 693,561.3 693.4,561.8 693.8,561.4 694.1,565.1 694.5,568.9 694.9,560 695.3,557.9 695.6,565.5 696,563.5 696.4,561 696.7,559.3 697.1,560.1 697.5,558.5 697.8,562.1 698.2,560.9 698.6,561 699,563.2 699.3,559.1 699.7,560.7 700.1,559.9 700.4,563.6 700.8,560.1 701.2,565.7 701.5,562.2 701.9,570.1 702.3,566.3 702.6,562.2 703,565.5 703.4,564.2 703.8,569 704.1,561.5 704.5,564.2 704.9,566.1 705.2,565.4 705.6,566 706,563.7 706.3,567 706.7,571.5 707.1,568.9 707.4,565.6 707.8,567.7 708.2,570.4 708.6,568.3 708.9,569.8 709.3,569 709.7,574.4 710,573.2 710.4,569.9 710.8,572.3 711.1,571.3 711.5,568 711.9,573.5 712.2,572.7 712.6,574.8 713,575.3 713.4,574.5 713.7,577.9 714.1,579.7 714.5,572.5 714.8,576.1 715.2,573.8 715.6,576.3 715.9,576.7 716.3,575.9 716.7,576.2 717.1,580.7 717.4,576 717.8,580.9 718.2,578.9 718.5,574.4 718.9,579.9 719.3,577.1 719.6,581.5 720,580 720.4,581.5 720.7,581.1 721.1,584 721.5,584.5 721.9,582.4 722.2,586.4 722.6,585.3 723,582.8 723.3,585.6 723.7,586.4 724.1,587.2 724.4,585.2 724.8,586.5 725.2,585.9 725.5,586.8 725.9,583.5 726.3,588 726.7,591 727,587.7 727.4,588.2 727.8,588.3 728.1,591.7 728.5,587.3 728.9,589.6 729.2,590 729.6,592.9 730,589.8 730.3,591 730.7,589 731.1,592.3 731.5,593.9 731.8,592 732.2,594 732.6,592.2 732.9,594.9 733.3,593.7 733.7,594.2 734,594.2 734.4,595.3 734.8,596 735.1,595.2 735.5,596.2 735.9,595.5 736.3,596.4 736.6,599.5 737,596.6 737.4,594.9 737.7,596.7 738.1,596.5 738.5,597 738.8,598.6 739.2,600 739.6,597.4 740,597.3 740.3,598.2 740.7,598.7 741.1,599 741.4,599.8 741.8,599.7 742.2,600.3 742.5,600.2 742.9,602 743.3,601.9 743.6,600.7 744,602 744.4,604.8 744.8,602 745.1,605.1 745.5,600.4 745.9,602.1 746.2,602.4 746.6,604.2 747,604.9 747.3,604.2 747.7,604.2 748.1,605.3 748.4,604.5 748.8,604.2 749.2,604.5 749.6,606.5 749.9,607.8 750.3,605.8 750.7,606.7 751,605.8 751.4,604.8 751.8,605 752.1,606.6 752.5,606 752.9,605.7 753.2,607.4 753.6,607.4 754,607 754.4,608.1 754.7,608.7 755.1,609 755.5,608.5 755.8,609.2 756.2,608.1 756.6,609.3 756.9,607.9 757.3,608.2 757.7,610.4 758,608.6 758.4,610 758.8,608.6 759.2,609.4 759.5,610 759.9,609.5 760.3,610.6 760.6,610 761,610.1 761.4,610.6 761.7,610.3 762.1,611.5 762.5,610.4 762.9,611.9 763.2,610.6 763.6,610.8 764,610.7 764.3,611.8 764.7,609.3 765.1,611.7 765.4,611.6 765.8,612.3 766.2,610.9 766.5,612.3 766.9,611.4 767.3,612.8 767.7,612 768,612.6 768.4,611.8 768.8,612.7 769.1,613.1 769.5,612.4 769.9,613.5 770.2,613.4 770.6,612.4 771,614.1 771.3,612.5 771.7,613.3 772.1,613.7 772.5,613 772.8,612.9 773.2,613.6 773.6,613.4 773.9,612.9 774.3,613 774.7,613.5 775,613.9 775.4,614.1 775.8,613.9 776.1,613.2 776.5,613.3 776.9,613.5 777.3,612.9 777.6,613.8 778,613.9 778.4,613.9 778.7,612.7 779.1,614.7 779.5,613.5 779.8,613.4 780.2,613.6 780.6,612.5 780.9,613 781.3,613.2 781.7,614 782.1,613.3 782.4,613.7 782.8,613.5 783.2,613.4 783.5,613.7 783.9,613.2 784.3,612.7 784.6,612.9 785,613.3 785.4,614.2 785.8,612.8 786.1,612.7 786.5,613.3 786.9,613.3 787.2,612.8 787.6,613.4 788,612.6 788.3,613.3 788.7,613.2 789.1,612.7 789.4,613.2 789.8,612.5 790.2,612.2 790.6,612.7 790.9,610.9 791.3,610.2 791.7,608.2 792,607.1 792.4,606.3 792.8,605.4 793.1,605 793.5,603.8 793.9,602.9" fill="none" stroke="#ff1010" stroke-width="2" stroke-linejoin="round" stroke-linecap="round"/>
<polyline points="486.2,615.9 486.6,616.1 486.9,617.1 487.3,616.2 487.7,616.5 488,616.7 488.4,616.4 488.8,616.2 489.2,616.8 489.5,616.7 489.9,616.5 490.3,617 490.6,616.5 491,616.6 491.4,616.8 491.7,616.9 492.1,616.4 492.5,616.2 492.8,616.4 493.2,616.9 493.6,616.2 494,616.5 494.3,616.3 494.7,616.1 495.1,616.9 495.4,616.6 495.8,616.8 496.2,616.9 496.5,615.7 496.9,616.2 497.3,617.3 497.7,616.4 498,616.8 498.4,616.1 498.8,616.5 499.1,616.6 499.5,616.5 499.9,616.4 500.2,616.5 500.6,616.6 501,616.6 501.3,616.3 501.7,617 502.1,616.5 502.5,616.6 502.8,616.7 503.2,616.2 503.6,617.1 503.9,616.7 504.3,616.9 504.7,616.3 505,616.7 505.4,616.5 505.8,616.4 506.1,617.2 506.5,616.3 506.9,616.9 507.3,616.6 507.6,616.6 508,616.2 508.4,616.2 508.7,615.8 509.1,616.5 509.5,616.7 509.8,616.7 510.2,616.3 510.6,615.9 510.9,616.4 511.3,616.8 511.7,616.4 512.1,616.4 512.4,616.5 512.8,616.8 513.2,617.6 513.5,616.8 513.9,616.1 514.3,616.4 514.6,617.5 515,616.5 515.4,617.3 515.7,615.7 516.1,616.4 516.5,617 516.9,616.2 517.2,616.9 517.6,616.3 518,616.5 518.3,617 518.7,616.2 519.1,617.1 519.4,616 519.8,616.5 520.2,617 520.6,617.3 520.9,615.8 521.3,615.9 521.7,617.1 522,615.8 522.4,616.5 522.8,616.6 523.1,616.6 523.5,616.6 523.9,615.9 524.2,616.5 524.6,617.3 525,615.6 525.4,616.1 525.7,617 526.1,616.7 526.5,616.9 526.8,616.5 527.2,616.3 527.6,616.4 527.9,616.8 528.3,616.9 528.7,616.2 529,616.6 529.4,615.6 529.8,616.9 530.2,616.2 530.5,616.5 530.9,616.8 531.3,615.9 531.6,616.5 532,616.9 532.4,616.6 532.7,616.1 533.1,617 533.5,615.9 533.8,616.2 534.2,616.6 534.6,615.9 535,615.8 535.3,616.2 535.7,616.4 536.1,615.7 536.4,615.9 536.8,616.9 537.2,616.6 537.5,616.6 537.9,616.7 538.3,617.1 538.6,616.1 539,616.5 539.4,616.5 539.8,615.9 540.1,616.7 540.5,616.5 540.9,616.4 541.2,616.7 541.6,616.5 542,616.2 542.3,616.5 542.7,615.9 543.1,616.8 543.5,616.4 543.8,617.1 544.2,616.5 544.6,616.8 544.9,615.9 545.3,616.2 545.7,616.3 546,615.7 546.4,615.9 546.8,616.2 547.1,616.8 547.5,617.1 547.9,616.5 548.3,616.6 548.6,616.8 549,616.6 549.4,617.2 549.7,615.8 550.1,617 550.5,616.8 550.8,616.2 551.2,617.2 551.6,616.1 551.9,616.1 552.3,616.6 552.7,616.9 553.1,616.7 553.4,617.3 553.8,615.9 554.2,616.4 554.5,616.8 554.9,616.9 555.3,616.2 555.6,615.8 556,617 556.4,616.7 556.7,617.2 557.1,616.2 557.5,616.4 557.9,615.5 558.2,616.5 558.6,616.6 559,616.8 559.3,616.1 559.7,617.2 560.1,616.1 560.4,616.3 560.8,616.7 561.2,616.9 561.5,616 561.9,615.6 562.3,616.6 562.7,616.2 563,615.7 563.4,616.7 563.8,616.5 564.1,617 564.5,616.5 564.9,616.5 565.2,616.6 565.6,616.8 566,617.1 566.4,617 566.7,616.9 567.1,616.1 567.5,616.6 567.8,616.8 568.2,616.1 568.6,616.1 568.9,616.8 569.3,616.7 569.7,616.1 570,616.2 570.4,616.8 570.8,616.3 571.2,616.4 571.5,615.9 571.9,616.8 572.3,616 572.6,616.2 573,616.8 573.4,615.9 573.7,615.9 574.1,617 574.5,615.4 574.8,616.9 575.2,616.8 575.6,616.5 576,616 576.3,616 576.7,616.4 577.1,615.6 577.4,616.1 577.8,615.6 578.2,614.9 578.5,616.2 578.9,617.6 579.3,616.5 579.6,616.8 580,616.2 580.4,616.2 580.8,616.9 581.1,616.8 581.5,616.4 581.9,616.3 582.2,617.5 582.6,615.7 583,616.2 583.3,616.2 583.7,616.1 584.1,616.7 584.4,616.2 584.8,615.6 585.2,615.6 585.6,615.9 585.9,616.3 586.3,616.6 586.7,615.5 587,615.9 587.4,616.4 587.8,617.3 588.1,616.6 588.5,617.1 588.9,615.4 589.3,616 589.6,616.5 590,616.2 590.4,614.6 590.7,615.4 591.1,616.8 591.5,616.1 591.8,616.7 592.2,617 592.6,615.9 592.9,614.6 593.3,615.1 593.7,616 594.1,616.2 594.4,615.8 594.8,615.4 595.2,616.8 595.5,617 595.9,614.8 596.3,615.7 596.6,615 597,615.7 597.4,615 597.7,616.2 598.1,615.6 598.5,614.9 598.9,615.2 599.2,616.1 599.6,615.3 600,616.2 600.3,616.7 600.7,615.4 601.1,614.9 601.4,615.2 601.8,616.5 602.2,615.2 602.5,615.3 602.9,616 603.3,617.3 603.7,615 604,615.1 604.4,615.3 604.8,616.8 605.1,616.6 605.5,614.9 605.9,615.1 606.2,615.2 606.6,615.7 607,615.3 607.4,615.9 607.7,615.7 608.1,616.1 608.5,615.3 608.8,615.8 609.2,614.8 609.6,614.9 609.9,616 610.3,614.1 610.7,616.2 611,615.1 611.4,614.6 611.8,614.4 612.2,616.9 612.5,614.6 612.9,614.4 613.3,614.2 613.6,616.9 614,615.8 614.4,615.3 614.7,615.6 615.1,614.2 615.5,615.7 615.8,614.2 616.2,614.7 616.6,616.3 617,615.9 617.3,615.5 617.7,615 618.1,614.3 618.4,615.2 618.8,614.3 619.2,616.3 619.5,617.5 619.9,615.2 620.3,614.6 620.6,615.2 621,615.7 621.4,614.5 621.8,613.2 622.1,614.9 622.5,615.3 622.9,615.4 623.2,612.9 623.6,614.6 624,614 624.3,613.4 624.7,613.4 625.1,615.1 625.4,613.4 625.8,613.4 626.2,613.7 626.6,613.1 626.9,614.5 627.3,613.9 627.7,614.3 628,613 628.4,614.2 628.8,613.2 629.1,614.5 629.5,613.5 629.9,613.6 630.3,613.3 630.6,612.9 631,613.1 631.4,613.1 631.7,614.8 632.1,611.6 632.5,613.2 632.8,612.7 633.2,613.2 633.6,611.3 633.9,613.1 634.3,611.6 634.7,610.8 635.1,610.2 635.4,610.5 635.8,611 636.2,612.8 636.5,610.1 636.9,610.1 637.3,610.4 637.6,610.3 638,611 638.4,611.5 638.7,609.7 639.1,609.4 639.5,611.8 639.9,609.6 640.2,610.2 640.6,609.4 641,610 641.3,609 641.7,609 642.1,609 642.4,611.5 642.8,608.9 643.2,609.7 643.5,610.9 643.9,608.7 644.3,611 644.7,608.2 645,607.2 645.4,609.7 645.8,607.9 646.1,608.3 646.5,608 646.9,610.3 647.2,607.8 647.6,608.3 648,607.4 648.3,608.2 648.7,606.7 649.1,607.6 649.5,607 649.8,606 650.2,607.4 650.6,606.2 650.9,607.1 651.3,606.6 651.7,607.9 652,606 652.4,605.3 652.8,606.9 653.2,605.7 653.5,606 653.9,608 654.3,605.9 654.6,604.5 655,606.8 655.4,608.5 655.7,605.6 656.1,606.7 656.5,603.1 656.8,605.6 657.2,605.5 657.6,606.2 658,604.9 658.3,605.9 658.7,606.3 659.1,605 659.4,606 659.8,602.8 660.2,606.3 660.5,604.6 660.9,605.4 661.3,606.3 661.6,601.7 662,607.1 662.4,601.7 662.8,605.9 663.1,603.5 663.5,600.1 663.9,606.6 664.2,605.4 664.6,601.2 665,602.8 665.3,603.8 665.7,602.9 666.1,604.2 666.4,602.4 666.8,600.2 667.2,603 667.6,602.1 667.9,600.3 668.3,598.9 668.7,602.9 669,601.3 669.4,602.6 669.8,602.6 670.1,602.1 670.5,602.4 670.9,604 671.2,604.3 671.6,602.2 672,600.7 672.4,598.8 672.7,601.5 673.1,600.8 673.5,599.4 673.8,599.1 674.2,600.4 674.6,600.2 674.9,596.9 675.3,600.5 675.7,600.6 676.1,602.4 676.4,598.9 676.8,599.9 677.2,596.1 677.5,599.9 677.9,597.8 678.3,597.5 678.6,596.2 679,601.2 679.4,596.1 679.7,598.7 680.1,598.8 680.5,599.1 680.9,599.1 681.2,598.9 681.6,602.3 682,597.2 682.3,597.9 682.7,599.6 683.1,598 683.4,593.7 683.8,597 684.2,598.2 684.5,594.4 684.9,598.8 685.3,597.5 685.7,598.2 686,597.5 686.4,595.7 686.8,595.8 687.1,598.1 687.5,596.9 687.9,596.5 688.2,597.3 688.6,596.5 689,597.7 689.3,597.6 689.7,596.1 690.1,598 690.5,595.2 690.8,596.3 691.2,597.5 691.6,596.9 691.9,596.6 692.3,595.9 692.7,595.3 693,595.8 693.4,597 693.8,592.7 694.1,593.5 694.5,594.9 694.9,593.3 695.3,594.4 695.6,595.4 696,594.7 696.4,589.9 696.7,592.9 697.1,592.7 697.5,595.3 697.8,593.4 698.2,590.3 698.6,593.6 699,592.4 699.3,592 699.7,593.1 700.1,591.3 700.4,593.7 700.8,593.2 701.2,595.2 701.5,589.1 701.9,593.4 702.3,593.7 702.6,591.3 703,594.7 703.4,593.7 703.8,595.1 704.1,593.6 704.5,594.3 704.9,592.6 705.2,593.8 705.6,594.6 706,594 706.3,593.7 706.7,594.4 707.1,591.8 707.4,592.3 707.8,593.2 708.2,595.7 708.6,592.6 708.9,596 709.3,593.4 709.7,593.7 710,595 710.4,595.5 710.8,595.3 711.1,590.4 711.5,594.8 711.9,594.8 712.2,592.8 712.6,593.9 713,592.9 713.4,597.2 713.7,597.1 714.1,589.2 714.5,595.5 714.8,596.1 715.2,595.4 715.6,594.1 715.9,598.1 716.3,595.6 716.7,596.4 717.1,595.3 717.4,596.3 717.8,597.7 718.2,598.4 718.5,601.3 718.9,595.5 719.3,599.9 719.6,598.2 720,594.7 720.4,598.5 720.7,596.9 721.1,598.5 721.5,597 721.9,598.4 722.2,599.5 722.6,596.5 723,599.4 723.3,601.4 723.7,599.9 724.1,598.6 724.4,601.6 724.8,598.5 725.2,598.8 725.5,596.7 725.9,601.5 726.3,599.5 726.7,603.6 727,601.7 727.4,601.1 727.8,600.8 728.1,601.7 728.5,602 728.9,603 729.2,603 729.6,601.9 730,601.7 730.3,601.8 730.7,601.4 731.1,601.3 731.5,606.3 731.8,604.4 732.2,604.1 732.6,605 732.9,602.5 733.3,603.2 733.7,604.7 734,604.6 734.4,603 734.8,605.6 735.1,605.8 735.5,604 735.9,604.9 736.3,603.6 736.6,605.4 737,604.9 737.4,607.1 737.7,607.8 738.1,606.5 738.5,610.6 738.8,606.2 739.2,605.5 739.6,606.9 740,607.5 740.3,605.7 740.7,607.5 741.1,606.2 741.4,604.5 741.8,606.8 742.2,606.6 742.5,607.4 742.9,607.8 743.3,607.9 743.6,608.3 744,607 744.4,610.9 744.8,609.2 745.1,608 745.5,610.2 745.9,609.3 746.2,610.2 746.6,608.8 747,608.3 747.3,607.7 747.7,609 748.1,610.8 748.4,609.6 748.8,609.3 749.2,608.3 749.6,613 749.9,609.9 750.3,612.8 750.7,609.6 751,610.1 751.4,610.1 751.8,609.7 752.1,610.5 752.5,611.9 752.9,610.7 753.2,609.7 753.6,611.5 754,611.4 754.4,613 754.7,610.2 755.1,612.3 755.5,612.6 755.8,612.4 756.2,612.9 756.6,612.3 756.9,610.6 757.3,611.2 757.7,610.6 758,610.6 758.4,613.4 758.8,611.9 759.2,610.8 759.5,610 759.9,614.2 760.3,614.3 760.6,612.2 761,613.2 761.4,614 761.7,612.5 762.1,613.9 762.5,615.5 762.9,613.2 763.2,613.1 763.6,612.6 764,612.3 764.3,613.2 764.7,613.7 765.1,614.2 765.4,615.3 765.8,614.1 766.2,612.7 766.5,613.1 766.9,611.7 767.3,614 767.7,615.7 768,613.1 768.4,613 768.8,615.2 769.1,615.7 769.5,614 769.9,613.5 770.2,615.3 770.6,614.6 771,615.1 771.3,615.5 771.7,615.7 772.1,614.4 772.5,614.9 772.8,615.2 773.2,617 773.6,613.1 773.9,615.6 774.3,614.9 774.7,615.8 775,614.5 775.4,616.2 775.8,614.8 776.1,615.1 776.5,614.2 776.9,615.9 777.3,615.6 777.6,615.2 778,613.3 778.4,616.3 778.7,614.9 779.1,615.7 779.5,614.9 779.8,614.6 780.2,615.1 780.6,615 780.9,615 781.3,615.7 781.7,615.4 782.1,616.6 782.4,615.6 782.8,615.9 783.2,615.5 783.5,614.8 783.9,615.1 784.3,615 784.6,614.6 785,617.2 785.4,615.1 785.8,615.5 786.1,615.5 786.5,616.5 786.9,615.1 787.2,614.7 787.6,614.8 788,615.6 788.3,615.1 788.7,614.9 789.1,614.3 789.4,614.7 789.8,615.5 790.2,615.6 790.6,615.5 790.9,615.5 791.3,616 791.7,615.1 792,616.2 792.4,616.3 792.8,615.5 793.1,616.1 793.5,615.9 793.9,617.2" fill="none" stroke="#0a0a0a" stroke-width="2.2" stroke-linejoin="round" stroke-linecap="round"/>
</g>
<rect x="582.9" y="399.8" width="203.1" height="47.7" fill="#fff" stroke="#bbb" stroke-width="1"/>
<line x1="585.5" y1="412.7" x2="625.6" y2="412.7" stroke="#ff2020" stroke-width="2"/>
<line x1="585.5" y1="434.6" x2="625.6" y2="434.6" stroke="#222" stroke-width="2"/>
<text x="630.5" y="418.7" font-size="18" text-anchor="start" font-weight="normal" fill="#1a1a1a" font-family='"Liberation Sans", sans-serif' textLength="152" lengthAdjust="spacingAndGlyphs">Heterostructure PL</text>
<text x="630.5" y="440.5" font-size="18" text-anchor="start" font-weight="normal" fill="#1a1a1a" font-family='"Liberation Sans", sans-serif' textLength="101" lengthAdjust="spacingAndGlyphs">PbS-CdS PL</text>
<text x="831.5" y="374" font-size="31" text-anchor="start" font-weight="bold" fill="#111" font-family='"Liberation Serif", serif'>(f)</text>
<rect x="894.6" y="411.2" width="289.2" height="211.3" fill="none" stroke="#222" stroke-width="1.6"/>
<line x1="911.6" y1="622.5" x2="911.6" y2="618" stroke="#222" stroke-width="1.4"/>
<line x1="911.6" y1="411.2" x2="911.6" y2="415.7" stroke="#222" stroke-width="1.4"/>
<line x1="945.6" y1="622.5" x2="945.6" y2="619.5" stroke="#222" stroke-width="1.4"/>
<line x1="945.6" y1="411.2" x2="945.6" y2="414.2" stroke="#222" stroke-width="1.4"/>
<line x1="979.7" y1="622.5" x2="979.7" y2="618" stroke="#222" stroke-width="1.4"/>
<line x1="979.7" y1="411.2" x2="979.7" y2="415.7" stroke="#222" stroke-width="1.4"/>
<line x1="1013.7" y1="622.5" x2="1013.7" y2="619.5" stroke="#222" stroke-width="1.4"/>
<line x1="1013.7" y1="411.2" x2="1013.7" y2="414.2" stroke="#222" stroke-width="1.4"/>
<line x1="1047.7" y1="622.5" x2="1047.7" y2="618" stroke="#222" stroke-width="1.4"/>
<line x1="1047.7" y1="411.2" x2="1047.7" y2="415.7" stroke="#222" stroke-width="1.4"/>
<line x1="1081.7" y1="622.5" x2="1081.7" y2="619.5" stroke="#222" stroke-width="1.4"/>
<line x1="1081.7" y1="411.2" x2="1081.7" y2="414.2" stroke="#222" stroke-width="1.4"/>
<line x1="1115.8" y1="622.5" x2="1115.8" y2="618" stroke="#222" stroke-width="1.4"/>
<line x1="1115.8" y1="411.2" x2="1115.8" y2="415.7" stroke="#222" stroke-width="1.4"/>
<line x1="1149.8" y1="622.5" x2="1149.8" y2="619.5" stroke="#222" stroke-width="1.4"/>
<line x1="1149.8" y1="411.2" x2="1149.8" y2="414.2" stroke="#222" stroke-width="1.4"/>
<line x1="1183.8" y1="622.5" x2="1183.8" y2="618" stroke="#222" stroke-width="1.4"/>
<line x1="1183.8" y1="411.2" x2="1183.8" y2="415.7" stroke="#222" stroke-width="1.4"/>
<line x1="894.6" y1="622.5" x2="899.1" y2="622.5" stroke="#222" stroke-width="1.4"/>
<line x1="1183.8" y1="622.5" x2="1179.3" y2="622.5" stroke="#222" stroke-width="1.4"/>
<line x1="894.6" y1="604.9" x2="897.6" y2="604.9" stroke="#222" stroke-width="1.4"/>
<line x1="1183.8" y1="604.9" x2="1180.8" y2="604.9" stroke="#222" stroke-width="1.4"/>
<line x1="894.6" y1="587.3" x2="899.1" y2="587.3" stroke="#222" stroke-width="1.4"/>
<line x1="1183.8" y1="587.3" x2="1179.3" y2="587.3" stroke="#222" stroke-width="1.4"/>
<line x1="894.6" y1="569.7" x2="897.6" y2="569.7" stroke="#222" stroke-width="1.4"/>
<line x1="1183.8" y1="569.7" x2="1180.8" y2="569.7" stroke="#222" stroke-width="1.4"/>
<line x1="894.6" y1="552.1" x2="899.1" y2="552.1" stroke="#222" stroke-width="1.4"/>
<line x1="1183.8" y1="552.1" x2="1179.3" y2="552.1" stroke="#222" stroke-width="1.4"/>
<line x1="894.6" y1="534.5" x2="897.6" y2="534.5" stroke="#222" stroke-width="1.4"/>
<line x1="1183.8" y1="534.5" x2="1180.8" y2="534.5" stroke="#222" stroke-width="1.4"/>
<line x1="894.6" y1="516.9" x2="899.1" y2="516.9" stroke="#222" stroke-width="1.4"/>
<line x1="1183.8" y1="516.9" x2="1179.3" y2="516.9" stroke="#222" stroke-width="1.4"/>
<line x1="894.6" y1="499.2" x2="897.6" y2="499.2" stroke="#222" stroke-width="1.4"/>
<line x1="1183.8" y1="499.2" x2="1180.8" y2="499.2" stroke="#222" stroke-width="1.4"/>
<line x1="894.6" y1="481.6" x2="899.1" y2="481.6" stroke="#222" stroke-width="1.4"/>
<line x1="1183.8" y1="481.6" x2="1179.3" y2="481.6" stroke="#222" stroke-width="1.4"/>
<line x1="894.6" y1="464" x2="897.6" y2="464" stroke="#222" stroke-width="1.4"/>
<line x1="1183.8" y1="464" x2="1180.8" y2="464" stroke="#222" stroke-width="1.4"/>
<line x1="894.6" y1="446.4" x2="899.1" y2="446.4" stroke="#222" stroke-width="1.4"/>
<line x1="1183.8" y1="446.4" x2="1179.3" y2="446.4" stroke="#222" stroke-width="1.4"/>
<line x1="894.6" y1="428.8" x2="897.6" y2="428.8" stroke="#222" stroke-width="1.4"/>
<line x1="1183.8" y1="428.8" x2="1180.8" y2="428.8" stroke="#222" stroke-width="1.4"/>
<line x1="894.6" y1="411.2" x2="899.1" y2="411.2" stroke="#222" stroke-width="1.4"/>
<line x1="1183.8" y1="411.2" x2="1179.3" y2="411.2" stroke="#222" stroke-width="1.4"/>
<text x="911.6" y="643.7" font-size="16.5" text-anchor="middle" font-weight="normal" fill="#222" font-family='"Liberation Sans", sans-serif' textLength="28.3" lengthAdjust="spacingAndGlyphs">800</text>
<text x="979.7" y="643.7" font-size="16.5" text-anchor="middle" font-weight="normal" fill="#222" font-family='"Liberation Sans", sans-serif' textLength="28.3" lengthAdjust="spacingAndGlyphs">840</text>
<text x="1047.7" y="643.7" font-size="16.5" text-anchor="middle" font-weight="normal" fill="#222" font-family='"Liberation Sans", sans-serif' textLength="28.3" lengthAdjust="spacingAndGlyphs">880</text>
<text x="1115.8" y="643.7" font-size="16.5" text-anchor="middle" font-weight="normal" fill="#222" font-family='"Liberation Sans", sans-serif' textLength="28.3" lengthAdjust="spacingAndGlyphs">920</text>
<text x="1183.8" y="643.7" font-size="16.5" text-anchor="middle" font-weight="normal" fill="#222" font-family='"Liberation Sans", sans-serif' textLength="28.3" lengthAdjust="spacingAndGlyphs">960</text>
<text x="911.6" y="402.2" font-size="16.5" text-anchor="middle" font-weight="normal" fill="#222" font-family='"Liberation Sans", sans-serif' textLength="33" lengthAdjust="spacingAndGlyphs">1.55</text>
<text x="979.7" y="402.2" font-size="16.5" text-anchor="middle" font-weight="normal" fill="#222" font-family='"Liberation Sans", sans-serif' textLength="33" lengthAdjust="spacingAndGlyphs">1.48</text>
<text x="1047.7" y="402.2" font-size="16.5" text-anchor="middle" font-weight="normal" fill="#222" font-family='"Liberation Sans", sans-serif' textLength="33" lengthAdjust="spacingAndGlyphs">1.41</text>
<text x="1115.8" y="402.2" font-size="16.5" text-anchor="middle" font-weight="normal" fill="#222" font-family='"Liberation Sans", sans-serif' textLength="33" lengthAdjust="spacingAndGlyphs">1.35</text>
<text x="1183.8" y="402.2" font-size="16.5" text-anchor="middle" font-weight="normal" fill="#222" font-family='"Liberation Sans", sans-serif' textLength="33" lengthAdjust="spacingAndGlyphs">1.29</text>
<text x="887.5" y="628.1" font-size="16" text-anchor="end" font-weight="normal" fill="#222" font-family='"Liberation Sans", sans-serif' textLength="8.6" lengthAdjust="spacingAndGlyphs">0</text>
<text x="887.5" y="592.9" font-size="16" text-anchor="end" font-weight="normal" fill="#222" font-family='"Liberation Sans", sans-serif' textLength="17.2" lengthAdjust="spacingAndGlyphs">20</text>
<text x="887.5" y="557.7" font-size="16" text-anchor="end" font-weight="normal" fill="#222" font-family='"Liberation Sans", sans-serif' textLength="17.2" lengthAdjust="spacingAndGlyphs">40</text>
<text x="887.5" y="522.5" font-size="16" text-anchor="end" font-weight="normal" fill="#222" font-family='"Liberation Sans", sans-serif' textLength="17.2" lengthAdjust="spacingAndGlyphs">60</text>
<text x="887.5" y="487.2" font-size="16" text-anchor="end" font-weight="normal" fill="#222" font-family='"Liberation Sans", sans-serif' textLength="17.2" lengthAdjust="spacingAndGlyphs">80</text>
<text x="887.5" y="452" font-size="16" text-anchor="end" font-weight="normal" fill="#222" font-family='"Liberation Sans", sans-serif' textLength="25.8" lengthAdjust="spacingAndGlyphs">100</text>
<text x="887.5" y="416.8" font-size="16" text-anchor="end" font-weight="normal" fill="#222" font-family='"Liberation Sans", sans-serif' textLength="25.8" lengthAdjust="spacingAndGlyphs">120</text>
<text x="999.3" y="377.4" font-size="16.5" text-anchor="start" font-weight="normal" fill="#222" font-family='"Liberation Sans", sans-serif' textLength="90" lengthAdjust="spacingAndGlyphs">Energy (eV)</text>
<text x="974" y="661.6" font-size="17.5" text-anchor="start" font-weight="normal" fill="#222" font-family='"Liberation Sans", sans-serif' textLength="130.8" lengthAdjust="spacingAndGlyphs">Wavelength (nm)</text>
<text x="859.5" y="540.3" font-size="15" text-anchor="start" font-weight="normal" fill="#222" font-family='"Liberation Sans", sans-serif' textLength="64.8" lengthAdjust="spacingAndGlyphs" transform="rotate(-90 859.5 540.3)">PL counts</text>
<g clip-path="url(#clipf)">
<polyline points="895.1,543.6 895.4,547.3 895.8,525.3 896.1,525.8 896.4,558.3 896.8,559.8 897.1,557.8 897.4,529.5 897.7,553.6 898.1,548.6 898.4,570.7 898.7,534.2 899.1,549.8 899.4,534.7 899.7,574.4 900.1,564.1 900.4,560.9 900.7,543.2 901,552.6 901.4,526 901.7,556.5 902,555.1 902.4,527.6 902.7,527.8 903,546.9 903.4,556.6 903.7,536.5 904,537.4 904.3,557.8 904.7,537.1 905,518 905.3,550 905.7,532.4 906,560.8 906.3,545.9 906.7,542.4 907,523.6 907.3,528.4 907.6,535.4 908,538.3 908.3,532.9 908.6,541.1 909,533.5 909.3,533.7 909.6,540.7 910,535.5 910.3,563.5 910.6,514.9 910.9,537.2 911.3,535.5 911.6,529.6 911.9,524.1 912.3,526.6 912.6,537.1 912.9,505.3 913.3,526.9 913.6,537 913.9,558.9 914.2,526.7 914.6,546.5 914.9,528.3 915.2,528.9 915.6,539.1 915.9,538.1 916.2,553.2 916.6,545.6 916.9,528.5 917.2,531.4 917.5,521 917.9,512.3 918.2,502.1 918.5,516.7 918.9,496.8 919.2,492.6 919.5,548 919.9,525.9 920.2,523.5 920.5,534.8 920.8,511.1 921.2,506.4 921.5,498 921.8,527.5 922.2,521 922.5,502.1 922.8,524.9 923.2,515.5 923.5,523.6 923.8,518.9 924.1,517 924.5,500.8 924.8,518.8 925.1,522.8 925.5,499.8 925.8,538.4 926.1,508.3 926.5,493.9 926.8,517.3 927.1,515.4 927.4,508.1 927.8,497.9 928.1,498.5 928.4,511.7 928.8,506.3 929.1,525.1 929.4,518.3 929.8,507.1 930.1,512.8 930.4,514 930.7,498 931.1,498.7 931.4,497.2 931.7,507.2 932.1,508.2 932.4,523.3 932.7,491.6 933.1,523.7 933.4,506.2 933.7,486.5 934,500 934.4,489.7 934.7,496.6 935,509.3 935.4,502.2 935.7,470 936,469.5 936.4,469 936.7,511.7 937,519.7 937.3,505.1 937.7,504.1 938,497.6 938.3,478.7 938.7,497.1 939,489.1 939.3,515.4 939.7,492.7 940,488.7 940.3,504.5 940.6,486.8 941,472 941.3,493.3 941.6,508.6 942,487 942.3,515.3 942.6,484 943,497.7 943.3,506.6 943.6,461.4 943.9,489 944.3,492.9 944.6,478.1 944.9,483.3 945.3,495.3 945.6,470.1 945.9,478.6 946.3,482.2 946.6,485.2 946.9,493.5 947.2,484.7 947.6,465.8 947.9,493.7 948.2,480.5 948.6,471.4 948.9,477.8 949.2,510.5 949.6,456.3 949.9,476.4 950.2,478 950.5,502.7 950.9,459.3 951.2,474.9 951.5,470 951.9,464.9 952.2,469.2 952.5,478.4 952.9,468.3 953.2,464 953.5,474.2 953.8,477.8 954.2,497.4 954.5,494.2 954.8,461.4 955.2,473.7 955.5,466.2 955.8,476.1 956.2,484.5 956.5,468.4 956.8,475 957.1,458.6 957.5,478.2 957.8,488.8 958.1,463.2 958.5,482.7 958.8,467.7 959.1,462.6 959.5,469.2 959.8,471.8 960.1,444.4 960.4,469.9 960.8,457.9 961.1,448.3 961.4,448.7 961.8,483.1 962.1,447.5 962.4,443.6 962.8,463.5 963.1,461.7 963.4,467.7 963.7,464.2 964.1,466.6 964.4,472.7 964.7,466.9 965.1,462.2 965.4,492.8 965.7,456.2 966.1,461.8 966.4,465.7 966.7,468.1 967,467.3 967.4,480.4 967.7,481.1 968,463.7 968.4,469.9 968.7,460.1 969,476.7 969.4,452.5 969.7,459.9 970,470.5 970.3,457 970.7,461.2 971,442 971.3,476 971.7,428.2 972,449.5 972.3,455.2 972.7,447.7 973,462.2 973.3,426.8 973.6,446.1 974,459.3 974.3,454 974.6,430.5 975,459.2 975.3,437.3 975.6,457.6 976,477 976.3,472.6 976.6,458.4 976.9,467.8 977.3,441.4 977.6,441.1 977.9,446.5 978.3,423.2 978.6,471.7 978.9,466.1 979.3,453.3 979.6,437.2 979.9,464.5 980.2,428.6 980.6,428 980.9,459.6 981.2,449.2 981.6,447.2 981.9,468.5 982.2,469.9 982.6,433.1 982.9,444.3 983.2,441.9 983.5,463.9 983.9,448.3 984.2,452.6 984.5,461.8 984.9,452.1 985.2,450.6 985.5,446.7 985.9,445.2 986.2,426.8 986.5,457.7 986.8,434.5 987.2,426 987.5,430.9 987.8,442.4 988.2,437.3 988.5,432.1 988.8,457.4 989.2,459.7 989.5,453.8 989.8,455 990.1,444.9 990.5,455.3 990.8,451 991.1,442.5 991.5,449.1 991.8,436 992.1,438.6 992.5,441.3 992.8,447.7 993.1,427.9 993.4,437.8 993.8,459.2 994.1,453.5 994.4,421.7 994.8,437.1 995.1,437.3 995.4,419.1 995.8,437.1 996.1,450.4 996.4,448.7 996.7,443 997.1,457.2 997.4,432.9 997.7,468.6 998.1,449.7 998.4,446.4 998.7,444.6 999.1,451.2 999.4,448.5 999.7,419.7 1000,436.7 1000.4,450 1000.7,431.4 1001,445 1001.4,426.5 1001.7,450.3 1002,455.3 1002.4,445.7 1002.7,435.6 1003,419.1 1003.3,424.8 1003.7,410.3 1004,437 1004.3,429.3 1004.7,423.7 1005,465.2 1005.3,427.3 1005.7,446.5 1006,438.3 1006.3,447.5 1006.6,416.5 1007,454.4 1007.3,443.2 1007.6,447.9 1008,453 1008.3,425.8 1008.6,431.7 1009,413.8 1009.3,419 1009.6,446.5 1009.9,440.9 1010.3,437.3 1010.6,438.7 1010.9,426.9 1011.3,438.4 1011.6,442 1011.9,448.7 1012.3,436.6 1012.6,445.3 1012.9,468.4 1013.2,429.6 1013.6,439.5 1013.9,440.8 1014.2,423 1014.6,447.6 1014.9,448.2 1015.2,435.1 1015.6,468.4 1015.9,441.9 1016.2,451.5 1016.5,420.9 1016.9,413.5 1017.2,449 1017.5,421.5 1017.9,452.5 1018.2,408.9 1018.5,408.9 1018.9,450.1 1019.2,436.5 1019.5,434 1019.8,447.9 1020.2,440.6 1020.5,430.2 1020.8,437.9 1021.2,421 1021.5,432.7 1021.8,434.8 1022.2,434.9 1022.5,408.9 1022.8,427 1023.1,458.2 1023.5,440.3 1023.8,435.8 1024.1,435.7 1024.5,443.1 1024.8,453.3 1025.1,449.8 1025.5,408.9 1025.8,446.4 1026.1,441.4 1026.4,441.9 1026.8,421.8 1027.1,434.3 1027.4,449 1027.8,428.3 1028.1,433.6 1028.4,446.2 1028.8,439.6 1029.1,456.7 1029.4,443.3 1029.7,439.9 1030.1,453.7 1030.4,428.9 1030.7,452.3 1031.1,445.6 1031.4,463.5 1031.7,428.7 1032.1,456.1 1032.4,426.3 1032.7,432.7 1033,437.1 1033.4,455.7 1033.7,448.9 1034,430.5 1034.4,443.2 1034.7,440.9 1035,447 1035.4,424.6 1035.7,440.9 1036,450 1036.3,425.6 1036.7,434.8 1037,447 1037.3,447.7 1037.7,431.6 1038,432.6 1038.3,429.2 1038.7,430.3 1039,430.8 1039.3,445.2 1039.6,426.5 1040,463.8 1040.3,435.4 1040.6,453.5 1041,436.5 1041.3,435.7 1041.6,456.8 1042,450.4 1042.3,447.3 1042.6,456.4 1042.9,417.5 1043.3,425.5 1043.6,456.5 1043.9,412.4 1044.3,430.1 1044.6,442.8 1044.9,430.6 1045.3,413.1 1045.6,432.8 1045.9,457.1 1046.2,435.5 1046.6,446.8 1046.9,453.8 1047.2,427 1047.6,422.2 1047.9,442.8 1048.2,446 1048.6,440 1048.9,429.8 1049.2,455.8 1049.5,424.8 1049.9,462.7 1050.2,432.5 1050.5,428 1050.9,451.3 1051.2,430.8 1051.5,441.7 1051.9,416.8 1052.2,443.6 1052.5,461 1052.8,476.9 1053.2,439.3 1053.5,438.2 1053.8,451.5 1054.2,425.2 1054.5,459.2 1054.8,430.5 1055.2,458.8 1055.5,454.1 1055.8,427 1056.1,420.7 1056.5,453.7 1056.8,437.7 1057.1,479.4 1057.5,445.9 1057.8,440.2 1058.1,443.1 1058.5,442.1 1058.8,430.2 1059.1,448.4 1059.4,451.7 1059.8,437.6 1060.1,468 1060.4,455.7 1060.8,457.5 1061.1,445.8 1061.4,440.2 1061.8,454.8 1062.1,471.6 1062.4,458.2 1062.7,438 1063.1,474.6 1063.4,432 1063.7,448.5 1064.1,455.2 1064.4,453 1064.7,464.5 1065.1,438.4 1065.4,454.1 1065.7,450 1066,426.5 1066.4,461.6 1066.7,468.3 1067,441.3 1067.4,457.8 1067.7,452 1068,468 1068.4,466 1068.7,475.3 1069,464.8 1069.3,457.1 1069.7,464.5 1070,459.7 1070.3,470.1 1070.7,430.5 1071,466.9 1071.3,456.6 1071.7,462 1072,490.1 1072.3,462.9 1072.6,483.4 1073,450.3 1073.3,465.3 1073.6,469.7 1074,490.8 1074.3,468.6 1074.6,459.9 1075,454.3 1075.3,483 1075.6,454 1075.9,473.4 1076.3,457.5 1076.6,457.1 1076.9,471.6 1077.3,463.7 1077.6,480.9 1077.9,455.1 1078.3,437.6 1078.6,461.5 1078.9,474.2 1079.2,497.3 1079.6,450.4 1079.9,450.9 1080.2,464.3 1080.6,479.9 1080.9,473.7 1081.2,485.6 1081.6,490.6 1081.9,461.8 1082.2,469 1082.5,476.5 1082.9,466.4 1083.2,442.7 1083.5,478.2 1083.9,481.2 1084.2,464.9 1084.5,452.6 1084.9,472.1 1085.2,482.7 1085.5,493.3 1085.8,462.6 1086.2,474.2 1086.5,487.4 1086.8,480.9 1087.2,464.2 1087.5,481.1 1087.8,482 1088.2,450.9 1088.5,472.9 1088.8,467 1089.1,489 1089.5,489.2 1089.8,500.4 1090.1,510.6 1090.5,483.2 1090.8,482 1091.1,474.3 1091.5,469.1 1091.8,489.5 1092.1,459.5 1092.4,495.1 1092.8,496.1 1093.1,485.4 1093.4,497.3 1093.8,483 1094.1,480.5 1094.4,485.2 1094.8,496.7 1095.1,494.7 1095.4,461.9 1095.7,500.7 1096.1,483 1096.4,519 1096.7,484.6 1097.1,489.2 1097.4,491.8 1097.7,486.4 1098.1,491.5 1098.4,487.1 1098.7,465.1 1099,507.9 1099.4,495.4 1099.7,491.7 1100,488.5 1100.4,506.7 1100.7,485.5 1101,504.5 1101.4,488.7 1101.7,496.2 1102,491.2 1102.3,481.2 1102.7,491.1 1103,503.9 1103.3,518.7 1103.7,487.6 1104,517.8 1104.3,489.7 1104.7,502.4 1105,511.4 1105.3,518.7 1105.6,507.8 1106,492.8 1106.3,490.4 1106.6,502.7 1107,505.2 1107.3,510.5 1107.6,505.8 1108,502.8 1108.3,518.9 1108.6,513.7 1108.9,500 1109.3,498.9 1109.6,495.9 1109.9,494.8 1110.3,514.7 1110.6,482.2 1110.9,512.9 1111.3,531.4 1111.6,492.5 1111.9,509.4 1112.2,525.8 1112.6,514.9 1112.9,489.5 1113.2,539.9 1113.6,512.2 1113.9,515.6 1114.2,511.2 1114.6,524.1 1114.9,491.7 1115.2,488.5 1115.5,517.3 1115.9,539.4 1116.2,517.3 1116.5,504.9 1116.9,518.6 1117.2,499.2 1117.5,524.2 1117.9,501.1 1118.2,525.2 1118.5,518.4 1118.8,499.3 1119.2,542.1 1119.5,516.5 1119.8,525.2 1120.2,518.7 1120.5,536.4 1120.8,538.9 1121.2,515 1121.5,515.2 1121.8,505.1 1122.1,516.6 1122.5,519.8 1122.8,509.4 1123.1,535.6 1123.5,521.1 1123.8,537.6 1124.1,514.4 1124.5,516.9 1124.8,536.8 1125.1,524 1125.4,553.8 1125.8,542.7 1126.1,519.5 1126.4,529.5 1126.8,534.4 1127.1,529.3 1127.4,518.7 1127.8,517.2 1128.1,524.7 1128.4,511.3 1128.7,515 1129.1,538.5 1129.4,523.3 1129.7,520.6 1130.1,520.6 1130.4,522 1130.7,537.3 1131.1,533 1131.4,525.6 1131.7,544.7 1132,533.2 1132.4,551.8 1132.7,532.3 1133,526.2 1133.4,517.4 1133.7,536.2 1134,538.1 1134.4,518.2 1134.7,534.7 1135,531.1 1135.3,510 1135.7,564.3 1136,522.3 1136.3,524.2 1136.7,546.3 1137,548.9 1137.3,534.1 1137.7,541 1138,538.5 1138.3,533.8 1138.6,544.6 1139,536.9 1139.3,518.3 1139.6,538.1 1140,546.5 1140.3,540.2 1140.6,523 1141,524 1141.3,548.5 1141.6,559.8 1141.9,552.9 1142.3,532.1 1142.6,522.8 1142.9,552.3 1143.3,550.8 1143.6,540.2 1143.9,555.3 1144.3,544.6 1144.6,554.2 1144.9,543 1145.2,551.9 1145.6,528.1 1145.9,536.4 1146.2,551.4 1146.6,545.3 1146.9,552.1 1147.2,541.8 1147.6,550.4 1147.9,558.3 1148.2,561.9 1148.5,545.1 1148.9,560 1149.2,531.8 1149.5,536.1 1149.9,537.4 1150.2,538.4 1150.5,576.8 1150.9,539.2 1151.2,533.8 1151.5,551.6 1151.8,526 1152.2,555.4 1152.5,545 1152.8,550.4 1153.2,547.4 1153.5,552.7 1153.8,546.2 1154.2,571.7 1154.5,533.9 1154.8,541.8 1155.1,530.7 1155.5,559 1155.8,547.3 1156.1,550.6 1156.5,539.6 1156.8,551.2 1157.1,560.1 1157.5,542.5 1157.8,552.4 1158.1,523.9 1158.4,545.3 1158.8,568.9 1159.1,532 1159.4,549.8 1159.8,550.7 1160.1,553.5 1160.4,572.8 1160.8,542.4 1161.1,559.1 1161.4,551.4 1161.7,561.9 1162.1,538.1 1162.4,575.6 1162.7,551.6 1163.1,557.4 1163.4,542.9 1163.7,576.7 1164.1,555.7 1164.4,557.7 1164.7,565.5 1165,572.1 1165.4,575.4 1165.7,589.7 1166,583.9 1166.4,567.9 1166.7,565.6 1167,566.1 1167.4,562.6 1167.7,584.9 1168,559.2 1168.3,578 1168.7,571.7 1169,574.9 1169.3,567.8 1169.7,561.5 1170,544.2 1170.3,571.1 1170.7,574.3 1171,579.1 1171.3,567.4 1171.6,560.3 1172,583.7 1172.3,574.3 1172.6,561.9 1173,568.8 1173.3,587.5 1173.6,541.2 1174,581.3 1174.3,572.2 1174.6,574 1174.9,572.3 1175.3,583 1175.6,564.9 1175.9,595.2 1176.3,564.3 1176.6,584.8 1176.9,560.7 1177.3,577 1177.6,606 1177.9,570.8 1178.2,557.1 1178.6,571.5 1178.9,602.8 1179.2,573.2 1179.6,582.4 1179.9,563.5 1180.2,573.5 1180.6,575.2 1180.9,585.4 1181.2,573.5 1181.5,579.9 1181.9,566.8 1182.2,565 1182.5,555.9 1182.9,588.2 1183.2,587" fill="none" stroke="#ff1a1a" stroke-width="1.7" stroke-linejoin="round" stroke-linecap="round"/>
<polyline points="895.1,617.8 895.4,611.7 895.8,618.6 896.1,624.9 896.4,606.7 896.8,613.1 897.1,614.6 897.4,621.4 897.7,618.7 898.1,627.8 898.4,621.7 898.7,621.5 899.1,616.3 899.4,627.1 899.7,615 900.1,603.3 900.4,618.7 900.7,614.8 901,614.9 901.4,611.3 901.7,627.8 902,604.4 902.4,610.2 902.7,619.6 903,612.1 903.4,620.4 903.7,612.8 904,602.2 904.3,605.8 904.7,611.7 905,600 905.3,596.5 905.7,618.9 906,608 906.3,602.1 906.7,616.3 907,619.2 907.3,626.9 907.6,601.6 908,620.4 908.3,616.8 908.6,618 909,599 909.3,627.8 909.6,595.7 910,627.8 910.3,614 910.6,608.2 910.9,627.8 911.3,618.6 911.6,612.1 911.9,592.1 912.3,618.7 912.6,627.8 912.9,613.3 913.3,604.5 913.6,615.4 913.9,605.3 914.2,618.6 914.6,617.5 914.9,606.8 915.2,611.2 915.6,605 915.9,612.8 916.2,597.2 916.6,613.4 916.9,621.3 917.2,626.6 917.5,615 917.9,620.3 918.2,600.3 918.5,605.3 918.9,599.1 919.2,619.2 919.5,614.4 919.9,621.5 920.2,619 920.5,613.1 920.8,613.4 921.2,613.6 921.5,610.5 921.8,601.7 922.2,608.4 922.5,597.2 922.8,610.8 923.2,605.1 923.5,605.8 923.8,617.3 924.1,613.8 924.5,625.5 924.8,608.4 925.1,611.1 925.5,615.4 925.8,608.3 926.1,614.4 926.5,598.8 926.8,613.1 927.1,599 927.4,611.3 927.8,591.2 928.1,612.5 928.4,615.6 928.8,609.6 929.1,627.8 929.4,620 929.8,613 930.1,609.1 930.4,612.3 930.7,619 931.1,615.1 931.4,596.6 931.7,592.5 932.1,588.2 932.4,610.2 932.7,601.2 933.1,606.7 933.4,618 933.7,604.9 934,611.9 934.4,622.4 934.7,607.7 935,609.9 935.4,605.8 935.7,592.6 936,612.8 936.4,616.2 936.7,619.1 937,591.5 937.3,613.3 937.7,612.2 938,615.8 938.3,605.9 938.7,607.5 939,599.4 939.3,600.9 939.7,599.9 940,617.2 940.3,600.4 940.6,611.6 941,606.8 941.3,592.8 941.6,614.3 942,616.9 942.3,623.7 942.6,602.2 943,608.9 943.3,608.4 943.6,607.3 943.9,611.4 944.3,611.2 944.6,602 944.9,620.9 945.3,593.9 945.6,601.1 945.9,612.6 946.3,608.8 946.6,602.1 946.9,594 947.2,619.1 947.6,605.2 947.9,607.7 948.2,601.6 948.6,609.2 948.9,603.8 949.2,607.9 949.6,610.4 949.9,610.2 950.2,597.4 950.5,603.4 950.9,610.4 951.2,606.1 951.5,605.8 951.9,624.5 952.2,620.8 952.5,596.9 952.9,605.7 953.2,600 953.5,610.5 953.8,604.2 954.2,600.3 954.5,589.1 954.8,601.7 955.2,603 955.5,596.9 955.8,608 956.2,588.9 956.5,607 956.8,593.1 957.1,617.8 957.5,599 957.8,609.2 958.1,611.5 958.5,624.5 958.8,602.6 959.1,588.6 959.5,605.9 959.8,600.8 960.1,603.9 960.4,605.4 960.8,597 961.1,608 961.4,582.8 961.8,608.1 962.1,608.3 962.4,615.1 962.8,619.6 963.1,582.5 963.4,602.1 963.7,623.5 964.1,603.3 964.4,603.2 964.7,600.2 965.1,598.6 965.4,598 965.7,607.7 966.1,612.3 966.4,610.4 966.7,592.4 967,591.3 967.4,609.5 967.7,606.7 968,600.9 968.4,596.5 968.7,611.7 969,597.6 969.4,587.9 969.7,622.4 970,602 970.3,604.1 970.7,606.6 971,595.6 971.3,603.9 971.7,594.3 972,602.1 972.3,605.5 972.7,597.8 973,601.9 973.3,603.6 973.6,618.1 974,598 974.3,616.8 974.6,599.8 975,600.6 975.3,604.6 975.6,607.2 976,599.8 976.3,606.4 976.6,599 976.9,602.1 977.3,594.8 977.6,603.2 977.9,602.7 978.3,604 978.6,591.9 978.9,610.9 979.3,599.7 979.6,601.2 979.9,579.2 980.2,605 980.6,610.8 980.9,609.4 981.2,603.2 981.6,615.9 981.9,597.5 982.2,591.2 982.6,595.5 982.9,604.9 983.2,611.7 983.5,601 983.9,605.6 984.2,612.6 984.5,603.1 984.9,597.7 985.2,601.8 985.5,604.6 985.9,602.7 986.2,600.7 986.5,600.3 986.8,603.1 987.2,588.8 987.5,585.7 987.8,597.8 988.2,596.5 988.5,585.1 988.8,612.4 989.2,604.8 989.5,596.4 989.8,589.9 990.1,613.3 990.5,607.9 990.8,595.3 991.1,577.1 991.5,578.1 991.8,608.5 992.1,592.7 992.5,576.8 992.8,593.3 993.1,609.3 993.4,578.8 993.8,616.1 994.1,596.1 994.4,596.5 994.8,609.1 995.1,607.9 995.4,601.2 995.8,596.4 996.1,590 996.4,617.3 996.7,603.2 997.1,609.5 997.4,601.6 997.7,575.9 998.1,606.4 998.4,596.5 998.7,610.1 999.1,605.8 999.4,593.8 999.7,592.2 1000,577.3 1000.4,599.3 1000.7,587.1 1001,576.6 1001.4,598.7 1001.7,590.6 1002,578.9 1002.4,614 1002.7,594.9 1003,597.7 1003.3,576.3 1003.7,615.1 1004,595.8 1004.3,588.4 1004.7,600.6 1005,593.5 1005.3,590.1 1005.7,598 1006,574.4 1006.3,582.7 1006.6,609.1 1007,592.5 1007.3,590.5 1007.6,601 1008,586 1008.3,594.6 1008.6,588.8 1009,591.9 1009.3,583.4 1009.6,594 1009.9,595.6 1010.3,595.3 1010.6,583.5 1010.9,583.9 1011.3,594.6 1011.6,588.8 1011.9,593.2 1012.3,599 1012.6,577 1012.9,573.3 1013.2,587.6 1013.6,589.4 1013.9,601.8 1014.2,593.3 1014.6,583.8 1014.9,582.3 1015.2,593.8 1015.6,582.2 1015.9,614.1 1016.2,594.9 1016.5,593.7 1016.9,590.8 1017.2,599.5 1017.5,599.2 1017.9,583.2 1018.2,598.7 1018.5,600.1 1018.9,572.5 1019.2,583.5 1019.5,606.7 1019.8,590.5 1020.2,585.3 1020.5,610.2 1020.8,591.4 1021.2,592.7 1021.5,590.5 1021.8,588.8 1022.2,594.3 1022.5,593.6 1022.8,581.3 1023.1,607.2 1023.5,583.1 1023.8,594.1 1024.1,613 1024.5,601.9 1024.8,597.4 1025.1,590.6 1025.5,585.2 1025.8,600 1026.1,592.7 1026.4,580.6 1026.8,571.5 1027.1,588.9 1027.4,571.4 1027.8,594.5 1028.1,597.9 1028.4,585.8 1028.8,599.2 1029.1,596.6 1029.4,583.1 1029.7,584.1 1030.1,596.1 1030.4,584.3 1030.7,589.4 1031.1,590.2 1031.4,588.2 1031.7,578.3 1032.1,587.5 1032.4,588.9 1032.7,612 1033,589.9 1033.4,595.1 1033.7,570.6 1034,599.4 1034.4,593.5 1034.7,588.6 1035,600.1 1035.4,595.3 1035.7,585 1036,590 1036.3,595.5 1036.7,584.1 1037,600.8 1037.3,592.2 1037.7,592.8 1038,590.2 1038.3,581.9 1038.7,599.3 1039,585.6 1039.3,595.4 1039.6,583.4 1040,590.8 1040.3,590.1 1040.6,601.8 1041,605.8 1041.3,583.5 1041.6,583.6 1042,597.5 1042.3,584.3 1042.6,576.2 1042.9,607.7 1043.3,590 1043.6,574.6 1043.9,584.4 1044.3,598.9 1044.6,604.9 1044.9,598 1045.3,581.7 1045.6,583.5 1045.9,594.8 1046.2,581 1046.6,601.4 1046.9,590.5 1047.2,570.2 1047.6,604.7 1047.9,588.8 1048.2,589.5 1048.6,592.5 1048.9,571.7 1049.2,594.3 1049.5,590.2 1049.9,596.3 1050.2,580.1 1050.5,591.8 1050.9,581.2 1051.2,597.7 1051.5,595.6 1051.9,576 1052.2,604.2 1052.5,576.1 1052.8,590.7 1053.2,586.8 1053.5,593.7 1053.8,589.5 1054.2,591.1 1054.5,578.3 1054.8,604.8 1055.2,580.5 1055.5,582.8 1055.8,589.5 1056.1,587 1056.5,598.8 1056.8,609.1 1057.1,579.5 1057.5,582.4 1057.8,593.8 1058.1,582.3 1058.5,574 1058.8,594.1 1059.1,593.6 1059.4,577.6 1059.8,577.3 1060.1,595.4 1060.4,576.8 1060.8,593.2 1061.1,590.2 1061.4,601.1 1061.8,585.6 1062.1,585.2 1062.4,591.7 1062.7,585.8 1063.1,596.2 1063.4,589.1 1063.7,587.7 1064.1,579.5 1064.4,586.2 1064.7,601 1065.1,608.4 1065.4,593.8 1065.7,582.7 1066,590.5 1066.4,579.4 1066.7,589.8 1067,589.7 1067.4,588.1 1067.7,588.1 1068,588.2 1068.4,584.2 1068.7,592.5 1069,591.1 1069.3,586.7 1069.7,594.8 1070,572.1 1070.3,588.6 1070.7,608.1 1071,591.8 1071.3,580.9 1071.7,582.2 1072,591.3 1072.3,591.7 1072.6,579.4 1073,587.7 1073.3,589.1 1073.6,581.5 1074,578.4 1074.3,592.5 1074.6,588.7 1075,570.2 1075.3,589.4 1075.6,591.8 1075.9,588.5 1076.3,587.5 1076.6,573.1 1076.9,570.8 1077.3,586.2 1077.6,588.8 1077.9,585.2 1078.3,598.6 1078.6,588.7 1078.9,575.8 1079.2,594.5 1079.6,586.6 1079.9,590.5 1080.2,603.1 1080.6,581.3 1080.9,579.7 1081.2,585.3 1081.6,578.4 1081.9,584.4 1082.2,589.6 1082.5,594.7 1082.9,594.1 1083.2,595.2 1083.5,591.3 1083.9,589.8 1084.2,581.7 1084.5,591.7 1084.9,580.7 1085.2,607.9 1085.5,607.9 1085.8,571.4 1086.2,587.5 1086.5,581.5 1086.8,575.1 1087.2,578 1087.5,581.6 1087.8,593.6 1088.2,583.9 1088.5,587.2 1088.8,583.8 1089.1,592.7 1089.5,587.6 1089.8,573.3 1090.1,578 1090.5,591.8 1090.8,581.5 1091.1,589.5 1091.5,588.2 1091.8,588.4 1092.1,582.5 1092.4,586.5 1092.8,576.2 1093.1,596.4 1093.4,596.9 1093.8,586 1094.1,585 1094.4,591.8 1094.8,583.5 1095.1,608.3 1095.4,580.2 1095.7,578.9 1096.1,575.3 1096.4,583.1 1096.7,590.4 1097.1,571.8 1097.4,589.6 1097.7,591.8 1098.1,590.8 1098.4,586.7 1098.7,588.8 1099,588.6 1099.4,587.6 1099.7,588.3 1100,575.5 1100.4,574.2 1100.7,601.1 1101,584.2 1101.4,567.5 1101.7,581.7 1102,582.7 1102.3,572.6 1102.7,586.2 1103,590.9 1103.3,580 1103.7,608.9 1104,586.5 1104.3,609 1104.7,576.4 1105,594.3 1105.3,583.6 1105.6,597.3 1106,582.6 1106.3,584.3 1106.6,602.7 1107,596.5 1107.3,594 1107.6,577.3 1108,576.5 1108.3,596.5 1108.6,581 1108.9,583.1 1109.3,578.7 1109.6,596.7 1109.9,587.9 1110.3,583.2 1110.6,584.2 1110.9,585.5 1111.3,603.4 1111.6,591.3 1111.9,595.2 1112.2,584.1 1112.6,586.3 1112.9,589.8 1113.2,596.8 1113.6,593.5 1113.9,596.4 1114.2,581.1 1114.6,591.1 1114.9,586.8 1115.2,581.1 1115.5,587.3 1115.9,588.5 1116.2,583.6 1116.5,588.3 1116.9,589.4 1117.2,596.5 1117.5,587.1 1117.9,585.9 1118.2,599.2 1118.5,590.8 1118.8,604.7 1119.2,599.3 1119.5,590.9 1119.8,588.7 1120.2,603.1 1120.5,589.7 1120.8,585 1121.2,587 1121.5,597.4 1121.8,577.2 1122.1,582.9 1122.5,587 1122.8,591.1 1123.1,582.4 1123.5,588.5 1123.8,599.8 1124.1,578.3 1124.5,588.9 1124.8,590.9 1125.1,592.4 1125.4,594.9 1125.8,592.7 1126.1,588.1 1126.4,595.3 1126.8,596.2 1127.1,604.1 1127.4,588.8 1127.8,585.3 1128.1,591 1128.4,573.5 1128.7,585.2 1129.1,585.7 1129.4,584.8 1129.7,596.8 1130.1,607.5 1130.4,595 1130.7,587.3 1131.1,610 1131.4,592 1131.7,611.8 1132,595.3 1132.4,592.5 1132.7,591.9 1133,588.4 1133.4,602.1 1133.7,586.9 1134,601.6 1134.4,579.7 1134.7,585.1 1135,598.2 1135.3,589.4 1135.7,612 1136,581.2 1136.3,599.4 1136.7,571.4 1137,607.4 1137.3,577.2 1137.7,591.2 1138,612.9 1138.3,586 1138.6,589.2 1139,578 1139.3,607.3 1139.6,594.6 1140,602 1140.3,601.9 1140.6,589.3 1141,595.7 1141.3,606.9 1141.6,590.5 1141.9,601.1 1142.3,593 1142.6,587.7 1142.9,594.5 1143.3,603.7 1143.6,585.4 1143.9,592 1144.3,612 1144.6,591.4 1144.9,587.7 1145.2,588.8 1145.6,592 1145.9,593.4 1146.2,596.2 1146.6,595.7 1146.9,582.1 1147.2,596.7 1147.6,598.4 1147.9,598.8 1148.2,590 1148.5,599.2 1148.9,591 1149.2,593.1 1149.5,579.4 1149.9,598.9 1150.2,591.7 1150.5,598.9 1150.9,592.5 1151.2,595.7 1151.5,586.4 1151.8,599.4 1152.2,607.3 1152.5,606.5 1152.8,594.4 1153.2,605 1153.5,599.3 1153.8,600.6 1154.2,580 1154.5,588.2 1154.8,603 1155.1,597.5 1155.5,609 1155.8,590 1156.1,590.7 1156.5,598.6 1156.8,611 1157.1,601.2 1157.5,598.2 1157.8,611.6 1158.1,597.9 1158.4,604.8 1158.8,606.7 1159.1,608.1 1159.4,608.6 1159.8,601.4 1160.1,602.3 1160.4,601.2 1160.8,600.7 1161.1,601.8 1161.4,604 1161.7,597.5 1162.1,589.9 1162.4,601.7 1162.7,599.6 1163.1,592.3 1163.4,605.4 1163.7,619.5 1164.1,604.6 1164.4,578.5 1164.7,612.2 1165,600 1165.4,591.6 1165.7,590.4 1166,596.1 1166.4,620.3 1166.7,595.2 1167,611.7 1167.4,599.7 1167.7,588.7 1168,614.1 1168.3,609.7 1168.7,597.3 1169,601.6 1169.3,617.2 1169.7,592.3 1170,606.7 1170.3,581.1 1170.7,587.1 1171,611.2 1171.3,605.1 1171.6,606.1 1172,587.8 1172.3,605.4 1172.6,615.1 1173,601.6 1173.3,596.2 1173.6,600.9 1174,601.7 1174.3,609.4 1174.6,593.1 1174.9,595.3 1175.3,599.1 1175.6,606.7 1175.9,608.3 1176.3,610.6 1176.6,589.3 1176.9,595.5 1177.3,600.6 1177.6,614.8 1177.9,591.8 1178.2,600.7 1178.6,612.1 1178.9,601.2 1179.2,603.5 1179.6,596.5 1179.9,621.3 1180.2,604.2 1180.6,594.5 1180.9,610.2 1181.2,597.1 1181.5,595.1 1181.9,593.8 1182.2,607.2 1182.5,596 1182.9,583.7 1183.2,605" fill="none" stroke="#0a0a0a" stroke-width="1.6" stroke-linejoin="round" stroke-linecap="round"/>
<polyline points="894.6,553.5 896.6,550.9 898.6,548.4 900.6,545.9 902.6,543.4 904.6,540.9 906.6,538.3 908.6,535.8 910.6,533.3 912.6,530.8 914.6,528.2 916.6,525.7 918.6,523.1 920.6,520.5 922.6,518 924.6,515.4 926.6,512.7 928.6,509.9 930.6,507.1 932.6,504.2 934.6,501.3 936.6,498.4 938.6,495.5 940.6,492.6 942.6,489.8 944.6,487 946.6,484.2 948.6,481.5 950.6,479 952.6,476.5 954.6,474.2 956.6,472 958.6,470 960.6,468 962.6,466.1 964.6,464.2 966.6,462.4 968.6,460.6 970.6,458.8 972.6,457.2 974.6,455.6 976.6,454.1 978.6,452.7 980.6,451.4 982.6,450.2 984.6,449.1 986.6,448 988.6,447 990.6,445.9 992.6,444.9 994.6,443.9 996.6,442.9 998.6,442 1000.6,441.2 1002.6,440.4 1004.6,439.8 1006.6,439.3 1008.6,438.9 1010.6,438.7 1012.6,438.7 1014.6,438.7 1016.6,438.7 1018.6,438.7 1020.6,438.7 1022.6,438.7 1024.6,438.7 1026.6,438.7 1028.6,438.7 1030.6,438.7 1032.6,438.7 1034.6,438.8 1036.6,439.2 1038.6,439.8 1040.6,440.6 1042.6,441.5 1044.6,442.5 1046.6,443.6 1048.6,444.8 1050.6,445.9 1052.6,447 1054.6,448.1 1056.6,449.4 1058.6,450.7 1060.6,452.1 1062.6,453.6 1064.6,455.1 1066.6,456.8 1068.6,458.5 1070.6,460.2 1072.6,462 1074.6,463.9 1076.6,465.8 1078.6,467.7 1080.6,469.7 1082.6,471.8 1084.6,474 1086.6,476.4 1088.6,478.9 1090.6,481.5 1092.6,484.1 1094.6,486.8 1096.6,489.5 1098.6,492.1 1100.6,494.8 1102.6,497.4 1104.6,499.9 1106.6,502.4 1108.6,504.7 1110.6,507.1 1112.6,509.4 1114.6,511.8 1116.6,514.1 1118.6,516.4 1120.6,518.7 1122.6,520.9 1124.6,523.1 1126.6,525.3 1128.6,527.4 1130.6,529.5 1132.6,531.5 1134.6,533.5 1136.6,535.4 1138.6,537.2 1140.6,538.9 1142.6,540.6 1144.6,542.2 1146.6,543.9 1148.6,545.5 1150.6,547.1 1152.6,548.8 1154.6,550.5 1156.6,552.2 1158.6,554.1 1160.6,556.1 1162.6,558.1 1164.6,560.3 1166.6,562.5 1168.6,564.8 1170.6,567.2 1172.6,569.7 1174.6,572.3 1176.6,574.9 1178.6,577.7 1180.6,580.5 1182.6,583.5" fill="none" stroke="#6aa82a" stroke-width="2.2" stroke-linejoin="round" stroke-linecap="round" stroke-dasharray="6 4" stroke-opacity="0.7" stroke-linecap="butt"/>
<polyline points="894.6,616 896.6,615.6 898.6,615.2 900.6,614.8 902.6,614.5 904.6,614.1 906.6,613.7 908.6,613.3 910.6,612.9 912.6,612.6 914.6,612.2 916.6,611.8 918.6,611.4 920.6,611 922.6,610.6 924.6,610.3 926.6,609.9 928.6,609.5 930.6,609.1 932.6,608.7 934.6,608.3 936.6,608 938.6,607.6 940.6,607.2 942.6,606.8 944.6,606.5 946.6,606.1 948.6,605.7 950.6,605.3 952.6,605 954.6,604.6 956.6,604.2 958.6,603.9 960.6,603.5 962.6,603.1 964.6,602.8 966.6,602.4 968.6,602 970.6,601.6 972.6,601.2 974.6,600.9 976.6,600.5 978.6,600.1 980.6,599.7 982.6,599.3 984.6,598.9 986.6,598.5 988.6,598.2 990.6,597.8 992.6,597.4 994.6,597 996.6,596.7 998.6,596.3 1000.6,596 1002.6,595.6 1004.6,595.3 1006.6,594.9 1008.6,594.6 1010.6,594.3 1012.6,594 1014.6,593.7 1016.6,593.4 1018.6,593.1 1020.6,592.8 1022.6,592.6 1024.6,592.3 1026.6,592.1 1028.6,591.9 1030.6,591.6 1032.6,591.4 1034.6,591.1 1036.6,590.9 1038.6,590.6 1040.6,590.4 1042.6,590.1 1044.6,589.9 1046.6,589.6 1048.6,589.4 1050.6,589.2 1052.6,589 1054.6,588.8 1056.6,588.6 1058.6,588.4 1060.6,588.2 1062.6,588 1064.6,587.9 1066.6,587.7 1068.6,587.6 1070.6,587.5 1072.6,587.4 1074.6,587.4 1076.6,587.3 1078.6,587.3 1080.6,587.3 1082.6,587.3 1084.6,587.3 1086.6,587.4 1088.6,587.4 1090.6,587.5 1092.6,587.6 1094.6,587.7 1096.6,587.8 1098.6,587.9 1100.6,588.1 1102.6,588.2 1104.6,588.4 1106.6,588.5 1108.6,588.7 1110.6,588.9 1112.6,589.1 1114.6,589.3 1116.6,589.5 1118.6,589.7 1120.6,589.9 1122.6,590.1 1124.6,590.3 1126.6,590.5 1128.6,590.8 1130.6,591 1132.6,591.3 1134.6,591.6 1136.6,592 1138.6,592.4 1140.6,592.8 1142.6,593.2 1144.6,593.7 1146.6,594.2 1148.6,594.7 1150.6,595.2 1152.6,595.8 1154.6,596.3 1156.6,596.9 1158.6,597.5 1160.6,598 1162.6,598.6 1164.6,599.2 1166.6,599.8 1168.6,600.4 1170.6,601 1172.6,601.5 1174.6,602.1 1176.6,602.6 1178.6,603.2 1180.6,603.7 1182.6,604.2" fill="none" stroke="#22cc44" stroke-width="2.4" stroke-linejoin="round" stroke-linecap="round" stroke-dasharray="6 4" stroke-linecap="butt"/>
</g>
<rect x="1071" y="415.2" width="109.4" height="31.8" fill="#fff" stroke="#bbb" stroke-width="1"/>
<line x1="1072.4" y1="423.3" x2="1101.2" y2="423.3" stroke="#ff2020" stroke-width="2"/>
<line x1="1072.4" y1="438.6" x2="1101.2" y2="438.6" stroke="#111" stroke-width="2.2"/>
<text x="1103.9" y="428.2" font-size="12" text-anchor="start" font-weight="normal" fill="#222" font-family='"Liberation Sans", sans-serif' textLength="40.5" lengthAdjust="spacingAndGlyphs">Het. PL</text>
<text x="1103.9" y="443.2" font-size="12" text-anchor="start" font-weight="normal" fill="#222" font-family='"Liberation Sans", sans-serif' textLength="70" lengthAdjust="spacingAndGlyphs">PbS-CdS PL</text>
<line x1="1130.7" y1="511" x2="1130.7" y2="456" stroke="#111" stroke-width="1.6"/>
<polygon points="1130.7,449.5 1127.9,458 1133.5,458" fill="#111"/>
<text x="1135.4" y="485.9" font-size="16" text-anchor="start" font-weight="normal" fill="#222" font-family='"Liberation Sans", sans-serif' textLength="32" lengthAdjust="spacingAndGlyphs">5.2x</text></g></svg></body></html>
